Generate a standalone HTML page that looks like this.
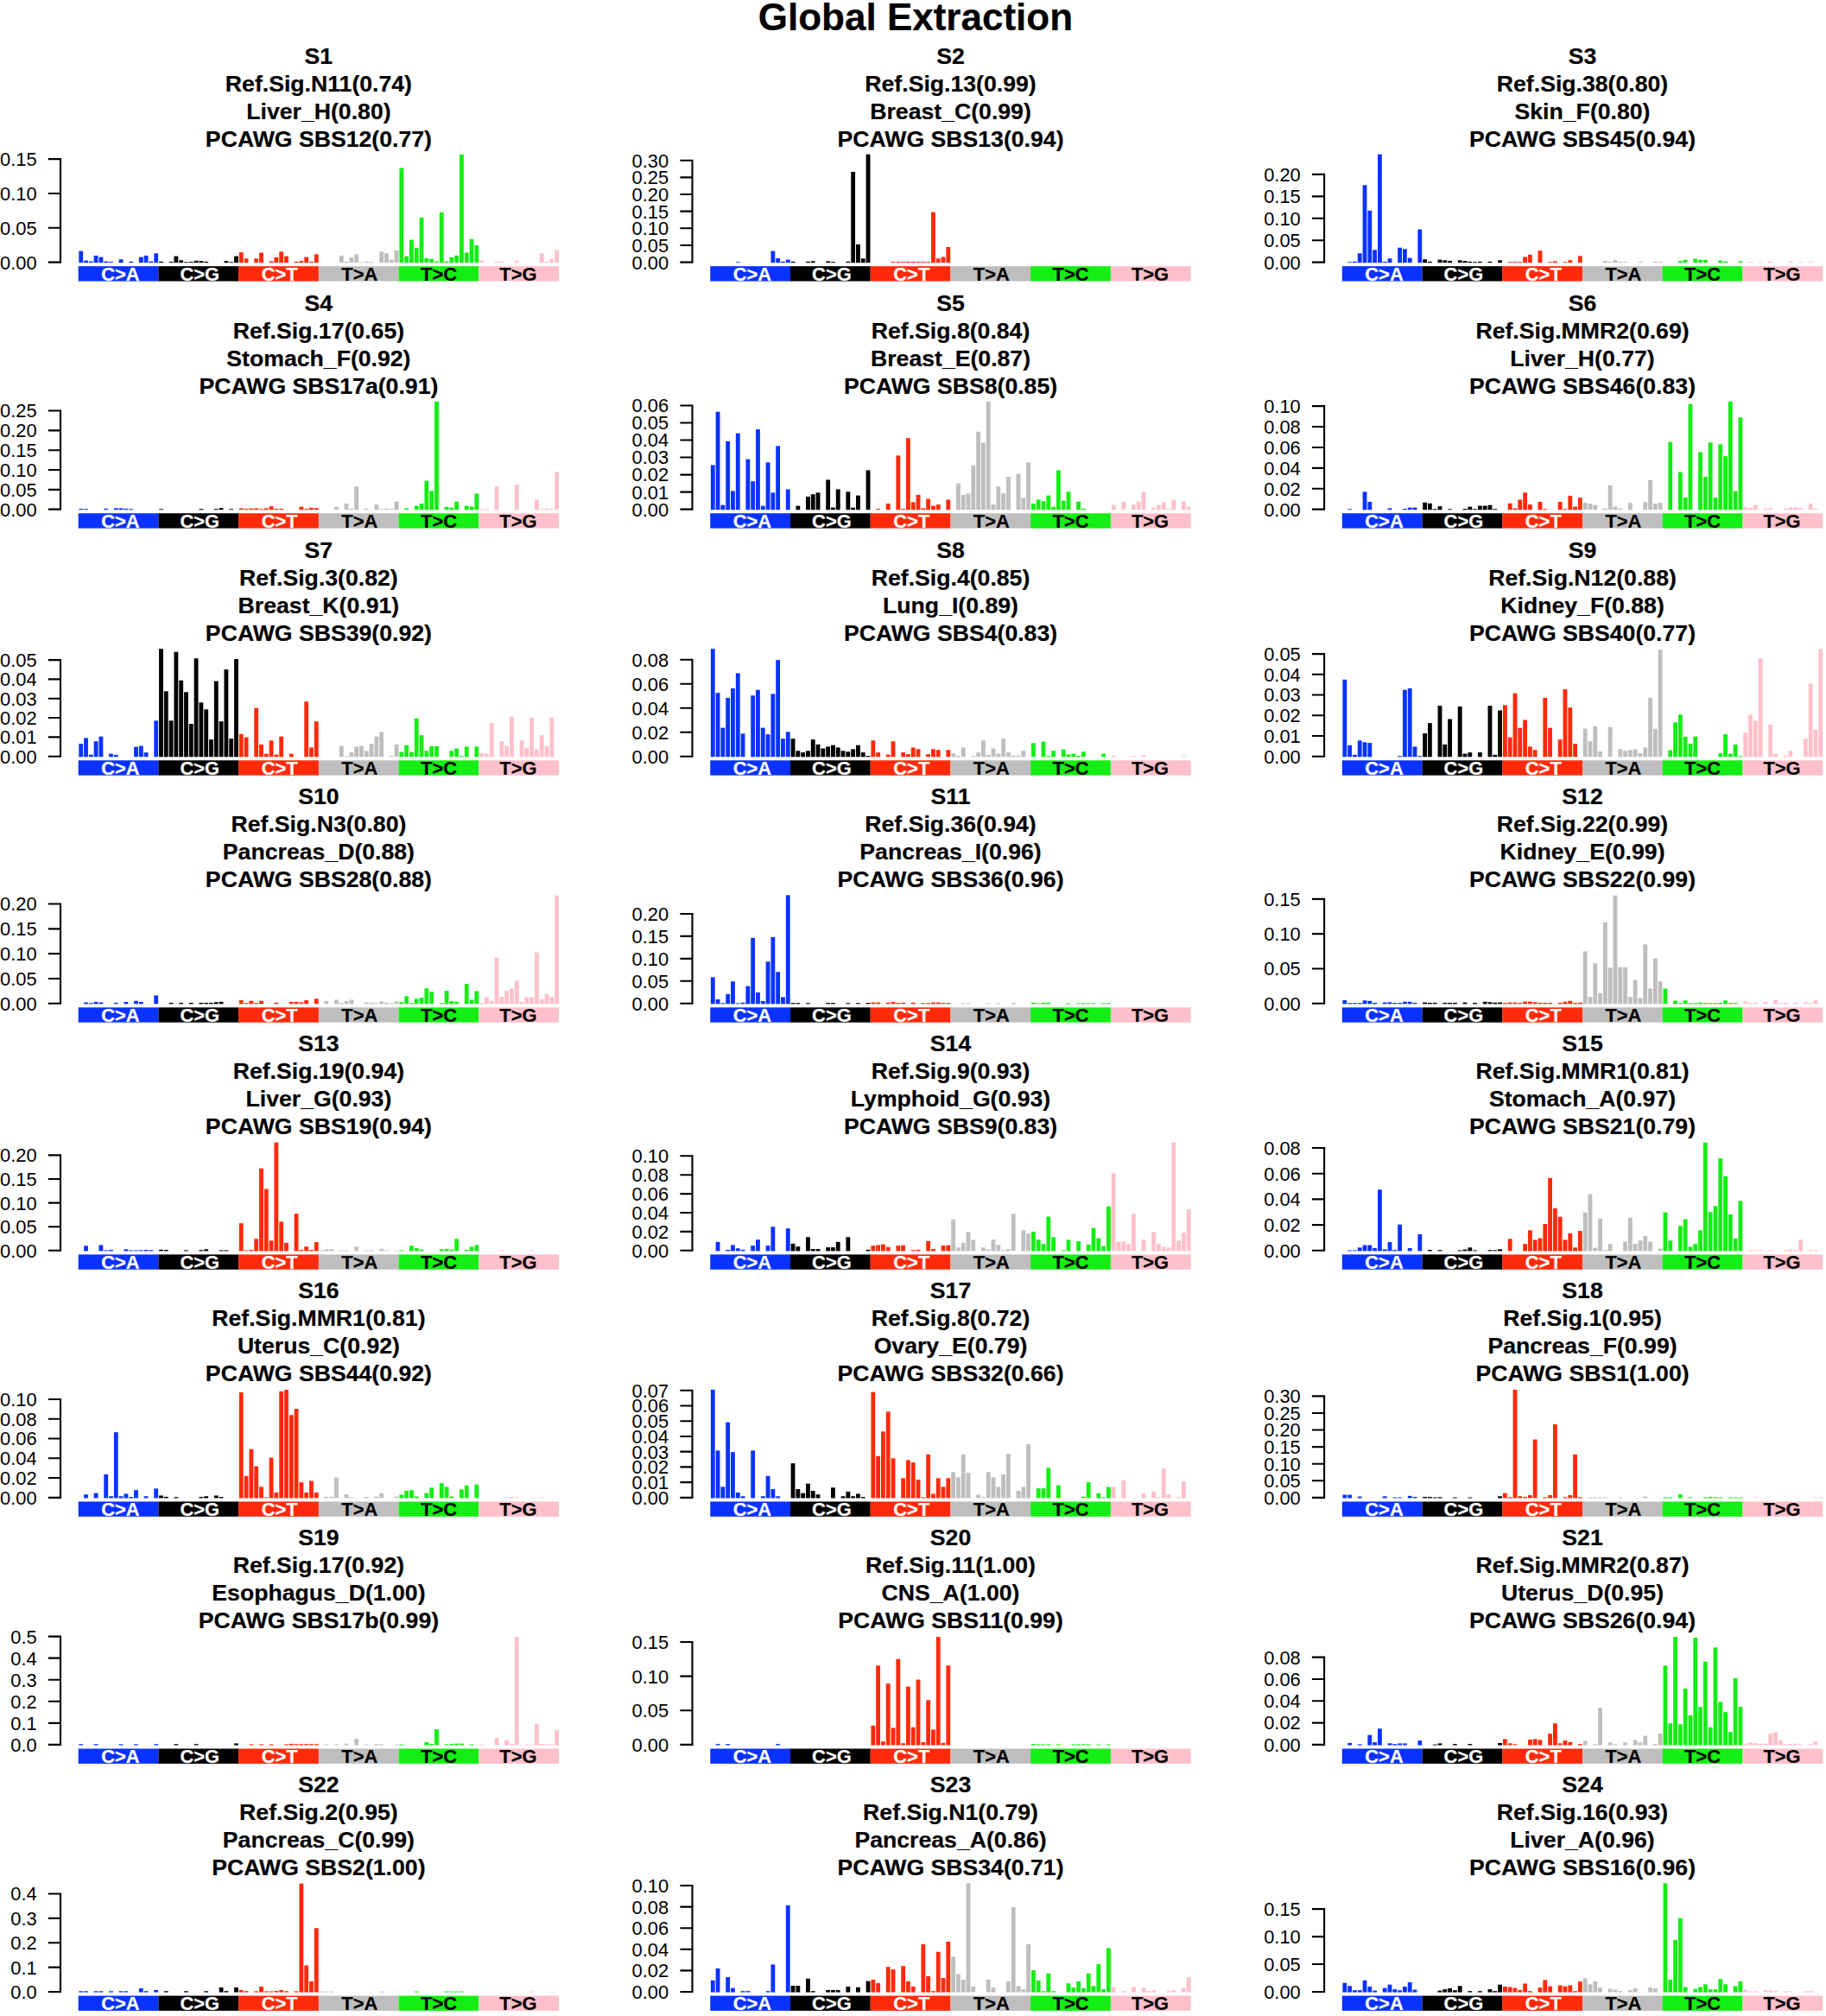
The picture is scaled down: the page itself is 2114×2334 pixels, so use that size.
<!DOCTYPE html><html><head><meta charset="utf-8"><title>Global Extraction</title><style>html,body{margin:0;padding:0;background:#fff}svg{display:block}text{font-family:"Liberation Sans",Arial,Helvetica,sans-serif}.b{font-weight:bold}</style></head><body>
<svg width="2114" height="2334" viewBox="0 0 2114 2334">
<rect width="2114" height="2334" fill="#fff"/>
<text class="b" stroke="#000" stroke-width="0.2" transform="translate(1059.9,35.4) scale(1.0,1)" font-size="44.0" text-anchor="middle" fill="#000">Global Extraction</text>
<text class="b" stroke="#000" stroke-width="0.2" transform="translate(368.9,73.6) scale(1.0,1)" font-size="26.65" text-anchor="middle" fill="#000">S1</text>
<text class="b" stroke="#000" stroke-width="0.2" transform="translate(368.9,105.6) scale(1.0,1)" font-size="26.65" text-anchor="middle" fill="#000">Ref.Sig.N11(0.74)</text>
<text class="b" stroke="#000" stroke-width="0.2" transform="translate(368.9,137.6) scale(1.0,1)" font-size="26.65" text-anchor="middle" fill="#000">Liver_H(0.80)</text>
<text class="b" stroke="#000" stroke-width="0.2" transform="translate(368.9,169.6) scale(1.0,1)" font-size="26.65" text-anchor="middle" fill="#000">PCAWG SBS12(0.77)</text>
<text transform="translate(42.7,311.5) scale(1.0,1)" font-size="21.9" text-anchor="end" fill="#000">0.00</text>
<text transform="translate(42.7,271.6) scale(1.0,1)" font-size="21.9" text-anchor="end" fill="#000">0.05</text>
<text transform="translate(42.7,231.8) scale(1.0,1)" font-size="21.9" text-anchor="end" fill="#000">0.10</text>
<text transform="translate(42.7,192.0) scale(1.0,1)" font-size="21.9" text-anchor="end" fill="#000">0.15</text>
<path d="M70.0 304.65V183.05M55.8 303.60H70.0M55.8 263.77H70.0M55.8 223.93H70.0M55.8 184.10H70.0" fill="none" stroke="#000" stroke-width="2.1"/>
<rect x="91.30" y="290.60" width="4.83" height="13.60" fill="#0A32FF"/>
<rect x="97.10" y="301.60" width="4.83" height="2.60" fill="#0A32FF"/>
<rect x="102.90" y="302.60" width="4.83" height="1.60" fill="#0A32FF"/>
<rect x="108.70" y="295.90" width="4.83" height="8.30" fill="#0A32FF"/>
<rect x="114.50" y="297.60" width="4.83" height="6.60" fill="#0A32FF"/>
<rect x="120.30" y="302.60" width="4.83" height="1.60" fill="#0A32FF"/>
<rect x="126.09" y="303.10" width="4.83" height="1.10" fill="#0A32FF"/>
<rect x="137.69" y="300.20" width="4.83" height="4.00" fill="#0A32FF"/>
<rect x="149.29" y="302.80" width="4.83" height="1.40" fill="#0A32FF"/>
<rect x="160.89" y="297.60" width="4.83" height="6.60" fill="#0A32FF"/>
<rect x="166.69" y="295.90" width="4.83" height="8.30" fill="#0A32FF"/>
<rect x="172.49" y="302.60" width="4.83" height="1.60" fill="#0A32FF"/>
<rect x="178.28" y="293.30" width="4.83" height="10.90" fill="#0A32FF"/>
<rect x="184.08" y="302.80" width="4.83" height="1.40" fill="#000000"/>
<rect x="195.68" y="303.10" width="4.83" height="1.10" fill="#000000"/>
<rect x="201.48" y="296.60" width="4.83" height="7.60" fill="#000000"/>
<rect x="207.28" y="301.30" width="4.83" height="2.90" fill="#000000"/>
<rect x="213.08" y="303.30" width="4.83" height="0.90" fill="#000000"/>
<rect x="218.88" y="303.10" width="4.83" height="1.10" fill="#000000"/>
<rect x="224.68" y="301.80" width="4.83" height="2.40" fill="#000000"/>
<rect x="230.48" y="302.10" width="4.83" height="2.10" fill="#000000"/>
<rect x="236.28" y="302.90" width="4.83" height="1.30" fill="#000000"/>
<rect x="259.47" y="302.10" width="4.83" height="2.10" fill="#000000"/>
<rect x="265.27" y="303.30" width="4.83" height="0.90" fill="#000000"/>
<rect x="271.07" y="296.60" width="4.83" height="7.60" fill="#000000"/>
<rect x="276.87" y="292.10" width="4.83" height="12.10" fill="#FF2A0A"/>
<rect x="282.67" y="299.30" width="4.83" height="4.90" fill="#FF2A0A"/>
<rect x="294.26" y="299.30" width="4.83" height="4.90" fill="#FF2A0A"/>
<rect x="300.06" y="292.60" width="4.83" height="11.60" fill="#FF2A0A"/>
<rect x="311.66" y="302.60" width="4.83" height="1.60" fill="#FF2A0A"/>
<rect x="317.46" y="297.80" width="4.83" height="6.40" fill="#FF2A0A"/>
<rect x="323.26" y="291.30" width="4.83" height="12.90" fill="#FF2A0A"/>
<rect x="329.06" y="296.60" width="4.83" height="7.60" fill="#FF2A0A"/>
<rect x="340.66" y="302.90" width="4.83" height="1.30" fill="#FF2A0A"/>
<rect x="346.46" y="302.10" width="4.83" height="2.10" fill="#FF2A0A"/>
<rect x="352.26" y="297.60" width="4.83" height="6.60" fill="#FF2A0A"/>
<rect x="358.05" y="302.90" width="4.83" height="1.30" fill="#FF2A0A"/>
<rect x="363.85" y="294.40" width="4.83" height="9.80" fill="#FF2A0A"/>
<rect x="392.85" y="295.90" width="4.83" height="8.30" fill="#BEBEBE"/>
<rect x="398.65" y="302.80" width="4.83" height="1.40" fill="#BEBEBE"/>
<rect x="404.45" y="297.80" width="4.83" height="6.40" fill="#BEBEBE"/>
<rect x="410.25" y="294.40" width="4.83" height="9.80" fill="#BEBEBE"/>
<rect x="416.04" y="303.30" width="4.83" height="0.90" fill="#BEBEBE"/>
<rect x="421.84" y="302.60" width="4.83" height="1.60" fill="#BEBEBE"/>
<rect x="427.64" y="303.20" width="4.83" height="1.00" fill="#BEBEBE"/>
<rect x="439.24" y="291.30" width="4.83" height="12.90" fill="#BEBEBE"/>
<rect x="445.04" y="293.30" width="4.83" height="10.90" fill="#BEBEBE"/>
<rect x="450.84" y="300.60" width="4.83" height="3.60" fill="#BEBEBE"/>
<rect x="456.64" y="289.80" width="4.83" height="14.40" fill="#BEBEBE"/>
<rect x="462.44" y="194.40" width="4.83" height="109.80" fill="#14EE14"/>
<rect x="468.24" y="296.60" width="4.83" height="7.60" fill="#14EE14"/>
<rect x="474.03" y="277.60" width="4.83" height="26.60" fill="#14EE14"/>
<rect x="479.83" y="287.10" width="4.83" height="17.10" fill="#14EE14"/>
<rect x="485.63" y="251.90" width="4.83" height="52.30" fill="#14EE14"/>
<rect x="491.43" y="299.00" width="4.83" height="5.20" fill="#14EE14"/>
<rect x="497.23" y="299.80" width="4.83" height="4.40" fill="#14EE14"/>
<rect x="503.03" y="302.60" width="4.83" height="1.60" fill="#14EE14"/>
<rect x="508.83" y="245.80" width="4.83" height="58.40" fill="#14EE14"/>
<rect x="514.63" y="302.60" width="4.83" height="1.60" fill="#14EE14"/>
<rect x="520.43" y="297.80" width="4.83" height="6.40" fill="#14EE14"/>
<rect x="526.23" y="295.90" width="4.83" height="8.30" fill="#14EE14"/>
<rect x="532.02" y="178.90" width="4.83" height="125.30" fill="#14EE14"/>
<rect x="537.82" y="292.40" width="4.83" height="11.80" fill="#14EE14"/>
<rect x="543.62" y="276.80" width="4.83" height="27.40" fill="#14EE14"/>
<rect x="549.42" y="284.00" width="4.83" height="20.20" fill="#14EE14"/>
<rect x="555.22" y="301.30" width="4.83" height="2.90" fill="#FFC0CB"/>
<rect x="572.62" y="302.60" width="4.83" height="1.60" fill="#FFC0CB"/>
<rect x="578.42" y="302.90" width="4.83" height="1.30" fill="#FFC0CB"/>
<rect x="595.81" y="301.80" width="4.83" height="2.40" fill="#FFC0CB"/>
<rect x="624.81" y="293.30" width="4.83" height="10.90" fill="#FFC0CB"/>
<rect x="630.61" y="302.90" width="4.83" height="1.30" fill="#FFC0CB"/>
<rect x="636.41" y="299.80" width="4.83" height="4.40" fill="#FFC0CB"/>
<rect x="642.21" y="289.80" width="4.83" height="14.40" fill="#FFC0CB"/>
<rect x="90.70" y="308.20" width="92.8" height="17.35" fill="#0A32FF"/>
<text class="b" stroke="#fff" stroke-width="0.2" transform="translate(139.4,324.8) scale(1.0,1)" font-size="21.9" text-anchor="middle" fill="#fff">C&gt;A</text>
<rect x="183.42" y="308.20" width="92.8" height="17.35" fill="#000000"/>
<text class="b" stroke="#fff" stroke-width="0.2" transform="translate(231.3,324.8) scale(1.0,1)" font-size="21.9" text-anchor="middle" fill="#fff">C&gt;G</text>
<rect x="276.14" y="308.20" width="92.8" height="17.35" fill="#FF2A0A"/>
<text class="b" stroke="#fff" stroke-width="0.2" transform="translate(323.7,324.8) scale(1.0,1)" font-size="21.9" text-anchor="middle" fill="#fff">C&gt;T</text>
<rect x="368.86" y="308.20" width="92.8" height="17.35" fill="#BEBEBE"/>
<text class="b" stroke="#000" stroke-width="0.2" transform="translate(416.3,324.8) scale(1.0,1)" font-size="21.9" text-anchor="middle" fill="#000">T&gt;A</text>
<rect x="461.58" y="308.20" width="92.8" height="17.35" fill="#14EE14"/>
<text class="b" stroke="#000" stroke-width="0.2" transform="translate(508.0,324.8) scale(1.0,1)" font-size="21.9" text-anchor="middle" fill="#000">T&gt;C</text>
<rect x="554.30" y="308.20" width="92.8" height="17.35" fill="#FFC0CB"/>
<text class="b" stroke="#000" stroke-width="0.2" transform="translate(599.9,324.8) scale(1.0,1)" font-size="21.9" text-anchor="middle" fill="#000">T&gt;G</text>
<text class="b" stroke="#000" stroke-width="0.2" transform="translate(1100.5,73.6) scale(1.0,1)" font-size="26.65" text-anchor="middle" fill="#000">S2</text>
<text class="b" stroke="#000" stroke-width="0.2" transform="translate(1100.5,105.6) scale(1.0,1)" font-size="26.65" text-anchor="middle" fill="#000">Ref.Sig.13(0.99)</text>
<text class="b" stroke="#000" stroke-width="0.2" transform="translate(1100.5,137.6) scale(1.0,1)" font-size="26.65" text-anchor="middle" fill="#000">Breast_C(0.99)</text>
<text class="b" stroke="#000" stroke-width="0.2" transform="translate(1100.5,169.6) scale(1.0,1)" font-size="26.65" text-anchor="middle" fill="#000">PCAWG SBS13(0.94)</text>
<text transform="translate(774.2,311.5) scale(1.0,1)" font-size="21.9" text-anchor="end" fill="#000">0.00</text>
<text transform="translate(774.2,291.8) scale(1.0,1)" font-size="21.9" text-anchor="end" fill="#000">0.05</text>
<text transform="translate(774.2,272.2) scale(1.0,1)" font-size="21.9" text-anchor="end" fill="#000">0.10</text>
<text transform="translate(774.2,252.5) scale(1.0,1)" font-size="21.9" text-anchor="end" fill="#000">0.15</text>
<text transform="translate(774.2,232.8) scale(1.0,1)" font-size="21.9" text-anchor="end" fill="#000">0.20</text>
<text transform="translate(774.2,213.2) scale(1.0,1)" font-size="21.9" text-anchor="end" fill="#000">0.25</text>
<text transform="translate(774.2,193.5) scale(1.0,1)" font-size="21.9" text-anchor="end" fill="#000">0.30</text>
<path d="M801.5 304.65V184.65M787.4 303.60H801.5M787.4 283.95H801.5M787.4 264.30H801.5M787.4 244.65H801.5M787.4 225.00H801.5M787.4 205.35H801.5M787.4 185.70H801.5" fill="none" stroke="#000" stroke-width="2.1"/>
<rect x="851.85" y="303.30" width="4.83" height="0.90" fill="#0A32FF"/>
<rect x="892.44" y="290.60" width="4.83" height="13.60" fill="#0A32FF"/>
<rect x="898.24" y="299.00" width="4.83" height="5.20" fill="#0A32FF"/>
<rect x="904.04" y="302.80" width="4.83" height="1.40" fill="#0A32FF"/>
<rect x="909.84" y="300.60" width="4.83" height="3.60" fill="#0A32FF"/>
<rect x="915.63" y="302.80" width="4.83" height="1.40" fill="#000000"/>
<rect x="933.03" y="302.90" width="4.83" height="1.30" fill="#000000"/>
<rect x="938.83" y="302.40" width="4.83" height="1.80" fill="#000000"/>
<rect x="956.23" y="302.40" width="4.83" height="1.80" fill="#000000"/>
<rect x="962.03" y="303.20" width="4.83" height="1.00" fill="#000000"/>
<rect x="979.42" y="302.80" width="4.83" height="1.40" fill="#000000"/>
<rect x="985.22" y="199.00" width="4.83" height="105.20" fill="#000000"/>
<rect x="991.02" y="282.90" width="4.83" height="21.30" fill="#000000"/>
<rect x="996.82" y="299.30" width="4.83" height="4.90" fill="#000000"/>
<rect x="1002.62" y="178.60" width="4.83" height="125.60" fill="#000000"/>
<rect x="1031.61" y="303.10" width="4.83" height="1.10" fill="#FF2A0A"/>
<rect x="1037.41" y="303.20" width="4.83" height="1.00" fill="#FF2A0A"/>
<rect x="1043.21" y="303.10" width="4.83" height="1.10" fill="#FF2A0A"/>
<rect x="1049.01" y="303.00" width="4.83" height="1.20" fill="#FF2A0A"/>
<rect x="1054.81" y="303.00" width="4.83" height="1.20" fill="#FF2A0A"/>
<rect x="1060.61" y="303.20" width="4.83" height="1.00" fill="#FF2A0A"/>
<rect x="1066.41" y="303.20" width="4.83" height="1.00" fill="#FF2A0A"/>
<rect x="1072.21" y="303.20" width="4.83" height="1.00" fill="#FF2A0A"/>
<rect x="1078.01" y="245.60" width="4.83" height="58.60" fill="#FF2A0A"/>
<rect x="1083.81" y="299.30" width="4.83" height="4.90" fill="#FF2A0A"/>
<rect x="1089.60" y="297.50" width="4.83" height="6.70" fill="#FF2A0A"/>
<rect x="1095.40" y="286.00" width="4.83" height="18.20" fill="#FF2A0A"/>
<rect x="822.25" y="308.20" width="92.8" height="17.35" fill="#0A32FF"/>
<text class="b" stroke="#fff" stroke-width="0.2" transform="translate(870.9,324.8) scale(1.0,1)" font-size="21.9" text-anchor="middle" fill="#fff">C&gt;A</text>
<rect x="914.97" y="308.20" width="92.8" height="17.35" fill="#000000"/>
<text class="b" stroke="#fff" stroke-width="0.2" transform="translate(962.9,324.8) scale(1.0,1)" font-size="21.9" text-anchor="middle" fill="#fff">C&gt;G</text>
<rect x="1007.69" y="308.20" width="92.8" height="17.35" fill="#FF2A0A"/>
<text class="b" stroke="#fff" stroke-width="0.2" transform="translate(1055.3,324.8) scale(1.0,1)" font-size="21.9" text-anchor="middle" fill="#fff">C&gt;T</text>
<rect x="1100.41" y="308.20" width="92.8" height="17.35" fill="#BEBEBE"/>
<text class="b" stroke="#000" stroke-width="0.2" transform="translate(1147.8,324.8) scale(1.0,1)" font-size="21.9" text-anchor="middle" fill="#000">T&gt;A</text>
<rect x="1193.13" y="308.20" width="92.8" height="17.35" fill="#14EE14"/>
<text class="b" stroke="#000" stroke-width="0.2" transform="translate(1239.5,324.8) scale(1.0,1)" font-size="21.9" text-anchor="middle" fill="#000">T&gt;C</text>
<rect x="1285.85" y="308.20" width="92.8" height="17.35" fill="#FFC0CB"/>
<text class="b" stroke="#000" stroke-width="0.2" transform="translate(1331.5,324.8) scale(1.0,1)" font-size="21.9" text-anchor="middle" fill="#000">T&gt;G</text>
<text class="b" stroke="#000" stroke-width="0.2" transform="translate(1832.0,73.6) scale(1.0,1)" font-size="26.65" text-anchor="middle" fill="#000">S3</text>
<text class="b" stroke="#000" stroke-width="0.2" transform="translate(1832.0,105.6) scale(1.0,1)" font-size="26.65" text-anchor="middle" fill="#000">Ref.Sig.38(0.80)</text>
<text class="b" stroke="#000" stroke-width="0.2" transform="translate(1832.0,137.6) scale(1.0,1)" font-size="26.65" text-anchor="middle" fill="#000">Skin_F(0.80)</text>
<text class="b" stroke="#000" stroke-width="0.2" transform="translate(1832.0,169.6) scale(1.0,1)" font-size="26.65" text-anchor="middle" fill="#000">PCAWG SBS45(0.94)</text>
<text transform="translate(1505.8,311.5) scale(1.0,1)" font-size="21.9" text-anchor="end" fill="#000">0.00</text>
<text transform="translate(1505.8,286.0) scale(1.0,1)" font-size="21.9" text-anchor="end" fill="#000">0.05</text>
<text transform="translate(1505.8,260.6) scale(1.0,1)" font-size="21.9" text-anchor="end" fill="#000">0.10</text>
<text transform="translate(1505.8,235.2) scale(1.0,1)" font-size="21.9" text-anchor="end" fill="#000">0.15</text>
<text transform="translate(1505.8,209.8) scale(1.0,1)" font-size="21.9" text-anchor="end" fill="#000">0.20</text>
<path d="M1533.1 304.65V200.85M1518.9 303.60H1533.1M1518.9 278.18H1533.1M1518.9 252.75H1533.1M1518.9 227.33H1533.1M1518.9 201.90H1533.1" fill="none" stroke="#000" stroke-width="2.1"/>
<rect x="1560.20" y="303.30" width="4.83" height="0.90" fill="#0A32FF"/>
<rect x="1566.00" y="302.80" width="4.83" height="1.40" fill="#0A32FF"/>
<rect x="1571.80" y="293.20" width="4.83" height="11.00" fill="#0A32FF"/>
<rect x="1577.60" y="214.30" width="4.83" height="89.90" fill="#0A32FF"/>
<rect x="1583.39" y="243.80" width="4.83" height="60.40" fill="#0A32FF"/>
<rect x="1589.19" y="289.30" width="4.83" height="14.90" fill="#0A32FF"/>
<rect x="1594.99" y="178.60" width="4.83" height="125.60" fill="#0A32FF"/>
<rect x="1600.79" y="302.90" width="4.83" height="1.30" fill="#0A32FF"/>
<rect x="1606.59" y="299.30" width="4.83" height="4.90" fill="#0A32FF"/>
<rect x="1618.19" y="286.70" width="4.83" height="17.50" fill="#0A32FF"/>
<rect x="1623.99" y="288.30" width="4.83" height="15.90" fill="#0A32FF"/>
<rect x="1629.79" y="298.60" width="4.83" height="5.60" fill="#0A32FF"/>
<rect x="1641.38" y="265.60" width="4.83" height="38.60" fill="#0A32FF"/>
<rect x="1647.18" y="300.20" width="4.83" height="4.00" fill="#000000"/>
<rect x="1652.98" y="302.90" width="4.83" height="1.30" fill="#000000"/>
<rect x="1664.58" y="300.60" width="4.83" height="3.60" fill="#000000"/>
<rect x="1670.38" y="301.30" width="4.83" height="2.90" fill="#000000"/>
<rect x="1676.18" y="302.10" width="4.83" height="2.10" fill="#000000"/>
<rect x="1687.78" y="301.30" width="4.83" height="2.90" fill="#000000"/>
<rect x="1693.58" y="302.10" width="4.83" height="2.10" fill="#000000"/>
<rect x="1699.38" y="302.90" width="4.83" height="1.30" fill="#000000"/>
<rect x="1705.17" y="303.30" width="4.83" height="0.90" fill="#000000"/>
<rect x="1710.97" y="302.90" width="4.83" height="1.30" fill="#000000"/>
<rect x="1722.57" y="302.90" width="4.83" height="1.30" fill="#000000"/>
<rect x="1734.17" y="301.30" width="4.83" height="2.90" fill="#000000"/>
<rect x="1745.77" y="303.20" width="4.83" height="1.00" fill="#FF2A0A"/>
<rect x="1751.57" y="303.20" width="4.83" height="1.00" fill="#FF2A0A"/>
<rect x="1757.36" y="303.20" width="4.83" height="1.00" fill="#FF2A0A"/>
<rect x="1763.16" y="297.50" width="4.83" height="6.70" fill="#FF2A0A"/>
<rect x="1768.96" y="294.90" width="4.83" height="9.30" fill="#FF2A0A"/>
<rect x="1780.56" y="290.10" width="4.83" height="14.10" fill="#FF2A0A"/>
<rect x="1792.16" y="303.30" width="4.83" height="0.90" fill="#FF2A0A"/>
<rect x="1797.96" y="302.40" width="4.83" height="1.80" fill="#FF2A0A"/>
<rect x="1809.56" y="303.30" width="4.83" height="0.90" fill="#FF2A0A"/>
<rect x="1815.36" y="301.30" width="4.83" height="2.90" fill="#FF2A0A"/>
<rect x="1826.95" y="296.40" width="4.83" height="7.80" fill="#FF2A0A"/>
<rect x="1855.95" y="302.10" width="4.83" height="2.10" fill="#BEBEBE"/>
<rect x="1861.75" y="303.10" width="4.83" height="1.10" fill="#BEBEBE"/>
<rect x="1867.55" y="301.10" width="4.83" height="3.10" fill="#BEBEBE"/>
<rect x="1873.34" y="303.10" width="4.83" height="1.10" fill="#BEBEBE"/>
<rect x="1879.14" y="303.20" width="4.83" height="1.00" fill="#BEBEBE"/>
<rect x="1896.54" y="303.20" width="4.83" height="1.00" fill="#BEBEBE"/>
<rect x="1913.94" y="303.10" width="4.83" height="1.10" fill="#BEBEBE"/>
<rect x="1919.74" y="303.10" width="4.83" height="1.10" fill="#BEBEBE"/>
<rect x="1942.93" y="302.10" width="4.83" height="2.10" fill="#14EE14"/>
<rect x="1948.73" y="300.80" width="4.83" height="3.40" fill="#14EE14"/>
<rect x="1960.33" y="299.60" width="4.83" height="4.60" fill="#14EE14"/>
<rect x="1966.13" y="300.90" width="4.83" height="3.30" fill="#14EE14"/>
<rect x="1971.93" y="300.80" width="4.83" height="3.40" fill="#14EE14"/>
<rect x="1989.32" y="301.60" width="4.83" height="2.60" fill="#14EE14"/>
<rect x="1995.12" y="302.60" width="4.83" height="1.60" fill="#14EE14"/>
<rect x="2012.52" y="302.60" width="4.83" height="1.60" fill="#14EE14"/>
<rect x="2024.12" y="303.20" width="4.83" height="1.00" fill="#FFC0CB"/>
<rect x="2035.72" y="303.20" width="4.83" height="1.00" fill="#FFC0CB"/>
<rect x="2047.31" y="302.80" width="4.83" height="1.40" fill="#FFC0CB"/>
<rect x="2070.51" y="302.60" width="4.83" height="1.60" fill="#FFC0CB"/>
<rect x="2082.11" y="303.20" width="4.83" height="1.00" fill="#FFC0CB"/>
<rect x="2093.71" y="303.20" width="4.83" height="1.00" fill="#FFC0CB"/>
<rect x="1553.80" y="308.20" width="92.8" height="17.35" fill="#0A32FF"/>
<text class="b" stroke="#fff" stroke-width="0.2" transform="translate(1602.5,324.8) scale(1.0,1)" font-size="21.9" text-anchor="middle" fill="#fff">C&gt;A</text>
<rect x="1646.52" y="308.20" width="92.8" height="17.35" fill="#000000"/>
<text class="b" stroke="#fff" stroke-width="0.2" transform="translate(1694.4,324.8) scale(1.0,1)" font-size="21.9" text-anchor="middle" fill="#fff">C&gt;G</text>
<rect x="1739.24" y="308.20" width="92.8" height="17.35" fill="#FF2A0A"/>
<text class="b" stroke="#fff" stroke-width="0.2" transform="translate(1786.8,324.8) scale(1.0,1)" font-size="21.9" text-anchor="middle" fill="#fff">C&gt;T</text>
<rect x="1831.96" y="308.20" width="92.8" height="17.35" fill="#BEBEBE"/>
<text class="b" stroke="#000" stroke-width="0.2" transform="translate(1879.4,324.8) scale(1.0,1)" font-size="21.9" text-anchor="middle" fill="#000">T&gt;A</text>
<rect x="1924.68" y="308.20" width="92.8" height="17.35" fill="#14EE14"/>
<text class="b" stroke="#000" stroke-width="0.2" transform="translate(1971.1,324.8) scale(1.0,1)" font-size="21.9" text-anchor="middle" fill="#000">T&gt;C</text>
<rect x="2017.40" y="308.20" width="92.8" height="17.35" fill="#FFC0CB"/>
<text class="b" stroke="#000" stroke-width="0.2" transform="translate(2063.0,324.8) scale(1.0,1)" font-size="21.9" text-anchor="middle" fill="#000">T&gt;G</text>
<text class="b" stroke="#000" stroke-width="0.2" transform="translate(368.9,359.5) scale(1.0,1)" font-size="26.65" text-anchor="middle" fill="#000">S4</text>
<text class="b" stroke="#000" stroke-width="0.2" transform="translate(368.9,391.5) scale(1.0,1)" font-size="26.65" text-anchor="middle" fill="#000">Ref.Sig.17(0.65)</text>
<text class="b" stroke="#000" stroke-width="0.2" transform="translate(368.9,423.5) scale(1.0,1)" font-size="26.65" text-anchor="middle" fill="#000">Stomach_F(0.92)</text>
<text class="b" stroke="#000" stroke-width="0.2" transform="translate(368.9,455.5) scale(1.0,1)" font-size="26.65" text-anchor="middle" fill="#000">PCAWG SBS17a(0.91)</text>
<text transform="translate(42.7,597.5) scale(1.0,1)" font-size="21.9" text-anchor="end" fill="#000">0.00</text>
<text transform="translate(42.7,574.7) scale(1.0,1)" font-size="21.9" text-anchor="end" fill="#000">0.05</text>
<text transform="translate(42.7,551.9) scale(1.0,1)" font-size="21.9" text-anchor="end" fill="#000">0.10</text>
<text transform="translate(42.7,529.0) scale(1.0,1)" font-size="21.9" text-anchor="end" fill="#000">0.15</text>
<text transform="translate(42.7,506.2) scale(1.0,1)" font-size="21.9" text-anchor="end" fill="#000">0.20</text>
<text transform="translate(42.7,483.4) scale(1.0,1)" font-size="21.9" text-anchor="end" fill="#000">0.25</text>
<path d="M70.0 590.70V474.50M55.8 589.65H70.0M55.8 566.83H70.0M55.8 544.01H70.0M55.8 521.19H70.0M55.8 498.37H70.0M55.8 475.55H70.0" fill="none" stroke="#000" stroke-width="2.1"/>
<rect x="91.30" y="589.05" width="4.83" height="1.20" fill="#0A32FF"/>
<rect x="97.10" y="589.25" width="4.83" height="1.00" fill="#0A32FF"/>
<rect x="120.30" y="588.85" width="4.83" height="1.40" fill="#0A32FF"/>
<rect x="131.89" y="588.35" width="4.83" height="1.90" fill="#0A32FF"/>
<rect x="137.69" y="588.35" width="4.83" height="1.90" fill="#0A32FF"/>
<rect x="143.49" y="588.85" width="4.83" height="1.40" fill="#0A32FF"/>
<rect x="149.29" y="589.25" width="4.83" height="1.00" fill="#0A32FF"/>
<rect x="184.08" y="589.35" width="4.83" height="0.90" fill="#000000"/>
<rect x="230.48" y="589.15" width="4.83" height="1.10" fill="#000000"/>
<rect x="247.87" y="589.25" width="4.83" height="1.00" fill="#000000"/>
<rect x="253.67" y="588.15" width="4.83" height="2.10" fill="#000000"/>
<rect x="265.27" y="589.35" width="4.83" height="0.90" fill="#000000"/>
<rect x="276.87" y="588.45" width="4.83" height="1.80" fill="#FF2A0A"/>
<rect x="282.67" y="589.05" width="4.83" height="1.20" fill="#FF2A0A"/>
<rect x="288.47" y="588.65" width="4.83" height="1.60" fill="#FF2A0A"/>
<rect x="294.26" y="588.45" width="4.83" height="1.80" fill="#FF2A0A"/>
<rect x="300.06" y="589.25" width="4.83" height="1.00" fill="#FF2A0A"/>
<rect x="305.86" y="588.35" width="4.83" height="1.90" fill="#FF2A0A"/>
<rect x="311.66" y="586.15" width="4.83" height="4.10" fill="#FF2A0A"/>
<rect x="317.46" y="588.95" width="4.83" height="1.30" fill="#FF2A0A"/>
<rect x="323.26" y="589.05" width="4.83" height="1.20" fill="#FF2A0A"/>
<rect x="346.46" y="586.65" width="4.83" height="3.60" fill="#FF2A0A"/>
<rect x="352.26" y="589.15" width="4.83" height="1.10" fill="#FF2A0A"/>
<rect x="358.05" y="587.85" width="4.83" height="2.40" fill="#FF2A0A"/>
<rect x="363.85" y="588.15" width="4.83" height="2.10" fill="#FF2A0A"/>
<rect x="387.05" y="586.75" width="4.83" height="3.50" fill="#BEBEBE"/>
<rect x="398.65" y="583.05" width="4.83" height="7.20" fill="#BEBEBE"/>
<rect x="404.45" y="588.75" width="4.83" height="1.50" fill="#BEBEBE"/>
<rect x="410.25" y="563.15" width="4.83" height="27.10" fill="#BEBEBE"/>
<rect x="421.84" y="588.85" width="4.83" height="1.40" fill="#BEBEBE"/>
<rect x="433.44" y="584.15" width="4.83" height="6.10" fill="#BEBEBE"/>
<rect x="439.24" y="589.25" width="4.83" height="1.00" fill="#BEBEBE"/>
<rect x="445.04" y="588.85" width="4.83" height="1.40" fill="#BEBEBE"/>
<rect x="450.84" y="589.25" width="4.83" height="1.00" fill="#BEBEBE"/>
<rect x="456.64" y="580.65" width="4.83" height="9.60" fill="#BEBEBE"/>
<rect x="468.24" y="588.45" width="4.83" height="1.80" fill="#14EE14"/>
<rect x="479.83" y="585.65" width="4.83" height="4.60" fill="#14EE14"/>
<rect x="485.63" y="583.05" width="4.83" height="7.20" fill="#14EE14"/>
<rect x="491.43" y="556.55" width="4.83" height="33.70" fill="#14EE14"/>
<rect x="497.23" y="568.35" width="4.83" height="21.90" fill="#14EE14"/>
<rect x="503.03" y="464.85" width="4.83" height="125.40" fill="#14EE14"/>
<rect x="514.63" y="586.75" width="4.83" height="3.50" fill="#14EE14"/>
<rect x="520.43" y="587.65" width="4.83" height="2.60" fill="#14EE14"/>
<rect x="526.23" y="580.65" width="4.83" height="9.60" fill="#14EE14"/>
<rect x="537.82" y="585.65" width="4.83" height="4.60" fill="#14EE14"/>
<rect x="543.62" y="586.45" width="4.83" height="3.80" fill="#14EE14"/>
<rect x="549.42" y="571.45" width="4.83" height="18.80" fill="#14EE14"/>
<rect x="555.22" y="589.25" width="4.83" height="1.00" fill="#FFC0CB"/>
<rect x="561.02" y="589.25" width="4.83" height="1.00" fill="#FFC0CB"/>
<rect x="572.62" y="563.15" width="4.83" height="27.10" fill="#FFC0CB"/>
<rect x="595.81" y="561.15" width="4.83" height="29.10" fill="#FFC0CB"/>
<rect x="619.01" y="578.45" width="4.83" height="11.80" fill="#FFC0CB"/>
<rect x="624.81" y="589.15" width="4.83" height="1.10" fill="#FFC0CB"/>
<rect x="630.61" y="588.85" width="4.83" height="1.40" fill="#FFC0CB"/>
<rect x="636.41" y="589.05" width="4.83" height="1.20" fill="#FFC0CB"/>
<rect x="642.21" y="546.25" width="4.83" height="44.00" fill="#FFC0CB"/>
<rect x="90.70" y="594.25" width="92.8" height="17.35" fill="#0A32FF"/>
<text class="b" stroke="#fff" stroke-width="0.2" transform="translate(139.4,610.9) scale(1.0,1)" font-size="21.9" text-anchor="middle" fill="#fff">C&gt;A</text>
<rect x="183.42" y="594.25" width="92.8" height="17.35" fill="#000000"/>
<text class="b" stroke="#fff" stroke-width="0.2" transform="translate(231.3,610.9) scale(1.0,1)" font-size="21.9" text-anchor="middle" fill="#fff">C&gt;G</text>
<rect x="276.14" y="594.25" width="92.8" height="17.35" fill="#FF2A0A"/>
<text class="b" stroke="#fff" stroke-width="0.2" transform="translate(323.7,610.9) scale(1.0,1)" font-size="21.9" text-anchor="middle" fill="#fff">C&gt;T</text>
<rect x="368.86" y="594.25" width="92.8" height="17.35" fill="#BEBEBE"/>
<text class="b" stroke="#000" stroke-width="0.2" transform="translate(416.3,610.9) scale(1.0,1)" font-size="21.9" text-anchor="middle" fill="#000">T&gt;A</text>
<rect x="461.58" y="594.25" width="92.8" height="17.35" fill="#14EE14"/>
<text class="b" stroke="#000" stroke-width="0.2" transform="translate(508.0,610.9) scale(1.0,1)" font-size="21.9" text-anchor="middle" fill="#000">T&gt;C</text>
<rect x="554.30" y="594.25" width="92.8" height="17.35" fill="#FFC0CB"/>
<text class="b" stroke="#000" stroke-width="0.2" transform="translate(599.9,610.9) scale(1.0,1)" font-size="21.9" text-anchor="middle" fill="#000">T&gt;G</text>
<text class="b" stroke="#000" stroke-width="0.2" transform="translate(1100.5,359.5) scale(1.0,1)" font-size="26.65" text-anchor="middle" fill="#000">S5</text>
<text class="b" stroke="#000" stroke-width="0.2" transform="translate(1100.5,391.5) scale(1.0,1)" font-size="26.65" text-anchor="middle" fill="#000">Ref.Sig.8(0.84)</text>
<text class="b" stroke="#000" stroke-width="0.2" transform="translate(1100.5,423.5) scale(1.0,1)" font-size="26.65" text-anchor="middle" fill="#000">Breast_E(0.87)</text>
<text class="b" stroke="#000" stroke-width="0.2" transform="translate(1100.5,455.5) scale(1.0,1)" font-size="26.65" text-anchor="middle" fill="#000">PCAWG SBS8(0.85)</text>
<text transform="translate(774.2,597.5) scale(1.0,1)" font-size="21.9" text-anchor="end" fill="#000">0.00</text>
<text transform="translate(774.2,577.5) scale(1.0,1)" font-size="21.9" text-anchor="end" fill="#000">0.01</text>
<text transform="translate(774.2,557.4) scale(1.0,1)" font-size="21.9" text-anchor="end" fill="#000">0.02</text>
<text transform="translate(774.2,537.4) scale(1.0,1)" font-size="21.9" text-anchor="end" fill="#000">0.03</text>
<text transform="translate(774.2,517.4) scale(1.0,1)" font-size="21.9" text-anchor="end" fill="#000">0.04</text>
<text transform="translate(774.2,497.3) scale(1.0,1)" font-size="21.9" text-anchor="end" fill="#000">0.05</text>
<text transform="translate(774.2,477.3) scale(1.0,1)" font-size="21.9" text-anchor="end" fill="#000">0.06</text>
<path d="M801.5 590.70V468.40M787.4 589.65H801.5M787.4 569.62H801.5M787.4 549.58H801.5M787.4 529.55H801.5M787.4 509.52H801.5M787.4 489.48H801.5M787.4 469.45H801.5" fill="none" stroke="#000" stroke-width="2.1"/>
<rect x="822.85" y="538.45" width="4.83" height="51.80" fill="#0A32FF"/>
<rect x="828.65" y="476.75" width="4.83" height="113.50" fill="#0A32FF"/>
<rect x="834.45" y="584.65" width="4.83" height="5.60" fill="#0A32FF"/>
<rect x="840.25" y="510.85" width="4.83" height="79.40" fill="#0A32FF"/>
<rect x="846.05" y="568.35" width="4.83" height="21.90" fill="#0A32FF"/>
<rect x="851.85" y="501.65" width="4.83" height="88.60" fill="#0A32FF"/>
<rect x="863.44" y="531.65" width="4.83" height="58.60" fill="#0A32FF"/>
<rect x="869.24" y="557.25" width="4.83" height="33.00" fill="#0A32FF"/>
<rect x="875.04" y="497.05" width="4.83" height="93.20" fill="#0A32FF"/>
<rect x="880.84" y="585.65" width="4.83" height="4.60" fill="#0A32FF"/>
<rect x="886.64" y="535.35" width="4.83" height="54.90" fill="#0A32FF"/>
<rect x="892.44" y="570.35" width="4.83" height="19.90" fill="#0A32FF"/>
<rect x="898.24" y="516.35" width="4.83" height="73.90" fill="#0A32FF"/>
<rect x="909.84" y="566.45" width="4.83" height="23.80" fill="#0A32FF"/>
<rect x="921.43" y="585.65" width="4.83" height="4.60" fill="#000000"/>
<rect x="933.03" y="574.95" width="4.83" height="15.30" fill="#000000"/>
<rect x="938.83" y="572.15" width="4.83" height="18.10" fill="#000000"/>
<rect x="944.63" y="570.35" width="4.83" height="19.90" fill="#000000"/>
<rect x="956.23" y="555.45" width="4.83" height="34.80" fill="#000000"/>
<rect x="962.03" y="587.55" width="4.83" height="2.70" fill="#000000"/>
<rect x="967.83" y="566.45" width="4.83" height="23.80" fill="#000000"/>
<rect x="979.42" y="569.25" width="4.83" height="21.00" fill="#000000"/>
<rect x="985.22" y="587.65" width="4.83" height="2.60" fill="#000000"/>
<rect x="991.02" y="573.65" width="4.83" height="16.60" fill="#000000"/>
<rect x="1002.62" y="544.45" width="4.83" height="45.80" fill="#000000"/>
<rect x="1014.22" y="589.15" width="4.83" height="1.10" fill="#FF2A0A"/>
<rect x="1025.82" y="583.05" width="4.83" height="7.20" fill="#FF2A0A"/>
<rect x="1037.41" y="527.35" width="4.83" height="62.90" fill="#FF2A0A"/>
<rect x="1043.21" y="589.15" width="4.83" height="1.10" fill="#FF2A0A"/>
<rect x="1049.01" y="507.15" width="4.83" height="83.10" fill="#FF2A0A"/>
<rect x="1054.81" y="581.35" width="4.83" height="8.90" fill="#FF2A0A"/>
<rect x="1060.61" y="572.95" width="4.83" height="17.30" fill="#FF2A0A"/>
<rect x="1066.41" y="588.45" width="4.83" height="1.80" fill="#FF2A0A"/>
<rect x="1072.21" y="577.55" width="4.83" height="12.70" fill="#FF2A0A"/>
<rect x="1078.01" y="585.65" width="4.83" height="4.60" fill="#FF2A0A"/>
<rect x="1083.81" y="584.15" width="4.83" height="6.10" fill="#FF2A0A"/>
<rect x="1095.40" y="578.45" width="4.83" height="11.80" fill="#FF2A0A"/>
<rect x="1107.00" y="559.65" width="4.83" height="30.60" fill="#BEBEBE"/>
<rect x="1112.80" y="572.95" width="4.83" height="17.30" fill="#BEBEBE"/>
<rect x="1118.60" y="571.45" width="4.83" height="18.80" fill="#BEBEBE"/>
<rect x="1124.40" y="539.15" width="4.83" height="51.10" fill="#BEBEBE"/>
<rect x="1130.20" y="499.75" width="4.83" height="90.50" fill="#BEBEBE"/>
<rect x="1136.00" y="512.55" width="4.83" height="77.70" fill="#BEBEBE"/>
<rect x="1141.80" y="464.95" width="4.83" height="125.30" fill="#BEBEBE"/>
<rect x="1147.59" y="584.15" width="4.83" height="6.10" fill="#BEBEBE"/>
<rect x="1153.39" y="563.15" width="4.83" height="27.10" fill="#BEBEBE"/>
<rect x="1159.19" y="571.05" width="4.83" height="19.20" fill="#BEBEBE"/>
<rect x="1164.99" y="552.05" width="4.83" height="38.20" fill="#BEBEBE"/>
<rect x="1176.59" y="548.55" width="4.83" height="41.70" fill="#BEBEBE"/>
<rect x="1182.39" y="576.45" width="4.83" height="13.80" fill="#BEBEBE"/>
<rect x="1188.19" y="535.35" width="4.83" height="54.90" fill="#BEBEBE"/>
<rect x="1193.99" y="583.05" width="4.83" height="7.20" fill="#14EE14"/>
<rect x="1199.79" y="578.45" width="4.83" height="11.80" fill="#14EE14"/>
<rect x="1205.58" y="580.25" width="4.83" height="10.00" fill="#14EE14"/>
<rect x="1211.38" y="573.65" width="4.83" height="16.60" fill="#14EE14"/>
<rect x="1217.18" y="586.75" width="4.83" height="3.50" fill="#14EE14"/>
<rect x="1222.98" y="544.45" width="4.83" height="45.80" fill="#14EE14"/>
<rect x="1228.78" y="579.55" width="4.83" height="10.70" fill="#14EE14"/>
<rect x="1234.58" y="569.25" width="4.83" height="21.00" fill="#14EE14"/>
<rect x="1246.18" y="580.65" width="4.83" height="9.60" fill="#14EE14"/>
<rect x="1251.98" y="588.75" width="4.83" height="1.50" fill="#14EE14"/>
<rect x="1286.77" y="584.65" width="4.83" height="5.60" fill="#FFC0CB"/>
<rect x="1298.37" y="581.05" width="4.83" height="9.20" fill="#FFC0CB"/>
<rect x="1309.97" y="584.15" width="4.83" height="6.10" fill="#FFC0CB"/>
<rect x="1315.77" y="580.65" width="4.83" height="9.60" fill="#FFC0CB"/>
<rect x="1321.56" y="569.65" width="4.83" height="20.60" fill="#FFC0CB"/>
<rect x="1333.16" y="587.95" width="4.83" height="2.30" fill="#FFC0CB"/>
<rect x="1338.96" y="584.85" width="4.83" height="5.40" fill="#FFC0CB"/>
<rect x="1344.76" y="581.35" width="4.83" height="8.90" fill="#FFC0CB"/>
<rect x="1350.56" y="589.25" width="4.83" height="1.00" fill="#FFC0CB"/>
<rect x="1356.36" y="578.75" width="4.83" height="11.50" fill="#FFC0CB"/>
<rect x="1367.96" y="580.65" width="4.83" height="9.60" fill="#FFC0CB"/>
<rect x="1373.76" y="586.75" width="4.83" height="3.50" fill="#FFC0CB"/>
<rect x="822.25" y="594.25" width="92.8" height="17.35" fill="#0A32FF"/>
<text class="b" stroke="#fff" stroke-width="0.2" transform="translate(870.9,610.9) scale(1.0,1)" font-size="21.9" text-anchor="middle" fill="#fff">C&gt;A</text>
<rect x="914.97" y="594.25" width="92.8" height="17.35" fill="#000000"/>
<text class="b" stroke="#fff" stroke-width="0.2" transform="translate(962.9,610.9) scale(1.0,1)" font-size="21.9" text-anchor="middle" fill="#fff">C&gt;G</text>
<rect x="1007.69" y="594.25" width="92.8" height="17.35" fill="#FF2A0A"/>
<text class="b" stroke="#fff" stroke-width="0.2" transform="translate(1055.3,610.9) scale(1.0,1)" font-size="21.9" text-anchor="middle" fill="#fff">C&gt;T</text>
<rect x="1100.41" y="594.25" width="92.8" height="17.35" fill="#BEBEBE"/>
<text class="b" stroke="#000" stroke-width="0.2" transform="translate(1147.8,610.9) scale(1.0,1)" font-size="21.9" text-anchor="middle" fill="#000">T&gt;A</text>
<rect x="1193.13" y="594.25" width="92.8" height="17.35" fill="#14EE14"/>
<text class="b" stroke="#000" stroke-width="0.2" transform="translate(1239.5,610.9) scale(1.0,1)" font-size="21.9" text-anchor="middle" fill="#000">T&gt;C</text>
<rect x="1285.85" y="594.25" width="92.8" height="17.35" fill="#FFC0CB"/>
<text class="b" stroke="#000" stroke-width="0.2" transform="translate(1331.5,610.9) scale(1.0,1)" font-size="21.9" text-anchor="middle" fill="#000">T&gt;G</text>
<text class="b" stroke="#000" stroke-width="0.2" transform="translate(1832.0,359.5) scale(1.0,1)" font-size="26.65" text-anchor="middle" fill="#000">S6</text>
<text class="b" stroke="#000" stroke-width="0.2" transform="translate(1832.0,391.5) scale(1.0,1)" font-size="26.65" text-anchor="middle" fill="#000">Ref.Sig.MMR2(0.69)</text>
<text class="b" stroke="#000" stroke-width="0.2" transform="translate(1832.0,423.5) scale(1.0,1)" font-size="26.65" text-anchor="middle" fill="#000">Liver_H(0.77)</text>
<text class="b" stroke="#000" stroke-width="0.2" transform="translate(1832.0,455.5) scale(1.0,1)" font-size="26.65" text-anchor="middle" fill="#000">PCAWG SBS46(0.83)</text>
<text transform="translate(1505.8,597.5) scale(1.0,1)" font-size="21.9" text-anchor="end" fill="#000">0.00</text>
<text transform="translate(1505.8,573.6) scale(1.0,1)" font-size="21.9" text-anchor="end" fill="#000">0.02</text>
<text transform="translate(1505.8,549.7) scale(1.0,1)" font-size="21.9" text-anchor="end" fill="#000">0.04</text>
<text transform="translate(1505.8,525.8) scale(1.0,1)" font-size="21.9" text-anchor="end" fill="#000">0.06</text>
<text transform="translate(1505.8,501.9) scale(1.0,1)" font-size="21.9" text-anchor="end" fill="#000">0.08</text>
<text transform="translate(1505.8,478.0) scale(1.0,1)" font-size="21.9" text-anchor="end" fill="#000">0.10</text>
<path d="M1533.1 590.70V469.10M1518.9 589.65H1533.1M1518.9 565.75H1533.1M1518.9 541.85H1533.1M1518.9 517.95H1533.1M1518.9 494.05H1533.1M1518.9 470.15H1533.1" fill="none" stroke="#000" stroke-width="2.1"/>
<rect x="1560.20" y="589.35" width="4.83" height="0.90" fill="#0A32FF"/>
<rect x="1577.60" y="569.35" width="4.83" height="20.90" fill="#0A32FF"/>
<rect x="1583.39" y="580.95" width="4.83" height="9.30" fill="#0A32FF"/>
<rect x="1606.59" y="588.45" width="4.83" height="1.80" fill="#0A32FF"/>
<rect x="1623.99" y="589.05" width="4.83" height="1.20" fill="#0A32FF"/>
<rect x="1629.79" y="587.65" width="4.83" height="2.60" fill="#0A32FF"/>
<rect x="1635.59" y="587.65" width="4.83" height="2.60" fill="#0A32FF"/>
<rect x="1647.18" y="581.75" width="4.83" height="8.50" fill="#000000"/>
<rect x="1652.98" y="582.75" width="4.83" height="7.50" fill="#000000"/>
<rect x="1658.78" y="589.25" width="4.83" height="1.00" fill="#000000"/>
<rect x="1664.58" y="586.15" width="4.83" height="4.10" fill="#000000"/>
<rect x="1676.18" y="589.35" width="4.83" height="0.90" fill="#000000"/>
<rect x="1693.58" y="589.05" width="4.83" height="1.20" fill="#000000"/>
<rect x="1699.38" y="586.65" width="4.83" height="3.60" fill="#000000"/>
<rect x="1705.17" y="589.35" width="4.83" height="0.90" fill="#000000"/>
<rect x="1710.97" y="585.55" width="4.83" height="4.70" fill="#000000"/>
<rect x="1716.77" y="585.55" width="4.83" height="4.70" fill="#000000"/>
<rect x="1722.57" y="584.75" width="4.83" height="5.50" fill="#000000"/>
<rect x="1728.37" y="589.25" width="4.83" height="1.00" fill="#000000"/>
<rect x="1745.77" y="582.75" width="4.83" height="7.50" fill="#FF2A0A"/>
<rect x="1751.57" y="588.45" width="4.83" height="1.80" fill="#FF2A0A"/>
<rect x="1757.36" y="578.55" width="4.83" height="11.70" fill="#FF2A0A"/>
<rect x="1763.16" y="570.25" width="4.83" height="20.00" fill="#FF2A0A"/>
<rect x="1768.96" y="584.05" width="4.83" height="6.20" fill="#FF2A0A"/>
<rect x="1780.56" y="580.95" width="4.83" height="9.30" fill="#FF2A0A"/>
<rect x="1786.36" y="589.25" width="4.83" height="1.00" fill="#FF2A0A"/>
<rect x="1803.76" y="580.95" width="4.83" height="9.30" fill="#FF2A0A"/>
<rect x="1809.56" y="589.25" width="4.83" height="1.00" fill="#FF2A0A"/>
<rect x="1815.36" y="573.95" width="4.83" height="16.30" fill="#FF2A0A"/>
<rect x="1821.15" y="586.65" width="4.83" height="3.60" fill="#FF2A0A"/>
<rect x="1826.95" y="576.25" width="4.83" height="14.00" fill="#FF2A0A"/>
<rect x="1832.75" y="582.15" width="4.83" height="8.10" fill="#BEBEBE"/>
<rect x="1838.55" y="583.05" width="4.83" height="7.20" fill="#BEBEBE"/>
<rect x="1844.35" y="584.65" width="4.83" height="5.60" fill="#BEBEBE"/>
<rect x="1855.95" y="588.75" width="4.83" height="1.50" fill="#BEBEBE"/>
<rect x="1861.75" y="561.85" width="4.83" height="28.40" fill="#BEBEBE"/>
<rect x="1867.55" y="586.45" width="4.83" height="3.80" fill="#BEBEBE"/>
<rect x="1873.34" y="588.75" width="4.83" height="1.50" fill="#BEBEBE"/>
<rect x="1884.94" y="582.15" width="4.83" height="8.10" fill="#BEBEBE"/>
<rect x="1902.34" y="581.35" width="4.83" height="8.90" fill="#BEBEBE"/>
<rect x="1908.14" y="555.75" width="4.83" height="34.50" fill="#BEBEBE"/>
<rect x="1913.94" y="583.05" width="4.83" height="7.20" fill="#BEBEBE"/>
<rect x="1919.74" y="582.15" width="4.83" height="8.10" fill="#BEBEBE"/>
<rect x="1931.33" y="511.65" width="4.83" height="78.60" fill="#14EE14"/>
<rect x="1942.93" y="546.55" width="4.83" height="43.70" fill="#14EE14"/>
<rect x="1948.73" y="576.05" width="4.83" height="14.20" fill="#14EE14"/>
<rect x="1954.53" y="467.85" width="4.83" height="122.40" fill="#14EE14"/>
<rect x="1966.13" y="523.55" width="4.83" height="66.70" fill="#14EE14"/>
<rect x="1971.93" y="552.05" width="4.83" height="38.20" fill="#14EE14"/>
<rect x="1977.73" y="512.35" width="4.83" height="77.90" fill="#14EE14"/>
<rect x="1983.53" y="576.05" width="4.83" height="14.20" fill="#14EE14"/>
<rect x="1989.32" y="514.35" width="4.83" height="75.90" fill="#14EE14"/>
<rect x="1995.12" y="528.15" width="4.83" height="62.10" fill="#14EE14"/>
<rect x="2000.92" y="464.95" width="4.83" height="125.30" fill="#14EE14"/>
<rect x="2006.72" y="568.45" width="4.83" height="21.80" fill="#14EE14"/>
<rect x="2012.52" y="483.25" width="4.83" height="107.00" fill="#14EE14"/>
<rect x="2018.32" y="587.15" width="4.83" height="3.10" fill="#FFC0CB"/>
<rect x="2024.12" y="587.95" width="4.83" height="2.30" fill="#FFC0CB"/>
<rect x="2029.92" y="584.85" width="4.83" height="5.40" fill="#FFC0CB"/>
<rect x="2041.52" y="588.75" width="4.83" height="1.50" fill="#FFC0CB"/>
<rect x="2047.31" y="588.25" width="4.83" height="2.00" fill="#FFC0CB"/>
<rect x="2064.71" y="588.75" width="4.83" height="1.50" fill="#FFC0CB"/>
<rect x="2070.51" y="587.65" width="4.83" height="2.60" fill="#FFC0CB"/>
<rect x="2076.31" y="587.15" width="4.83" height="3.10" fill="#FFC0CB"/>
<rect x="2082.11" y="588.25" width="4.83" height="2.00" fill="#FFC0CB"/>
<rect x="2093.71" y="583.05" width="4.83" height="7.20" fill="#FFC0CB"/>
<rect x="2099.51" y="589.05" width="4.83" height="1.20" fill="#FFC0CB"/>
<rect x="1553.80" y="594.25" width="92.8" height="17.35" fill="#0A32FF"/>
<text class="b" stroke="#fff" stroke-width="0.2" transform="translate(1602.5,610.9) scale(1.0,1)" font-size="21.9" text-anchor="middle" fill="#fff">C&gt;A</text>
<rect x="1646.52" y="594.25" width="92.8" height="17.35" fill="#000000"/>
<text class="b" stroke="#fff" stroke-width="0.2" transform="translate(1694.4,610.9) scale(1.0,1)" font-size="21.9" text-anchor="middle" fill="#fff">C&gt;G</text>
<rect x="1739.24" y="594.25" width="92.8" height="17.35" fill="#FF2A0A"/>
<text class="b" stroke="#fff" stroke-width="0.2" transform="translate(1786.8,610.9) scale(1.0,1)" font-size="21.9" text-anchor="middle" fill="#fff">C&gt;T</text>
<rect x="1831.96" y="594.25" width="92.8" height="17.35" fill="#BEBEBE"/>
<text class="b" stroke="#000" stroke-width="0.2" transform="translate(1879.4,610.9) scale(1.0,1)" font-size="21.9" text-anchor="middle" fill="#000">T&gt;A</text>
<rect x="1924.68" y="594.25" width="92.8" height="17.35" fill="#14EE14"/>
<text class="b" stroke="#000" stroke-width="0.2" transform="translate(1971.1,610.9) scale(1.0,1)" font-size="21.9" text-anchor="middle" fill="#000">T&gt;C</text>
<rect x="2017.40" y="594.25" width="92.8" height="17.35" fill="#FFC0CB"/>
<text class="b" stroke="#000" stroke-width="0.2" transform="translate(2063.0,610.9) scale(1.0,1)" font-size="21.9" text-anchor="middle" fill="#000">T&gt;G</text>
<text class="b" stroke="#000" stroke-width="0.2" transform="translate(368.9,645.5) scale(1.0,1)" font-size="26.65" text-anchor="middle" fill="#000">S7</text>
<text class="b" stroke="#000" stroke-width="0.2" transform="translate(368.9,677.5) scale(1.0,1)" font-size="26.65" text-anchor="middle" fill="#000">Ref.Sig.3(0.82)</text>
<text class="b" stroke="#000" stroke-width="0.2" transform="translate(368.9,709.5) scale(1.0,1)" font-size="26.65" text-anchor="middle" fill="#000">Breast_K(0.91)</text>
<text class="b" stroke="#000" stroke-width="0.2" transform="translate(368.9,741.5) scale(1.0,1)" font-size="26.65" text-anchor="middle" fill="#000">PCAWG SBS39(0.92)</text>
<text transform="translate(42.7,883.6) scale(1.0,1)" font-size="21.9" text-anchor="end" fill="#000">0.00</text>
<text transform="translate(42.7,861.2) scale(1.0,1)" font-size="21.9" text-anchor="end" fill="#000">0.01</text>
<text transform="translate(42.7,838.9) scale(1.0,1)" font-size="21.9" text-anchor="end" fill="#000">0.02</text>
<text transform="translate(42.7,816.6) scale(1.0,1)" font-size="21.9" text-anchor="end" fill="#000">0.03</text>
<text transform="translate(42.7,794.3) scale(1.0,1)" font-size="21.9" text-anchor="end" fill="#000">0.04</text>
<text transform="translate(42.7,772.0) scale(1.0,1)" font-size="21.9" text-anchor="end" fill="#000">0.05</text>
<path d="M70.0 876.75V763.05M55.8 875.70H70.0M55.8 853.38H70.0M55.8 831.06H70.0M55.8 808.74H70.0M55.8 786.42H70.0M55.8 764.10H70.0" fill="none" stroke="#000" stroke-width="2.1"/>
<rect x="91.30" y="861.10" width="4.83" height="15.20" fill="#0A32FF"/>
<rect x="97.10" y="854.40" width="4.83" height="21.90" fill="#0A32FF"/>
<rect x="102.90" y="873.60" width="4.83" height="2.70" fill="#0A32FF"/>
<rect x="108.70" y="858.20" width="4.83" height="18.10" fill="#0A32FF"/>
<rect x="114.50" y="852.70" width="4.83" height="23.60" fill="#0A32FF"/>
<rect x="126.09" y="872.70" width="4.83" height="3.60" fill="#0A32FF"/>
<rect x="131.89" y="873.90" width="4.83" height="2.40" fill="#0A32FF"/>
<rect x="155.09" y="864.70" width="4.83" height="11.60" fill="#0A32FF"/>
<rect x="160.89" y="863.60" width="4.83" height="12.70" fill="#0A32FF"/>
<rect x="166.69" y="871.10" width="4.83" height="5.20" fill="#0A32FF"/>
<rect x="178.28" y="834.30" width="4.83" height="42.00" fill="#0A32FF"/>
<rect x="184.08" y="751.20" width="4.83" height="125.10" fill="#000000"/>
<rect x="189.88" y="800.30" width="4.83" height="76.00" fill="#000000"/>
<rect x="195.68" y="834.30" width="4.83" height="42.00" fill="#000000"/>
<rect x="201.48" y="754.70" width="4.83" height="121.60" fill="#000000"/>
<rect x="207.28" y="787.70" width="4.83" height="88.60" fill="#000000"/>
<rect x="213.08" y="801.30" width="4.83" height="75.00" fill="#000000"/>
<rect x="218.88" y="838.00" width="4.83" height="38.30" fill="#000000"/>
<rect x="224.68" y="762.20" width="4.83" height="114.10" fill="#000000"/>
<rect x="230.48" y="813.30" width="4.83" height="63.00" fill="#000000"/>
<rect x="236.28" y="821.30" width="4.83" height="55.00" fill="#000000"/>
<rect x="242.07" y="856.20" width="4.83" height="20.10" fill="#000000"/>
<rect x="247.87" y="788.60" width="4.83" height="87.70" fill="#000000"/>
<rect x="253.67" y="835.20" width="4.83" height="41.10" fill="#000000"/>
<rect x="259.47" y="775.10" width="4.83" height="101.20" fill="#000000"/>
<rect x="265.27" y="855.20" width="4.83" height="21.10" fill="#000000"/>
<rect x="271.07" y="763.00" width="4.83" height="113.30" fill="#000000"/>
<rect x="276.87" y="849.80" width="4.83" height="26.50" fill="#FF2A0A"/>
<rect x="282.67" y="853.60" width="4.83" height="22.70" fill="#FF2A0A"/>
<rect x="294.26" y="819.70" width="4.83" height="56.60" fill="#FF2A0A"/>
<rect x="300.06" y="861.90" width="4.83" height="14.40" fill="#FF2A0A"/>
<rect x="305.86" y="872.70" width="4.83" height="3.60" fill="#FF2A0A"/>
<rect x="311.66" y="857.30" width="4.83" height="19.00" fill="#FF2A0A"/>
<rect x="317.46" y="873.60" width="4.83" height="2.70" fill="#FF2A0A"/>
<rect x="323.26" y="852.70" width="4.83" height="23.60" fill="#FF2A0A"/>
<rect x="334.86" y="872.70" width="4.83" height="3.60" fill="#FF2A0A"/>
<rect x="352.26" y="812.20" width="4.83" height="64.10" fill="#FF2A0A"/>
<rect x="358.05" y="865.40" width="4.83" height="10.90" fill="#FF2A0A"/>
<rect x="363.85" y="835.20" width="4.83" height="41.10" fill="#FF2A0A"/>
<rect x="392.85" y="863.60" width="4.83" height="12.70" fill="#BEBEBE"/>
<rect x="398.65" y="875.40" width="4.83" height="0.90" fill="#BEBEBE"/>
<rect x="404.45" y="871.10" width="4.83" height="5.20" fill="#BEBEBE"/>
<rect x="410.25" y="864.40" width="4.83" height="11.90" fill="#BEBEBE"/>
<rect x="416.04" y="863.60" width="4.83" height="12.70" fill="#BEBEBE"/>
<rect x="421.84" y="869.30" width="4.83" height="7.00" fill="#BEBEBE"/>
<rect x="427.64" y="861.10" width="4.83" height="15.20" fill="#BEBEBE"/>
<rect x="433.44" y="852.70" width="4.83" height="23.60" fill="#BEBEBE"/>
<rect x="439.24" y="847.30" width="4.83" height="29.00" fill="#BEBEBE"/>
<rect x="450.84" y="875.30" width="4.83" height="1.00" fill="#BEBEBE"/>
<rect x="456.64" y="861.90" width="4.83" height="14.40" fill="#BEBEBE"/>
<rect x="462.44" y="870.50" width="4.83" height="5.80" fill="#14EE14"/>
<rect x="468.24" y="862.80" width="4.83" height="13.50" fill="#14EE14"/>
<rect x="474.03" y="870.50" width="4.83" height="5.80" fill="#14EE14"/>
<rect x="479.83" y="831.80" width="4.83" height="44.50" fill="#14EE14"/>
<rect x="485.63" y="851.20" width="4.83" height="25.10" fill="#14EE14"/>
<rect x="491.43" y="869.30" width="4.83" height="7.00" fill="#14EE14"/>
<rect x="497.23" y="863.90" width="4.83" height="12.40" fill="#14EE14"/>
<rect x="503.03" y="863.90" width="4.83" height="12.40" fill="#14EE14"/>
<rect x="520.43" y="869.30" width="4.83" height="7.00" fill="#14EE14"/>
<rect x="526.23" y="866.50" width="4.83" height="9.80" fill="#14EE14"/>
<rect x="532.02" y="875.30" width="4.83" height="1.00" fill="#14EE14"/>
<rect x="537.82" y="864.40" width="4.83" height="11.90" fill="#14EE14"/>
<rect x="549.42" y="864.40" width="4.83" height="11.90" fill="#14EE14"/>
<rect x="555.22" y="872.00" width="4.83" height="4.30" fill="#FFC0CB"/>
<rect x="561.02" y="872.70" width="4.83" height="3.60" fill="#FFC0CB"/>
<rect x="566.82" y="837.10" width="4.83" height="39.20" fill="#FFC0CB"/>
<rect x="578.42" y="858.10" width="4.83" height="18.20" fill="#FFC0CB"/>
<rect x="584.22" y="863.60" width="4.83" height="12.70" fill="#FFC0CB"/>
<rect x="590.01" y="829.80" width="4.83" height="46.50" fill="#FFC0CB"/>
<rect x="601.61" y="857.30" width="4.83" height="19.00" fill="#FFC0CB"/>
<rect x="607.41" y="865.70" width="4.83" height="10.60" fill="#FFC0CB"/>
<rect x="613.21" y="830.90" width="4.83" height="45.40" fill="#FFC0CB"/>
<rect x="619.01" y="867.40" width="4.83" height="8.90" fill="#FFC0CB"/>
<rect x="624.81" y="851.20" width="4.83" height="25.10" fill="#FFC0CB"/>
<rect x="630.61" y="863.90" width="4.83" height="12.40" fill="#FFC0CB"/>
<rect x="636.41" y="830.90" width="4.83" height="45.40" fill="#FFC0CB"/>
<rect x="90.70" y="880.30" width="92.8" height="17.35" fill="#0A32FF"/>
<text class="b" stroke="#fff" stroke-width="0.2" transform="translate(139.4,896.9) scale(1.0,1)" font-size="21.9" text-anchor="middle" fill="#fff">C&gt;A</text>
<rect x="183.42" y="880.30" width="92.8" height="17.35" fill="#000000"/>
<text class="b" stroke="#fff" stroke-width="0.2" transform="translate(231.3,896.9) scale(1.0,1)" font-size="21.9" text-anchor="middle" fill="#fff">C&gt;G</text>
<rect x="276.14" y="880.30" width="92.8" height="17.35" fill="#FF2A0A"/>
<text class="b" stroke="#fff" stroke-width="0.2" transform="translate(323.7,896.9) scale(1.0,1)" font-size="21.9" text-anchor="middle" fill="#fff">C&gt;T</text>
<rect x="368.86" y="880.30" width="92.8" height="17.35" fill="#BEBEBE"/>
<text class="b" stroke="#000" stroke-width="0.2" transform="translate(416.3,896.9) scale(1.0,1)" font-size="21.9" text-anchor="middle" fill="#000">T&gt;A</text>
<rect x="461.58" y="880.30" width="92.8" height="17.35" fill="#14EE14"/>
<text class="b" stroke="#000" stroke-width="0.2" transform="translate(508.0,896.9) scale(1.0,1)" font-size="21.9" text-anchor="middle" fill="#000">T&gt;C</text>
<rect x="554.30" y="880.30" width="92.8" height="17.35" fill="#FFC0CB"/>
<text class="b" stroke="#000" stroke-width="0.2" transform="translate(599.9,896.9) scale(1.0,1)" font-size="21.9" text-anchor="middle" fill="#000">T&gt;G</text>
<text class="b" stroke="#000" stroke-width="0.2" transform="translate(1100.5,645.5) scale(1.0,1)" font-size="26.65" text-anchor="middle" fill="#000">S8</text>
<text class="b" stroke="#000" stroke-width="0.2" transform="translate(1100.5,677.5) scale(1.0,1)" font-size="26.65" text-anchor="middle" fill="#000">Ref.Sig.4(0.85)</text>
<text class="b" stroke="#000" stroke-width="0.2" transform="translate(1100.5,709.5) scale(1.0,1)" font-size="26.65" text-anchor="middle" fill="#000">Lung_I(0.89)</text>
<text class="b" stroke="#000" stroke-width="0.2" transform="translate(1100.5,741.5) scale(1.0,1)" font-size="26.65" text-anchor="middle" fill="#000">PCAWG SBS4(0.83)</text>
<text transform="translate(774.2,883.6) scale(1.0,1)" font-size="21.9" text-anchor="end" fill="#000">0.00</text>
<text transform="translate(774.2,855.6) scale(1.0,1)" font-size="21.9" text-anchor="end" fill="#000">0.02</text>
<text transform="translate(774.2,827.6) scale(1.0,1)" font-size="21.9" text-anchor="end" fill="#000">0.04</text>
<text transform="translate(774.2,799.6) scale(1.0,1)" font-size="21.9" text-anchor="end" fill="#000">0.06</text>
<text transform="translate(774.2,771.6) scale(1.0,1)" font-size="21.9" text-anchor="end" fill="#000">0.08</text>
<path d="M801.5 876.75V762.65M787.4 875.70H801.5M787.4 847.70H801.5M787.4 819.70H801.5M787.4 791.70H801.5M787.4 763.70H801.5" fill="none" stroke="#000" stroke-width="2.1"/>
<rect x="822.85" y="751.20" width="4.83" height="125.10" fill="#0A32FF"/>
<rect x="828.65" y="802.20" width="4.83" height="74.10" fill="#0A32FF"/>
<rect x="834.45" y="842.60" width="4.83" height="33.70" fill="#0A32FF"/>
<rect x="840.25" y="807.90" width="4.83" height="68.40" fill="#0A32FF"/>
<rect x="846.05" y="796.90" width="4.83" height="79.40" fill="#0A32FF"/>
<rect x="851.85" y="779.40" width="4.83" height="96.90" fill="#0A32FF"/>
<rect x="857.64" y="849.30" width="4.83" height="27.00" fill="#0A32FF"/>
<rect x="869.24" y="805.20" width="4.83" height="71.10" fill="#0A32FF"/>
<rect x="875.04" y="798.70" width="4.83" height="77.60" fill="#0A32FF"/>
<rect x="880.84" y="842.60" width="4.83" height="33.70" fill="#0A32FF"/>
<rect x="886.64" y="850.10" width="4.83" height="26.20" fill="#0A32FF"/>
<rect x="892.44" y="803.30" width="4.83" height="73.00" fill="#0A32FF"/>
<rect x="898.24" y="764.10" width="4.83" height="112.20" fill="#0A32FF"/>
<rect x="904.04" y="855.20" width="4.83" height="21.10" fill="#0A32FF"/>
<rect x="909.84" y="847.30" width="4.83" height="29.00" fill="#0A32FF"/>
<rect x="915.63" y="855.20" width="4.83" height="21.10" fill="#000000"/>
<rect x="921.43" y="869.30" width="4.83" height="7.00" fill="#000000"/>
<rect x="927.23" y="871.10" width="4.83" height="5.20" fill="#000000"/>
<rect x="933.03" y="869.30" width="4.83" height="7.00" fill="#000000"/>
<rect x="938.83" y="856.20" width="4.83" height="20.10" fill="#000000"/>
<rect x="944.63" y="861.90" width="4.83" height="14.40" fill="#000000"/>
<rect x="950.43" y="866.50" width="4.83" height="9.80" fill="#000000"/>
<rect x="956.23" y="864.40" width="4.83" height="11.90" fill="#000000"/>
<rect x="962.03" y="862.70" width="4.83" height="13.60" fill="#000000"/>
<rect x="967.83" y="865.40" width="4.83" height="10.90" fill="#000000"/>
<rect x="973.62" y="869.30" width="4.83" height="7.00" fill="#000000"/>
<rect x="979.42" y="870.30" width="4.83" height="6.00" fill="#000000"/>
<rect x="985.22" y="867.30" width="4.83" height="9.00" fill="#000000"/>
<rect x="991.02" y="862.70" width="4.83" height="13.60" fill="#000000"/>
<rect x="996.82" y="871.10" width="4.83" height="5.20" fill="#000000"/>
<rect x="1002.62" y="875.10" width="4.83" height="1.20" fill="#000000"/>
<rect x="1008.42" y="857.30" width="4.83" height="19.00" fill="#FF2A0A"/>
<rect x="1014.22" y="871.10" width="4.83" height="5.20" fill="#FF2A0A"/>
<rect x="1025.82" y="873.60" width="4.83" height="2.70" fill="#FF2A0A"/>
<rect x="1031.61" y="858.20" width="4.83" height="18.10" fill="#FF2A0A"/>
<rect x="1043.21" y="871.10" width="4.83" height="5.20" fill="#FF2A0A"/>
<rect x="1049.01" y="873.10" width="4.83" height="3.20" fill="#FF2A0A"/>
<rect x="1054.81" y="865.40" width="4.83" height="10.90" fill="#FF2A0A"/>
<rect x="1060.61" y="867.30" width="4.83" height="9.00" fill="#FF2A0A"/>
<rect x="1072.21" y="873.10" width="4.83" height="3.20" fill="#FF2A0A"/>
<rect x="1078.01" y="867.30" width="4.83" height="9.00" fill="#FF2A0A"/>
<rect x="1083.81" y="868.20" width="4.83" height="8.10" fill="#FF2A0A"/>
<rect x="1095.40" y="868.20" width="4.83" height="8.10" fill="#FF2A0A"/>
<rect x="1101.20" y="872.30" width="4.83" height="4.00" fill="#BEBEBE"/>
<rect x="1107.00" y="874.90" width="4.83" height="1.40" fill="#BEBEBE"/>
<rect x="1112.80" y="865.40" width="4.83" height="10.90" fill="#BEBEBE"/>
<rect x="1124.40" y="875.20" width="4.83" height="1.10" fill="#BEBEBE"/>
<rect x="1130.20" y="871.10" width="4.83" height="5.20" fill="#BEBEBE"/>
<rect x="1136.00" y="857.30" width="4.83" height="19.00" fill="#BEBEBE"/>
<rect x="1141.80" y="873.80" width="4.83" height="2.50" fill="#BEBEBE"/>
<rect x="1147.59" y="866.50" width="4.83" height="9.80" fill="#BEBEBE"/>
<rect x="1153.39" y="872.60" width="4.83" height="3.70" fill="#BEBEBE"/>
<rect x="1159.19" y="855.40" width="4.83" height="20.90" fill="#BEBEBE"/>
<rect x="1164.99" y="871.10" width="4.83" height="5.20" fill="#BEBEBE"/>
<rect x="1170.79" y="874.90" width="4.83" height="1.40" fill="#BEBEBE"/>
<rect x="1176.59" y="874.90" width="4.83" height="1.40" fill="#BEBEBE"/>
<rect x="1182.39" y="869.20" width="4.83" height="7.10" fill="#BEBEBE"/>
<rect x="1193.99" y="860.30" width="4.83" height="16.00" fill="#14EE14"/>
<rect x="1205.58" y="858.50" width="4.83" height="17.80" fill="#14EE14"/>
<rect x="1211.38" y="875.20" width="4.83" height="1.10" fill="#14EE14"/>
<rect x="1217.18" y="869.20" width="4.83" height="7.10" fill="#14EE14"/>
<rect x="1228.78" y="867.70" width="4.83" height="8.60" fill="#14EE14"/>
<rect x="1234.58" y="873.40" width="4.83" height="2.90" fill="#14EE14"/>
<rect x="1240.38" y="872.60" width="4.83" height="3.70" fill="#14EE14"/>
<rect x="1246.18" y="874.90" width="4.83" height="1.40" fill="#14EE14"/>
<rect x="1251.98" y="870.30" width="4.83" height="6.00" fill="#14EE14"/>
<rect x="1275.17" y="872.60" width="4.83" height="3.70" fill="#14EE14"/>
<rect x="1286.77" y="874.90" width="4.83" height="1.40" fill="#FFC0CB"/>
<rect x="1309.97" y="875.20" width="4.83" height="1.10" fill="#FFC0CB"/>
<rect x="1321.56" y="874.20" width="4.83" height="2.10" fill="#FFC0CB"/>
<rect x="1367.96" y="875.30" width="4.83" height="1.00" fill="#FFC0CB"/>
<rect x="822.25" y="880.30" width="92.8" height="17.35" fill="#0A32FF"/>
<text class="b" stroke="#fff" stroke-width="0.2" transform="translate(870.9,896.9) scale(1.0,1)" font-size="21.9" text-anchor="middle" fill="#fff">C&gt;A</text>
<rect x="914.97" y="880.30" width="92.8" height="17.35" fill="#000000"/>
<text class="b" stroke="#fff" stroke-width="0.2" transform="translate(962.9,896.9) scale(1.0,1)" font-size="21.9" text-anchor="middle" fill="#fff">C&gt;G</text>
<rect x="1007.69" y="880.30" width="92.8" height="17.35" fill="#FF2A0A"/>
<text class="b" stroke="#fff" stroke-width="0.2" transform="translate(1055.3,896.9) scale(1.0,1)" font-size="21.9" text-anchor="middle" fill="#fff">C&gt;T</text>
<rect x="1100.41" y="880.30" width="92.8" height="17.35" fill="#BEBEBE"/>
<text class="b" stroke="#000" stroke-width="0.2" transform="translate(1147.8,896.9) scale(1.0,1)" font-size="21.9" text-anchor="middle" fill="#000">T&gt;A</text>
<rect x="1193.13" y="880.30" width="92.8" height="17.35" fill="#14EE14"/>
<text class="b" stroke="#000" stroke-width="0.2" transform="translate(1239.5,896.9) scale(1.0,1)" font-size="21.9" text-anchor="middle" fill="#000">T&gt;C</text>
<rect x="1285.85" y="880.30" width="92.8" height="17.35" fill="#FFC0CB"/>
<text class="b" stroke="#000" stroke-width="0.2" transform="translate(1331.5,896.9) scale(1.0,1)" font-size="21.9" text-anchor="middle" fill="#000">T&gt;G</text>
<text class="b" stroke="#000" stroke-width="0.2" transform="translate(1832.0,645.5) scale(1.0,1)" font-size="26.65" text-anchor="middle" fill="#000">S9</text>
<text class="b" stroke="#000" stroke-width="0.2" transform="translate(1832.0,677.5) scale(1.0,1)" font-size="26.65" text-anchor="middle" fill="#000">Ref.Sig.N12(0.88)</text>
<text class="b" stroke="#000" stroke-width="0.2" transform="translate(1832.0,709.5) scale(1.0,1)" font-size="26.65" text-anchor="middle" fill="#000">Kidney_F(0.88)</text>
<text class="b" stroke="#000" stroke-width="0.2" transform="translate(1832.0,741.5) scale(1.0,1)" font-size="26.65" text-anchor="middle" fill="#000">PCAWG SBS40(0.77)</text>
<text transform="translate(1505.8,883.6) scale(1.0,1)" font-size="21.9" text-anchor="end" fill="#000">0.00</text>
<text transform="translate(1505.8,859.8) scale(1.0,1)" font-size="21.9" text-anchor="end" fill="#000">0.01</text>
<text transform="translate(1505.8,836.1) scale(1.0,1)" font-size="21.9" text-anchor="end" fill="#000">0.02</text>
<text transform="translate(1505.8,812.4) scale(1.0,1)" font-size="21.9" text-anchor="end" fill="#000">0.03</text>
<text transform="translate(1505.8,788.7) scale(1.0,1)" font-size="21.9" text-anchor="end" fill="#000">0.04</text>
<text transform="translate(1505.8,765.0) scale(1.0,1)" font-size="21.9" text-anchor="end" fill="#000">0.05</text>
<path d="M1533.1 876.75V756.05M1518.9 875.70H1533.1M1518.9 851.98H1533.1M1518.9 828.26H1533.1M1518.9 804.54H1533.1M1518.9 780.82H1533.1M1518.9 757.10H1533.1" fill="none" stroke="#000" stroke-width="2.1"/>
<rect x="1554.40" y="786.80" width="4.83" height="89.50" fill="#0A32FF"/>
<rect x="1560.20" y="862.80" width="4.83" height="13.50" fill="#0A32FF"/>
<rect x="1566.00" y="873.90" width="4.83" height="2.40" fill="#0A32FF"/>
<rect x="1571.80" y="857.30" width="4.83" height="19.00" fill="#0A32FF"/>
<rect x="1577.60" y="859.30" width="4.83" height="17.00" fill="#0A32FF"/>
<rect x="1583.39" y="860.10" width="4.83" height="16.20" fill="#0A32FF"/>
<rect x="1618.19" y="875.20" width="4.83" height="1.10" fill="#0A32FF"/>
<rect x="1623.99" y="798.70" width="4.83" height="77.60" fill="#0A32FF"/>
<rect x="1629.79" y="796.90" width="4.83" height="79.40" fill="#0A32FF"/>
<rect x="1635.59" y="864.40" width="4.83" height="11.90" fill="#0A32FF"/>
<rect x="1641.38" y="875.20" width="4.83" height="1.10" fill="#0A32FF"/>
<rect x="1647.18" y="849.00" width="4.83" height="27.30" fill="#000000"/>
<rect x="1652.98" y="837.10" width="4.83" height="39.20" fill="#000000"/>
<rect x="1664.58" y="817.10" width="4.83" height="59.20" fill="#000000"/>
<rect x="1670.38" y="861.90" width="4.83" height="14.40" fill="#000000"/>
<rect x="1676.18" y="832.50" width="4.83" height="43.80" fill="#000000"/>
<rect x="1687.78" y="817.90" width="4.83" height="58.40" fill="#000000"/>
<rect x="1693.58" y="872.60" width="4.83" height="3.70" fill="#000000"/>
<rect x="1699.38" y="871.10" width="4.83" height="5.20" fill="#000000"/>
<rect x="1710.97" y="871.10" width="4.83" height="5.20" fill="#000000"/>
<rect x="1722.57" y="817.10" width="4.83" height="59.20" fill="#000000"/>
<rect x="1728.37" y="873.90" width="4.83" height="2.40" fill="#000000"/>
<rect x="1734.17" y="822.50" width="4.83" height="53.80" fill="#000000"/>
<rect x="1739.97" y="816.40" width="4.83" height="59.90" fill="#FF2A0A"/>
<rect x="1745.77" y="853.60" width="4.83" height="22.70" fill="#FF2A0A"/>
<rect x="1751.57" y="802.60" width="4.83" height="73.70" fill="#FF2A0A"/>
<rect x="1757.36" y="842.70" width="4.83" height="33.60" fill="#FF2A0A"/>
<rect x="1763.16" y="833.50" width="4.83" height="42.80" fill="#FF2A0A"/>
<rect x="1768.96" y="864.40" width="4.83" height="11.90" fill="#FF2A0A"/>
<rect x="1774.76" y="868.20" width="4.83" height="8.10" fill="#FF2A0A"/>
<rect x="1786.36" y="807.90" width="4.83" height="68.40" fill="#FF2A0A"/>
<rect x="1792.16" y="842.70" width="4.83" height="33.60" fill="#FF2A0A"/>
<rect x="1803.76" y="856.20" width="4.83" height="20.10" fill="#FF2A0A"/>
<rect x="1809.56" y="798.00" width="4.83" height="78.30" fill="#FF2A0A"/>
<rect x="1815.36" y="819.10" width="4.83" height="57.20" fill="#FF2A0A"/>
<rect x="1821.15" y="861.10" width="4.83" height="15.20" fill="#FF2A0A"/>
<rect x="1832.75" y="843.60" width="4.83" height="32.70" fill="#BEBEBE"/>
<rect x="1838.55" y="858.20" width="4.83" height="18.10" fill="#BEBEBE"/>
<rect x="1844.35" y="840.60" width="4.83" height="35.70" fill="#BEBEBE"/>
<rect x="1850.15" y="870.00" width="4.83" height="6.30" fill="#BEBEBE"/>
<rect x="1861.75" y="841.70" width="4.83" height="34.60" fill="#BEBEBE"/>
<rect x="1873.34" y="867.30" width="4.83" height="9.00" fill="#BEBEBE"/>
<rect x="1879.14" y="869.30" width="4.83" height="7.00" fill="#BEBEBE"/>
<rect x="1884.94" y="868.50" width="4.83" height="7.80" fill="#BEBEBE"/>
<rect x="1890.74" y="867.40" width="4.83" height="8.90" fill="#BEBEBE"/>
<rect x="1896.54" y="872.00" width="4.83" height="4.30" fill="#BEBEBE"/>
<rect x="1902.34" y="865.40" width="4.83" height="10.90" fill="#BEBEBE"/>
<rect x="1908.14" y="807.90" width="4.83" height="68.40" fill="#BEBEBE"/>
<rect x="1913.94" y="843.60" width="4.83" height="32.70" fill="#BEBEBE"/>
<rect x="1919.74" y="752.30" width="4.83" height="124.00" fill="#BEBEBE"/>
<rect x="1931.33" y="868.50" width="4.83" height="7.80" fill="#14EE14"/>
<rect x="1937.13" y="836.30" width="4.83" height="40.00" fill="#14EE14"/>
<rect x="1942.93" y="827.40" width="4.83" height="48.90" fill="#14EE14"/>
<rect x="1948.73" y="852.90" width="4.83" height="23.40" fill="#14EE14"/>
<rect x="1954.53" y="861.10" width="4.83" height="15.20" fill="#14EE14"/>
<rect x="1960.33" y="852.70" width="4.83" height="23.60" fill="#14EE14"/>
<rect x="1989.32" y="872.00" width="4.83" height="4.30" fill="#14EE14"/>
<rect x="1995.12" y="850.10" width="4.83" height="26.20" fill="#14EE14"/>
<rect x="2000.92" y="872.60" width="4.83" height="3.70" fill="#14EE14"/>
<rect x="2006.72" y="861.90" width="4.83" height="14.40" fill="#14EE14"/>
<rect x="2012.52" y="875.30" width="4.83" height="1.00" fill="#14EE14"/>
<rect x="2018.32" y="848.30" width="4.83" height="28.00" fill="#FFC0CB"/>
<rect x="2024.12" y="827.40" width="4.83" height="48.90" fill="#FFC0CB"/>
<rect x="2029.92" y="834.40" width="4.83" height="41.90" fill="#FFC0CB"/>
<rect x="2035.72" y="762.20" width="4.83" height="114.10" fill="#FFC0CB"/>
<rect x="2047.31" y="838.90" width="4.83" height="37.40" fill="#FFC0CB"/>
<rect x="2053.11" y="872.60" width="4.83" height="3.70" fill="#FFC0CB"/>
<rect x="2064.71" y="874.90" width="4.83" height="1.40" fill="#FFC0CB"/>
<rect x="2070.51" y="869.30" width="4.83" height="7.00" fill="#FFC0CB"/>
<rect x="2087.91" y="855.20" width="4.83" height="21.10" fill="#FFC0CB"/>
<rect x="2093.71" y="791.40" width="4.83" height="84.90" fill="#FFC0CB"/>
<rect x="2099.51" y="844.70" width="4.83" height="31.60" fill="#FFC0CB"/>
<rect x="2105.30" y="751.20" width="4.83" height="125.10" fill="#FFC0CB"/>
<rect x="1553.80" y="880.30" width="92.8" height="17.35" fill="#0A32FF"/>
<text class="b" stroke="#fff" stroke-width="0.2" transform="translate(1602.5,896.9) scale(1.0,1)" font-size="21.9" text-anchor="middle" fill="#fff">C&gt;A</text>
<rect x="1646.52" y="880.30" width="92.8" height="17.35" fill="#000000"/>
<text class="b" stroke="#fff" stroke-width="0.2" transform="translate(1694.4,896.9) scale(1.0,1)" font-size="21.9" text-anchor="middle" fill="#fff">C&gt;G</text>
<rect x="1739.24" y="880.30" width="92.8" height="17.35" fill="#FF2A0A"/>
<text class="b" stroke="#fff" stroke-width="0.2" transform="translate(1786.8,896.9) scale(1.0,1)" font-size="21.9" text-anchor="middle" fill="#fff">C&gt;T</text>
<rect x="1831.96" y="880.30" width="92.8" height="17.35" fill="#BEBEBE"/>
<text class="b" stroke="#000" stroke-width="0.2" transform="translate(1879.4,896.9) scale(1.0,1)" font-size="21.9" text-anchor="middle" fill="#000">T&gt;A</text>
<rect x="1924.68" y="880.30" width="92.8" height="17.35" fill="#14EE14"/>
<text class="b" stroke="#000" stroke-width="0.2" transform="translate(1971.1,896.9) scale(1.0,1)" font-size="21.9" text-anchor="middle" fill="#000">T&gt;C</text>
<rect x="2017.40" y="880.30" width="92.8" height="17.35" fill="#FFC0CB"/>
<text class="b" stroke="#000" stroke-width="0.2" transform="translate(2063.0,896.9) scale(1.0,1)" font-size="21.9" text-anchor="middle" fill="#000">T&gt;G</text>
<text class="b" stroke="#000" stroke-width="0.2" transform="translate(368.9,931.4) scale(1.0,1)" font-size="26.65" text-anchor="middle" fill="#000">S10</text>
<text class="b" stroke="#000" stroke-width="0.2" transform="translate(368.9,963.4) scale(1.0,1)" font-size="26.65" text-anchor="middle" fill="#000">Ref.Sig.N3(0.80)</text>
<text class="b" stroke="#000" stroke-width="0.2" transform="translate(368.9,995.4) scale(1.0,1)" font-size="26.65" text-anchor="middle" fill="#000">Pancreas_D(0.88)</text>
<text class="b" stroke="#000" stroke-width="0.2" transform="translate(368.9,1027.4) scale(1.0,1)" font-size="26.65" text-anchor="middle" fill="#000">PCAWG SBS28(0.88)</text>
<text transform="translate(42.7,1169.6) scale(1.0,1)" font-size="21.9" text-anchor="end" fill="#000">0.00</text>
<text transform="translate(42.7,1140.8) scale(1.0,1)" font-size="21.9" text-anchor="end" fill="#000">0.05</text>
<text transform="translate(42.7,1112.0) scale(1.0,1)" font-size="21.9" text-anchor="end" fill="#000">0.10</text>
<text transform="translate(42.7,1083.2) scale(1.0,1)" font-size="21.9" text-anchor="end" fill="#000">0.15</text>
<text transform="translate(42.7,1054.4) scale(1.0,1)" font-size="21.9" text-anchor="end" fill="#000">0.20</text>
<path d="M70.0 1162.80V1045.50M55.8 1161.75H70.0M55.8 1132.95H70.0M55.8 1104.15H70.0M55.8 1075.35H70.0M55.8 1046.55H70.0" fill="none" stroke="#000" stroke-width="2.1"/>
<rect x="97.10" y="1160.55" width="4.83" height="1.80" fill="#0A32FF"/>
<rect x="102.90" y="1161.25" width="4.83" height="1.10" fill="#0A32FF"/>
<rect x="108.70" y="1159.95" width="4.83" height="2.40" fill="#0A32FF"/>
<rect x="114.50" y="1160.55" width="4.83" height="1.80" fill="#0A32FF"/>
<rect x="131.89" y="1160.95" width="4.83" height="1.40" fill="#0A32FF"/>
<rect x="143.49" y="1159.95" width="4.83" height="2.40" fill="#0A32FF"/>
<rect x="155.09" y="1158.75" width="4.83" height="3.60" fill="#0A32FF"/>
<rect x="160.89" y="1159.95" width="4.83" height="2.40" fill="#0A32FF"/>
<rect x="178.28" y="1152.45" width="4.83" height="9.90" fill="#0A32FF"/>
<rect x="195.68" y="1160.95" width="4.83" height="1.40" fill="#000000"/>
<rect x="207.28" y="1160.95" width="4.83" height="1.40" fill="#000000"/>
<rect x="218.88" y="1160.95" width="4.83" height="1.40" fill="#000000"/>
<rect x="230.48" y="1160.95" width="4.83" height="1.40" fill="#000000"/>
<rect x="236.28" y="1160.95" width="4.83" height="1.40" fill="#000000"/>
<rect x="242.07" y="1160.95" width="4.83" height="1.40" fill="#000000"/>
<rect x="247.87" y="1160.25" width="4.83" height="2.10" fill="#000000"/>
<rect x="253.67" y="1159.75" width="4.83" height="2.60" fill="#000000"/>
<rect x="276.87" y="1157.95" width="4.83" height="4.40" fill="#FF2A0A"/>
<rect x="282.67" y="1161.15" width="4.83" height="1.20" fill="#FF2A0A"/>
<rect x="288.47" y="1158.75" width="4.83" height="3.60" fill="#FF2A0A"/>
<rect x="294.26" y="1161.15" width="4.83" height="1.20" fill="#FF2A0A"/>
<rect x="300.06" y="1158.75" width="4.83" height="3.60" fill="#FF2A0A"/>
<rect x="317.46" y="1160.75" width="4.83" height="1.60" fill="#FF2A0A"/>
<rect x="334.86" y="1159.95" width="4.83" height="2.40" fill="#FF2A0A"/>
<rect x="340.66" y="1159.95" width="4.83" height="2.40" fill="#FF2A0A"/>
<rect x="346.46" y="1160.55" width="4.83" height="1.80" fill="#FF2A0A"/>
<rect x="352.26" y="1157.95" width="4.83" height="4.40" fill="#FF2A0A"/>
<rect x="363.85" y="1156.25" width="4.83" height="6.10" fill="#FF2A0A"/>
<rect x="375.45" y="1158.95" width="4.83" height="3.40" fill="#BEBEBE"/>
<rect x="387.05" y="1157.45" width="4.83" height="4.90" fill="#BEBEBE"/>
<rect x="392.85" y="1161.25" width="4.83" height="1.10" fill="#BEBEBE"/>
<rect x="398.65" y="1158.95" width="4.83" height="3.40" fill="#BEBEBE"/>
<rect x="404.45" y="1157.45" width="4.83" height="4.90" fill="#BEBEBE"/>
<rect x="421.84" y="1160.55" width="4.83" height="1.80" fill="#BEBEBE"/>
<rect x="427.64" y="1160.85" width="4.83" height="1.50" fill="#BEBEBE"/>
<rect x="433.44" y="1161.35" width="4.83" height="1.00" fill="#BEBEBE"/>
<rect x="439.24" y="1159.45" width="4.83" height="2.90" fill="#BEBEBE"/>
<rect x="445.04" y="1160.85" width="4.83" height="1.50" fill="#BEBEBE"/>
<rect x="450.84" y="1161.35" width="4.83" height="1.00" fill="#BEBEBE"/>
<rect x="456.64" y="1159.45" width="4.83" height="2.90" fill="#BEBEBE"/>
<rect x="462.44" y="1160.25" width="4.83" height="2.10" fill="#14EE14"/>
<rect x="468.24" y="1153.35" width="4.83" height="9.00" fill="#14EE14"/>
<rect x="474.03" y="1161.25" width="4.83" height="1.10" fill="#14EE14"/>
<rect x="479.83" y="1156.35" width="4.83" height="6.00" fill="#14EE14"/>
<rect x="485.63" y="1155.15" width="4.83" height="7.20" fill="#14EE14"/>
<rect x="491.43" y="1144.15" width="4.83" height="18.20" fill="#14EE14"/>
<rect x="497.23" y="1148.25" width="4.83" height="14.10" fill="#14EE14"/>
<rect x="508.83" y="1161.25" width="4.83" height="1.10" fill="#14EE14"/>
<rect x="514.63" y="1147.05" width="4.83" height="15.30" fill="#14EE14"/>
<rect x="520.43" y="1158.95" width="4.83" height="3.40" fill="#14EE14"/>
<rect x="526.23" y="1159.75" width="4.83" height="2.60" fill="#14EE14"/>
<rect x="537.82" y="1139.05" width="4.83" height="23.30" fill="#14EE14"/>
<rect x="543.62" y="1157.45" width="4.83" height="4.90" fill="#14EE14"/>
<rect x="549.42" y="1147.45" width="4.83" height="14.90" fill="#14EE14"/>
<rect x="555.22" y="1160.95" width="4.83" height="1.40" fill="#FFC0CB"/>
<rect x="561.02" y="1154.35" width="4.83" height="8.00" fill="#FFC0CB"/>
<rect x="566.82" y="1158.55" width="4.83" height="3.80" fill="#FFC0CB"/>
<rect x="572.62" y="1108.85" width="4.83" height="53.50" fill="#FFC0CB"/>
<rect x="578.42" y="1154.05" width="4.83" height="8.30" fill="#FFC0CB"/>
<rect x="584.22" y="1147.15" width="4.83" height="15.20" fill="#FFC0CB"/>
<rect x="590.01" y="1144.45" width="4.83" height="17.90" fill="#FFC0CB"/>
<rect x="595.81" y="1135.25" width="4.83" height="27.10" fill="#FFC0CB"/>
<rect x="601.61" y="1160.05" width="4.83" height="2.30" fill="#FFC0CB"/>
<rect x="607.41" y="1154.35" width="4.83" height="8.00" fill="#FFC0CB"/>
<rect x="613.21" y="1154.35" width="4.83" height="8.00" fill="#FFC0CB"/>
<rect x="619.01" y="1102.55" width="4.83" height="59.80" fill="#FFC0CB"/>
<rect x="624.81" y="1156.95" width="4.83" height="5.40" fill="#FFC0CB"/>
<rect x="630.61" y="1150.85" width="4.83" height="11.50" fill="#FFC0CB"/>
<rect x="636.41" y="1154.35" width="4.83" height="8.00" fill="#FFC0CB"/>
<rect x="642.21" y="1036.75" width="4.83" height="125.60" fill="#FFC0CB"/>
<rect x="90.70" y="1166.35" width="92.8" height="17.35" fill="#0A32FF"/>
<text class="b" stroke="#fff" stroke-width="0.2" transform="translate(139.4,1183.0) scale(1.0,1)" font-size="21.9" text-anchor="middle" fill="#fff">C&gt;A</text>
<rect x="183.42" y="1166.35" width="92.8" height="17.35" fill="#000000"/>
<text class="b" stroke="#fff" stroke-width="0.2" transform="translate(231.3,1183.0) scale(1.0,1)" font-size="21.9" text-anchor="middle" fill="#fff">C&gt;G</text>
<rect x="276.14" y="1166.35" width="92.8" height="17.35" fill="#FF2A0A"/>
<text class="b" stroke="#fff" stroke-width="0.2" transform="translate(323.7,1183.0) scale(1.0,1)" font-size="21.9" text-anchor="middle" fill="#fff">C&gt;T</text>
<rect x="368.86" y="1166.35" width="92.8" height="17.35" fill="#BEBEBE"/>
<text class="b" stroke="#000" stroke-width="0.2" transform="translate(416.3,1183.0) scale(1.0,1)" font-size="21.9" text-anchor="middle" fill="#000">T&gt;A</text>
<rect x="461.58" y="1166.35" width="92.8" height="17.35" fill="#14EE14"/>
<text class="b" stroke="#000" stroke-width="0.2" transform="translate(508.0,1183.0) scale(1.0,1)" font-size="21.9" text-anchor="middle" fill="#000">T&gt;C</text>
<rect x="554.30" y="1166.35" width="92.8" height="17.35" fill="#FFC0CB"/>
<text class="b" stroke="#000" stroke-width="0.2" transform="translate(599.9,1183.0) scale(1.0,1)" font-size="21.9" text-anchor="middle" fill="#000">T&gt;G</text>
<text class="b" stroke="#000" stroke-width="0.2" transform="translate(1100.5,931.4) scale(1.0,1)" font-size="26.65" text-anchor="middle" fill="#000">S11</text>
<text class="b" stroke="#000" stroke-width="0.2" transform="translate(1100.5,963.4) scale(1.0,1)" font-size="26.65" text-anchor="middle" fill="#000">Ref.Sig.36(0.94)</text>
<text class="b" stroke="#000" stroke-width="0.2" transform="translate(1100.5,995.4) scale(1.0,1)" font-size="26.65" text-anchor="middle" fill="#000">Pancreas_I(0.96)</text>
<text class="b" stroke="#000" stroke-width="0.2" transform="translate(1100.5,1027.4) scale(1.0,1)" font-size="26.65" text-anchor="middle" fill="#000">PCAWG SBS36(0.96)</text>
<text transform="translate(774.2,1169.6) scale(1.0,1)" font-size="21.9" text-anchor="end" fill="#000">0.00</text>
<text transform="translate(774.2,1143.6) scale(1.0,1)" font-size="21.9" text-anchor="end" fill="#000">0.05</text>
<text transform="translate(774.2,1117.7) scale(1.0,1)" font-size="21.9" text-anchor="end" fill="#000">0.10</text>
<text transform="translate(774.2,1091.8) scale(1.0,1)" font-size="21.9" text-anchor="end" fill="#000">0.15</text>
<text transform="translate(774.2,1065.8) scale(1.0,1)" font-size="21.9" text-anchor="end" fill="#000">0.20</text>
<path d="M801.5 1162.80V1056.90M787.4 1161.75H801.5M787.4 1135.80H801.5M787.4 1109.85H801.5M787.4 1083.90H801.5M787.4 1057.95H801.5" fill="none" stroke="#000" stroke-width="2.1"/>
<rect x="822.85" y="1131.35" width="4.83" height="31.00" fill="#0A32FF"/>
<rect x="828.65" y="1156.95" width="4.83" height="5.40" fill="#0A32FF"/>
<rect x="834.45" y="1161.25" width="4.83" height="1.10" fill="#0A32FF"/>
<rect x="840.25" y="1150.85" width="4.83" height="11.50" fill="#0A32FF"/>
<rect x="846.05" y="1136.25" width="4.83" height="26.10" fill="#0A32FF"/>
<rect x="851.85" y="1161.45" width="4.83" height="0.90" fill="#0A32FF"/>
<rect x="857.64" y="1160.75" width="4.83" height="1.60" fill="#0A32FF"/>
<rect x="863.44" y="1141.65" width="4.83" height="20.70" fill="#0A32FF"/>
<rect x="869.24" y="1085.85" width="4.83" height="76.50" fill="#0A32FF"/>
<rect x="875.04" y="1149.05" width="4.83" height="13.30" fill="#0A32FF"/>
<rect x="880.84" y="1158.95" width="4.83" height="3.40" fill="#0A32FF"/>
<rect x="886.64" y="1113.25" width="4.83" height="49.10" fill="#0A32FF"/>
<rect x="892.44" y="1084.95" width="4.83" height="77.40" fill="#0A32FF"/>
<rect x="898.24" y="1125.25" width="4.83" height="37.10" fill="#0A32FF"/>
<rect x="904.04" y="1154.35" width="4.83" height="8.00" fill="#0A32FF"/>
<rect x="909.84" y="1036.35" width="4.83" height="126.00" fill="#0A32FF"/>
<rect x="915.63" y="1161.15" width="4.83" height="1.20" fill="#000000"/>
<rect x="921.43" y="1161.15" width="4.83" height="1.20" fill="#000000"/>
<rect x="933.03" y="1161.25" width="4.83" height="1.10" fill="#000000"/>
<rect x="956.23" y="1161.05" width="4.83" height="1.30" fill="#000000"/>
<rect x="962.03" y="1161.05" width="4.83" height="1.30" fill="#000000"/>
<rect x="979.42" y="1161.25" width="4.83" height="1.10" fill="#000000"/>
<rect x="991.02" y="1161.25" width="4.83" height="1.10" fill="#000000"/>
<rect x="1002.62" y="1161.05" width="4.83" height="1.30" fill="#000000"/>
<rect x="1008.42" y="1160.55" width="4.83" height="1.80" fill="#FF2A0A"/>
<rect x="1014.22" y="1160.55" width="4.83" height="1.80" fill="#FF2A0A"/>
<rect x="1025.82" y="1160.75" width="4.83" height="1.60" fill="#FF2A0A"/>
<rect x="1031.61" y="1159.95" width="4.83" height="2.40" fill="#FF2A0A"/>
<rect x="1037.41" y="1160.95" width="4.83" height="1.40" fill="#FF2A0A"/>
<rect x="1043.21" y="1160.75" width="4.83" height="1.60" fill="#FF2A0A"/>
<rect x="1054.81" y="1160.75" width="4.83" height="1.60" fill="#FF2A0A"/>
<rect x="1066.41" y="1161.25" width="4.83" height="1.10" fill="#FF2A0A"/>
<rect x="1072.21" y="1161.25" width="4.83" height="1.10" fill="#FF2A0A"/>
<rect x="1078.01" y="1160.55" width="4.83" height="1.80" fill="#FF2A0A"/>
<rect x="1083.81" y="1160.55" width="4.83" height="1.80" fill="#FF2A0A"/>
<rect x="1089.60" y="1161.15" width="4.83" height="1.20" fill="#FF2A0A"/>
<rect x="1095.40" y="1161.15" width="4.83" height="1.20" fill="#FF2A0A"/>
<rect x="1112.80" y="1161.45" width="4.83" height="0.90" fill="#BEBEBE"/>
<rect x="1118.60" y="1161.45" width="4.83" height="0.90" fill="#BEBEBE"/>
<rect x="1141.80" y="1161.45" width="4.83" height="0.90" fill="#BEBEBE"/>
<rect x="1153.39" y="1161.45" width="4.83" height="0.90" fill="#BEBEBE"/>
<rect x="1170.79" y="1160.95" width="4.83" height="1.40" fill="#BEBEBE"/>
<rect x="1193.99" y="1160.75" width="4.83" height="1.60" fill="#14EE14"/>
<rect x="1199.79" y="1161.45" width="4.83" height="0.90" fill="#14EE14"/>
<rect x="1205.58" y="1160.75" width="4.83" height="1.60" fill="#14EE14"/>
<rect x="1211.38" y="1160.75" width="4.83" height="1.60" fill="#14EE14"/>
<rect x="1234.58" y="1161.35" width="4.83" height="1.00" fill="#14EE14"/>
<rect x="1246.18" y="1161.35" width="4.83" height="1.00" fill="#14EE14"/>
<rect x="1251.98" y="1161.35" width="4.83" height="1.00" fill="#14EE14"/>
<rect x="1257.78" y="1161.35" width="4.83" height="1.00" fill="#14EE14"/>
<rect x="1263.57" y="1161.35" width="4.83" height="1.00" fill="#14EE14"/>
<rect x="1275.17" y="1161.35" width="4.83" height="1.00" fill="#14EE14"/>
<rect x="1280.97" y="1161.35" width="4.83" height="1.00" fill="#14EE14"/>
<rect x="822.25" y="1166.35" width="92.8" height="17.35" fill="#0A32FF"/>
<text class="b" stroke="#fff" stroke-width="0.2" transform="translate(870.9,1183.0) scale(1.0,1)" font-size="21.9" text-anchor="middle" fill="#fff">C&gt;A</text>
<rect x="914.97" y="1166.35" width="92.8" height="17.35" fill="#000000"/>
<text class="b" stroke="#fff" stroke-width="0.2" transform="translate(962.9,1183.0) scale(1.0,1)" font-size="21.9" text-anchor="middle" fill="#fff">C&gt;G</text>
<rect x="1007.69" y="1166.35" width="92.8" height="17.35" fill="#FF2A0A"/>
<text class="b" stroke="#fff" stroke-width="0.2" transform="translate(1055.3,1183.0) scale(1.0,1)" font-size="21.9" text-anchor="middle" fill="#fff">C&gt;T</text>
<rect x="1100.41" y="1166.35" width="92.8" height="17.35" fill="#BEBEBE"/>
<text class="b" stroke="#000" stroke-width="0.2" transform="translate(1147.8,1183.0) scale(1.0,1)" font-size="21.9" text-anchor="middle" fill="#000">T&gt;A</text>
<rect x="1193.13" y="1166.35" width="92.8" height="17.35" fill="#14EE14"/>
<text class="b" stroke="#000" stroke-width="0.2" transform="translate(1239.5,1183.0) scale(1.0,1)" font-size="21.9" text-anchor="middle" fill="#000">T&gt;C</text>
<rect x="1285.85" y="1166.35" width="92.8" height="17.35" fill="#FFC0CB"/>
<text class="b" stroke="#000" stroke-width="0.2" transform="translate(1331.5,1183.0) scale(1.0,1)" font-size="21.9" text-anchor="middle" fill="#000">T&gt;G</text>
<text class="b" stroke="#000" stroke-width="0.2" transform="translate(1832.0,931.4) scale(1.0,1)" font-size="26.65" text-anchor="middle" fill="#000">S12</text>
<text class="b" stroke="#000" stroke-width="0.2" transform="translate(1832.0,963.4) scale(1.0,1)" font-size="26.65" text-anchor="middle" fill="#000">Ref.Sig.22(0.99)</text>
<text class="b" stroke="#000" stroke-width="0.2" transform="translate(1832.0,995.4) scale(1.0,1)" font-size="26.65" text-anchor="middle" fill="#000">Kidney_E(0.99)</text>
<text class="b" stroke="#000" stroke-width="0.2" transform="translate(1832.0,1027.4) scale(1.0,1)" font-size="26.65" text-anchor="middle" fill="#000">PCAWG SBS22(0.99)</text>
<text transform="translate(1505.8,1169.6) scale(1.0,1)" font-size="21.9" text-anchor="end" fill="#000">0.00</text>
<text transform="translate(1505.8,1129.3) scale(1.0,1)" font-size="21.9" text-anchor="end" fill="#000">0.05</text>
<text transform="translate(1505.8,1089.0) scale(1.0,1)" font-size="21.9" text-anchor="end" fill="#000">0.10</text>
<text transform="translate(1505.8,1048.7) scale(1.0,1)" font-size="21.9" text-anchor="end" fill="#000">0.15</text>
<path d="M1533.1 1162.80V1039.80M1518.9 1161.75H1533.1M1518.9 1121.45H1533.1M1518.9 1081.15H1533.1M1518.9 1040.85H1533.1" fill="none" stroke="#000" stroke-width="2.1"/>
<rect x="1554.40" y="1157.95" width="4.83" height="4.40" fill="#0A32FF"/>
<rect x="1560.20" y="1161.15" width="4.83" height="1.20" fill="#0A32FF"/>
<rect x="1566.00" y="1161.15" width="4.83" height="1.20" fill="#0A32FF"/>
<rect x="1571.80" y="1161.15" width="4.83" height="1.20" fill="#0A32FF"/>
<rect x="1577.60" y="1158.25" width="4.83" height="4.10" fill="#0A32FF"/>
<rect x="1583.39" y="1158.75" width="4.83" height="3.60" fill="#0A32FF"/>
<rect x="1589.19" y="1160.95" width="4.83" height="1.40" fill="#0A32FF"/>
<rect x="1600.79" y="1160.55" width="4.83" height="1.80" fill="#0A32FF"/>
<rect x="1606.59" y="1160.25" width="4.83" height="2.10" fill="#0A32FF"/>
<rect x="1612.39" y="1161.15" width="4.83" height="1.20" fill="#0A32FF"/>
<rect x="1618.19" y="1161.15" width="4.83" height="1.20" fill="#0A32FF"/>
<rect x="1623.99" y="1159.75" width="4.83" height="2.60" fill="#0A32FF"/>
<rect x="1629.79" y="1159.75" width="4.83" height="2.60" fill="#0A32FF"/>
<rect x="1635.59" y="1160.95" width="4.83" height="1.40" fill="#0A32FF"/>
<rect x="1647.18" y="1160.55" width="4.83" height="1.80" fill="#000000"/>
<rect x="1652.98" y="1160.95" width="4.83" height="1.40" fill="#000000"/>
<rect x="1658.78" y="1160.95" width="4.83" height="1.40" fill="#000000"/>
<rect x="1670.38" y="1160.95" width="4.83" height="1.40" fill="#000000"/>
<rect x="1676.18" y="1160.95" width="4.83" height="1.40" fill="#000000"/>
<rect x="1681.98" y="1160.95" width="4.83" height="1.40" fill="#000000"/>
<rect x="1693.58" y="1160.55" width="4.83" height="1.80" fill="#000000"/>
<rect x="1705.17" y="1160.95" width="4.83" height="1.40" fill="#000000"/>
<rect x="1716.77" y="1159.75" width="4.83" height="2.60" fill="#000000"/>
<rect x="1722.57" y="1160.25" width="4.83" height="2.10" fill="#000000"/>
<rect x="1728.37" y="1160.75" width="4.83" height="1.60" fill="#000000"/>
<rect x="1734.17" y="1160.55" width="4.83" height="1.80" fill="#000000"/>
<rect x="1739.97" y="1161.15" width="4.83" height="1.20" fill="#FF2A0A"/>
<rect x="1745.77" y="1160.55" width="4.83" height="1.80" fill="#FF2A0A"/>
<rect x="1751.57" y="1160.55" width="4.83" height="1.80" fill="#FF2A0A"/>
<rect x="1757.36" y="1161.15" width="4.83" height="1.20" fill="#FF2A0A"/>
<rect x="1763.16" y="1159.55" width="4.83" height="2.80" fill="#FF2A0A"/>
<rect x="1768.96" y="1159.55" width="4.83" height="2.80" fill="#FF2A0A"/>
<rect x="1774.76" y="1160.25" width="4.83" height="2.10" fill="#FF2A0A"/>
<rect x="1780.56" y="1160.95" width="4.83" height="1.40" fill="#FF2A0A"/>
<rect x="1786.36" y="1160.95" width="4.83" height="1.40" fill="#FF2A0A"/>
<rect x="1792.16" y="1160.95" width="4.83" height="1.40" fill="#FF2A0A"/>
<rect x="1803.76" y="1160.95" width="4.83" height="1.40" fill="#FF2A0A"/>
<rect x="1809.56" y="1159.75" width="4.83" height="2.60" fill="#FF2A0A"/>
<rect x="1815.36" y="1158.75" width="4.83" height="3.60" fill="#FF2A0A"/>
<rect x="1821.15" y="1160.95" width="4.83" height="1.40" fill="#FF2A0A"/>
<rect x="1826.95" y="1160.75" width="4.83" height="1.60" fill="#FF2A0A"/>
<rect x="1832.75" y="1101.45" width="4.83" height="60.90" fill="#BEBEBE"/>
<rect x="1838.55" y="1154.35" width="4.83" height="8.00" fill="#BEBEBE"/>
<rect x="1844.35" y="1115.25" width="4.83" height="47.10" fill="#BEBEBE"/>
<rect x="1850.15" y="1149.75" width="4.83" height="12.60" fill="#BEBEBE"/>
<rect x="1855.95" y="1067.75" width="4.83" height="94.60" fill="#BEBEBE"/>
<rect x="1861.75" y="1120.35" width="4.83" height="42.00" fill="#BEBEBE"/>
<rect x="1867.55" y="1036.65" width="4.83" height="125.70" fill="#BEBEBE"/>
<rect x="1873.34" y="1119.85" width="4.83" height="42.50" fill="#BEBEBE"/>
<rect x="1879.14" y="1119.85" width="4.83" height="42.50" fill="#BEBEBE"/>
<rect x="1884.94" y="1154.35" width="4.83" height="8.00" fill="#BEBEBE"/>
<rect x="1890.74" y="1134.45" width="4.83" height="27.90" fill="#BEBEBE"/>
<rect x="1896.54" y="1155.45" width="4.83" height="6.90" fill="#BEBEBE"/>
<rect x="1902.34" y="1093.35" width="4.83" height="69.00" fill="#BEBEBE"/>
<rect x="1908.14" y="1144.45" width="4.83" height="17.90" fill="#BEBEBE"/>
<rect x="1913.94" y="1109.65" width="4.83" height="52.70" fill="#BEBEBE"/>
<rect x="1919.74" y="1136.25" width="4.83" height="26.10" fill="#BEBEBE"/>
<rect x="1925.54" y="1144.45" width="4.83" height="17.90" fill="#14EE14"/>
<rect x="1937.13" y="1158.55" width="4.83" height="3.80" fill="#14EE14"/>
<rect x="1942.93" y="1161.25" width="4.83" height="1.10" fill="#14EE14"/>
<rect x="1948.73" y="1158.25" width="4.83" height="4.10" fill="#14EE14"/>
<rect x="1954.53" y="1161.25" width="4.83" height="1.10" fill="#14EE14"/>
<rect x="1960.33" y="1161.15" width="4.83" height="1.20" fill="#14EE14"/>
<rect x="1966.13" y="1160.55" width="4.83" height="1.80" fill="#14EE14"/>
<rect x="1971.93" y="1160.95" width="4.83" height="1.40" fill="#14EE14"/>
<rect x="1977.73" y="1161.15" width="4.83" height="1.20" fill="#14EE14"/>
<rect x="1983.53" y="1161.15" width="4.83" height="1.20" fill="#14EE14"/>
<rect x="1989.32" y="1160.95" width="4.83" height="1.40" fill="#14EE14"/>
<rect x="1995.12" y="1158.25" width="4.83" height="4.10" fill="#14EE14"/>
<rect x="2000.92" y="1160.95" width="4.83" height="1.40" fill="#14EE14"/>
<rect x="2006.72" y="1161.15" width="4.83" height="1.20" fill="#14EE14"/>
<rect x="2018.32" y="1159.25" width="4.83" height="3.10" fill="#FFC0CB"/>
<rect x="2024.12" y="1161.35" width="4.83" height="1.00" fill="#FFC0CB"/>
<rect x="2029.92" y="1160.75" width="4.83" height="1.60" fill="#FFC0CB"/>
<rect x="2041.52" y="1159.95" width="4.83" height="2.40" fill="#FFC0CB"/>
<rect x="2053.11" y="1157.75" width="4.83" height="4.60" fill="#FFC0CB"/>
<rect x="2058.91" y="1161.35" width="4.83" height="1.00" fill="#FFC0CB"/>
<rect x="2064.71" y="1160.95" width="4.83" height="1.40" fill="#FFC0CB"/>
<rect x="2076.31" y="1160.95" width="4.83" height="1.40" fill="#FFC0CB"/>
<rect x="2087.91" y="1160.35" width="4.83" height="2.00" fill="#FFC0CB"/>
<rect x="2093.71" y="1161.35" width="4.83" height="1.00" fill="#FFC0CB"/>
<rect x="2099.51" y="1158.15" width="4.83" height="4.20" fill="#FFC0CB"/>
<rect x="1553.80" y="1166.35" width="92.8" height="17.35" fill="#0A32FF"/>
<text class="b" stroke="#fff" stroke-width="0.2" transform="translate(1602.5,1183.0) scale(1.0,1)" font-size="21.9" text-anchor="middle" fill="#fff">C&gt;A</text>
<rect x="1646.52" y="1166.35" width="92.8" height="17.35" fill="#000000"/>
<text class="b" stroke="#fff" stroke-width="0.2" transform="translate(1694.4,1183.0) scale(1.0,1)" font-size="21.9" text-anchor="middle" fill="#fff">C&gt;G</text>
<rect x="1739.24" y="1166.35" width="92.8" height="17.35" fill="#FF2A0A"/>
<text class="b" stroke="#fff" stroke-width="0.2" transform="translate(1786.8,1183.0) scale(1.0,1)" font-size="21.9" text-anchor="middle" fill="#fff">C&gt;T</text>
<rect x="1831.96" y="1166.35" width="92.8" height="17.35" fill="#BEBEBE"/>
<text class="b" stroke="#000" stroke-width="0.2" transform="translate(1879.4,1183.0) scale(1.0,1)" font-size="21.9" text-anchor="middle" fill="#000">T&gt;A</text>
<rect x="1924.68" y="1166.35" width="92.8" height="17.35" fill="#14EE14"/>
<text class="b" stroke="#000" stroke-width="0.2" transform="translate(1971.1,1183.0) scale(1.0,1)" font-size="21.9" text-anchor="middle" fill="#000">T&gt;C</text>
<rect x="2017.40" y="1166.35" width="92.8" height="17.35" fill="#FFC0CB"/>
<text class="b" stroke="#000" stroke-width="0.2" transform="translate(2063.0,1183.0) scale(1.0,1)" font-size="21.9" text-anchor="middle" fill="#000">T&gt;G</text>
<text class="b" stroke="#000" stroke-width="0.2" transform="translate(368.9,1217.4) scale(1.0,1)" font-size="26.65" text-anchor="middle" fill="#000">S13</text>
<text class="b" stroke="#000" stroke-width="0.2" transform="translate(368.9,1249.4) scale(1.0,1)" font-size="26.65" text-anchor="middle" fill="#000">Ref.Sig.19(0.94)</text>
<text class="b" stroke="#000" stroke-width="0.2" transform="translate(368.9,1281.4) scale(1.0,1)" font-size="26.65" text-anchor="middle" fill="#000">Liver_G(0.93)</text>
<text class="b" stroke="#000" stroke-width="0.2" transform="translate(368.9,1313.4) scale(1.0,1)" font-size="26.65" text-anchor="middle" fill="#000">PCAWG SBS19(0.94)</text>
<text transform="translate(42.7,1455.7) scale(1.0,1)" font-size="21.9" text-anchor="end" fill="#000">0.00</text>
<text transform="translate(42.7,1428.1) scale(1.0,1)" font-size="21.9" text-anchor="end" fill="#000">0.05</text>
<text transform="translate(42.7,1400.5) scale(1.0,1)" font-size="21.9" text-anchor="end" fill="#000">0.10</text>
<text transform="translate(42.7,1372.9) scale(1.0,1)" font-size="21.9" text-anchor="end" fill="#000">0.15</text>
<text transform="translate(42.7,1345.2) scale(1.0,1)" font-size="21.9" text-anchor="end" fill="#000">0.20</text>
<path d="M70.0 1448.85V1336.35M55.8 1447.80H70.0M55.8 1420.20H70.0M55.8 1392.60H70.0M55.8 1365.00H70.0M55.8 1337.40H70.0" fill="none" stroke="#000" stroke-width="2.1"/>
<rect x="97.10" y="1442.30" width="4.83" height="6.10" fill="#0A32FF"/>
<rect x="114.50" y="1441.50" width="4.83" height="6.90" fill="#0A32FF"/>
<rect x="120.30" y="1447.40" width="4.83" height="1.00" fill="#0A32FF"/>
<rect x="126.09" y="1447.00" width="4.83" height="1.40" fill="#0A32FF"/>
<rect x="143.49" y="1446.30" width="4.83" height="2.10" fill="#0A32FF"/>
<rect x="149.29" y="1447.50" width="4.83" height="0.90" fill="#0A32FF"/>
<rect x="155.09" y="1447.50" width="4.83" height="0.90" fill="#0A32FF"/>
<rect x="160.89" y="1447.30" width="4.83" height="1.10" fill="#0A32FF"/>
<rect x="166.69" y="1447.00" width="4.83" height="1.40" fill="#0A32FF"/>
<rect x="172.49" y="1447.30" width="4.83" height="1.10" fill="#0A32FF"/>
<rect x="184.08" y="1446.80" width="4.83" height="1.60" fill="#000000"/>
<rect x="189.88" y="1447.00" width="4.83" height="1.40" fill="#000000"/>
<rect x="213.08" y="1447.40" width="4.83" height="1.00" fill="#000000"/>
<rect x="230.48" y="1447.20" width="4.83" height="1.20" fill="#000000"/>
<rect x="236.28" y="1446.30" width="4.83" height="2.10" fill="#000000"/>
<rect x="253.67" y="1447.40" width="4.83" height="1.00" fill="#000000"/>
<rect x="259.47" y="1447.40" width="4.83" height="1.00" fill="#000000"/>
<rect x="276.87" y="1416.20" width="4.83" height="32.20" fill="#FF2A0A"/>
<rect x="282.67" y="1447.50" width="4.83" height="0.90" fill="#FF2A0A"/>
<rect x="288.47" y="1447.00" width="4.83" height="1.40" fill="#FF2A0A"/>
<rect x="294.26" y="1434.30" width="4.83" height="14.10" fill="#FF2A0A"/>
<rect x="300.06" y="1352.70" width="4.83" height="95.70" fill="#FF2A0A"/>
<rect x="305.86" y="1376.50" width="4.83" height="71.90" fill="#FF2A0A"/>
<rect x="311.66" y="1436.30" width="4.83" height="12.10" fill="#FF2A0A"/>
<rect x="317.46" y="1322.70" width="4.83" height="125.70" fill="#FF2A0A"/>
<rect x="323.26" y="1414.40" width="4.83" height="34.00" fill="#FF2A0A"/>
<rect x="329.06" y="1438.90" width="4.83" height="9.50" fill="#FF2A0A"/>
<rect x="340.66" y="1405.20" width="4.83" height="43.20" fill="#FF2A0A"/>
<rect x="346.46" y="1447.00" width="4.83" height="1.40" fill="#FF2A0A"/>
<rect x="352.26" y="1443.20" width="4.83" height="5.20" fill="#FF2A0A"/>
<rect x="358.05" y="1447.00" width="4.83" height="1.40" fill="#FF2A0A"/>
<rect x="363.85" y="1438.10" width="4.83" height="10.30" fill="#FF2A0A"/>
<rect x="369.65" y="1447.40" width="4.83" height="1.00" fill="#BEBEBE"/>
<rect x="375.45" y="1446.30" width="4.83" height="2.10" fill="#BEBEBE"/>
<rect x="381.25" y="1446.30" width="4.83" height="2.10" fill="#BEBEBE"/>
<rect x="392.85" y="1447.40" width="4.83" height="1.00" fill="#BEBEBE"/>
<rect x="398.65" y="1447.40" width="4.83" height="1.00" fill="#BEBEBE"/>
<rect x="410.25" y="1443.50" width="4.83" height="4.90" fill="#BEBEBE"/>
<rect x="421.84" y="1447.50" width="4.83" height="0.90" fill="#BEBEBE"/>
<rect x="427.64" y="1447.50" width="4.83" height="0.90" fill="#BEBEBE"/>
<rect x="439.24" y="1445.80" width="4.83" height="2.60" fill="#BEBEBE"/>
<rect x="445.04" y="1447.50" width="4.83" height="0.90" fill="#BEBEBE"/>
<rect x="456.64" y="1447.50" width="4.83" height="0.90" fill="#BEBEBE"/>
<rect x="462.44" y="1447.40" width="4.83" height="1.00" fill="#14EE14"/>
<rect x="474.03" y="1442.20" width="4.83" height="6.20" fill="#14EE14"/>
<rect x="479.83" y="1445.00" width="4.83" height="3.40" fill="#14EE14"/>
<rect x="485.63" y="1446.60" width="4.83" height="1.80" fill="#14EE14"/>
<rect x="508.83" y="1446.20" width="4.83" height="2.20" fill="#14EE14"/>
<rect x="514.63" y="1445.80" width="4.83" height="2.60" fill="#14EE14"/>
<rect x="520.43" y="1446.60" width="4.83" height="1.80" fill="#14EE14"/>
<rect x="526.23" y="1434.30" width="4.83" height="14.10" fill="#14EE14"/>
<rect x="537.82" y="1447.00" width="4.83" height="1.40" fill="#14EE14"/>
<rect x="543.62" y="1443.50" width="4.83" height="4.90" fill="#14EE14"/>
<rect x="549.42" y="1441.50" width="4.83" height="6.90" fill="#14EE14"/>
<rect x="578.42" y="1447.50" width="4.83" height="0.90" fill="#FFC0CB"/>
<rect x="613.21" y="1447.50" width="4.83" height="0.90" fill="#FFC0CB"/>
<rect x="90.70" y="1452.40" width="92.8" height="17.35" fill="#0A32FF"/>
<text class="b" stroke="#fff" stroke-width="0.2" transform="translate(139.4,1469.0) scale(1.0,1)" font-size="21.9" text-anchor="middle" fill="#fff">C&gt;A</text>
<rect x="183.42" y="1452.40" width="92.8" height="17.35" fill="#000000"/>
<text class="b" stroke="#fff" stroke-width="0.2" transform="translate(231.3,1469.0) scale(1.0,1)" font-size="21.9" text-anchor="middle" fill="#fff">C&gt;G</text>
<rect x="276.14" y="1452.40" width="92.8" height="17.35" fill="#FF2A0A"/>
<text class="b" stroke="#fff" stroke-width="0.2" transform="translate(323.7,1469.0) scale(1.0,1)" font-size="21.9" text-anchor="middle" fill="#fff">C&gt;T</text>
<rect x="368.86" y="1452.40" width="92.8" height="17.35" fill="#BEBEBE"/>
<text class="b" stroke="#000" stroke-width="0.2" transform="translate(416.3,1469.0) scale(1.0,1)" font-size="21.9" text-anchor="middle" fill="#000">T&gt;A</text>
<rect x="461.58" y="1452.40" width="92.8" height="17.35" fill="#14EE14"/>
<text class="b" stroke="#000" stroke-width="0.2" transform="translate(508.0,1469.0) scale(1.0,1)" font-size="21.9" text-anchor="middle" fill="#000">T&gt;C</text>
<rect x="554.30" y="1452.40" width="92.8" height="17.35" fill="#FFC0CB"/>
<text class="b" stroke="#000" stroke-width="0.2" transform="translate(599.9,1469.0) scale(1.0,1)" font-size="21.9" text-anchor="middle" fill="#000">T&gt;G</text>
<text class="b" stroke="#000" stroke-width="0.2" transform="translate(1100.5,1217.4) scale(1.0,1)" font-size="26.65" text-anchor="middle" fill="#000">S14</text>
<text class="b" stroke="#000" stroke-width="0.2" transform="translate(1100.5,1249.4) scale(1.0,1)" font-size="26.65" text-anchor="middle" fill="#000">Ref.Sig.9(0.93)</text>
<text class="b" stroke="#000" stroke-width="0.2" transform="translate(1100.5,1281.4) scale(1.0,1)" font-size="26.65" text-anchor="middle" fill="#000">Lymphoid_G(0.93)</text>
<text class="b" stroke="#000" stroke-width="0.2" transform="translate(1100.5,1313.4) scale(1.0,1)" font-size="26.65" text-anchor="middle" fill="#000">PCAWG SBS9(0.83)</text>
<text transform="translate(774.2,1455.7) scale(1.0,1)" font-size="21.9" text-anchor="end" fill="#000">0.00</text>
<text transform="translate(774.2,1433.8) scale(1.0,1)" font-size="21.9" text-anchor="end" fill="#000">0.02</text>
<text transform="translate(774.2,1411.9) scale(1.0,1)" font-size="21.9" text-anchor="end" fill="#000">0.04</text>
<text transform="translate(774.2,1390.0) scale(1.0,1)" font-size="21.9" text-anchor="end" fill="#000">0.06</text>
<text transform="translate(774.2,1368.1) scale(1.0,1)" font-size="21.9" text-anchor="end" fill="#000">0.08</text>
<text transform="translate(774.2,1346.2) scale(1.0,1)" font-size="21.9" text-anchor="end" fill="#000">0.10</text>
<path d="M801.5 1448.85V1337.25M787.4 1447.80H801.5M787.4 1425.90H801.5M787.4 1404.00H801.5M787.4 1382.10H801.5M787.4 1360.20H801.5M787.4 1338.30H801.5" fill="none" stroke="#000" stroke-width="2.1"/>
<rect x="828.65" y="1437.80" width="4.83" height="10.60" fill="#0A32FF"/>
<rect x="840.25" y="1447.00" width="4.83" height="1.40" fill="#0A32FF"/>
<rect x="846.05" y="1441.40" width="4.83" height="7.00" fill="#0A32FF"/>
<rect x="851.85" y="1445.20" width="4.83" height="3.20" fill="#0A32FF"/>
<rect x="857.64" y="1446.80" width="4.83" height="1.60" fill="#0A32FF"/>
<rect x="869.24" y="1442.10" width="4.83" height="6.30" fill="#0A32FF"/>
<rect x="875.04" y="1435.20" width="4.83" height="13.20" fill="#0A32FF"/>
<rect x="886.64" y="1442.10" width="4.83" height="6.30" fill="#0A32FF"/>
<rect x="892.44" y="1420.20" width="4.83" height="28.20" fill="#0A32FF"/>
<rect x="909.84" y="1422.20" width="4.83" height="26.20" fill="#0A32FF"/>
<rect x="915.63" y="1439.80" width="4.83" height="8.60" fill="#000000"/>
<rect x="921.43" y="1443.20" width="4.83" height="5.20" fill="#000000"/>
<rect x="933.03" y="1432.20" width="4.83" height="16.20" fill="#000000"/>
<rect x="938.83" y="1446.00" width="4.83" height="2.40" fill="#000000"/>
<rect x="944.63" y="1446.00" width="4.83" height="2.40" fill="#000000"/>
<rect x="956.23" y="1444.10" width="4.83" height="4.30" fill="#000000"/>
<rect x="962.03" y="1444.10" width="4.83" height="4.30" fill="#000000"/>
<rect x="967.83" y="1437.80" width="4.83" height="10.60" fill="#000000"/>
<rect x="979.42" y="1432.20" width="4.83" height="16.20" fill="#000000"/>
<rect x="1002.62" y="1446.80" width="4.83" height="1.60" fill="#000000"/>
<rect x="1008.42" y="1442.10" width="4.83" height="6.30" fill="#FF2A0A"/>
<rect x="1014.22" y="1441.40" width="4.83" height="7.00" fill="#FF2A0A"/>
<rect x="1020.02" y="1440.60" width="4.83" height="7.80" fill="#FF2A0A"/>
<rect x="1025.82" y="1443.70" width="4.83" height="4.70" fill="#FF2A0A"/>
<rect x="1037.41" y="1442.10" width="4.83" height="6.30" fill="#FF2A0A"/>
<rect x="1043.21" y="1441.70" width="4.83" height="6.70" fill="#FF2A0A"/>
<rect x="1054.81" y="1447.20" width="4.83" height="1.20" fill="#FF2A0A"/>
<rect x="1060.61" y="1446.80" width="4.83" height="1.60" fill="#FF2A0A"/>
<rect x="1072.21" y="1436.80" width="4.83" height="11.60" fill="#FF2A0A"/>
<rect x="1078.01" y="1446.00" width="4.83" height="2.40" fill="#FF2A0A"/>
<rect x="1089.60" y="1442.10" width="4.83" height="6.30" fill="#FF2A0A"/>
<rect x="1095.40" y="1441.70" width="4.83" height="6.70" fill="#FF2A0A"/>
<rect x="1101.20" y="1411.80" width="4.83" height="36.60" fill="#BEBEBE"/>
<rect x="1107.00" y="1444.30" width="4.83" height="4.10" fill="#BEBEBE"/>
<rect x="1112.80" y="1438.90" width="4.83" height="9.50" fill="#BEBEBE"/>
<rect x="1118.60" y="1426.20" width="4.83" height="22.20" fill="#BEBEBE"/>
<rect x="1124.40" y="1435.40" width="4.83" height="13.00" fill="#BEBEBE"/>
<rect x="1136.00" y="1444.30" width="4.83" height="4.10" fill="#BEBEBE"/>
<rect x="1141.80" y="1446.60" width="4.83" height="1.80" fill="#BEBEBE"/>
<rect x="1147.59" y="1435.10" width="4.83" height="13.30" fill="#BEBEBE"/>
<rect x="1153.39" y="1441.50" width="4.83" height="6.90" fill="#BEBEBE"/>
<rect x="1159.19" y="1447.40" width="4.83" height="1.00" fill="#BEBEBE"/>
<rect x="1164.99" y="1446.10" width="4.83" height="2.30" fill="#BEBEBE"/>
<rect x="1170.79" y="1405.20" width="4.83" height="43.20" fill="#BEBEBE"/>
<rect x="1182.39" y="1424.30" width="4.83" height="24.10" fill="#BEBEBE"/>
<rect x="1188.19" y="1428.20" width="4.83" height="20.20" fill="#BEBEBE"/>
<rect x="1193.99" y="1425.90" width="4.83" height="22.50" fill="#14EE14"/>
<rect x="1199.79" y="1435.10" width="4.83" height="13.30" fill="#14EE14"/>
<rect x="1205.58" y="1440.10" width="4.83" height="8.30" fill="#14EE14"/>
<rect x="1211.38" y="1408.50" width="4.83" height="39.90" fill="#14EE14"/>
<rect x="1217.18" y="1432.30" width="4.83" height="16.10" fill="#14EE14"/>
<rect x="1228.78" y="1447.40" width="4.83" height="1.00" fill="#14EE14"/>
<rect x="1234.58" y="1435.40" width="4.83" height="13.00" fill="#14EE14"/>
<rect x="1246.18" y="1437.10" width="4.83" height="11.30" fill="#14EE14"/>
<rect x="1257.78" y="1440.90" width="4.83" height="7.50" fill="#14EE14"/>
<rect x="1263.57" y="1421.60" width="4.83" height="26.80" fill="#14EE14"/>
<rect x="1269.37" y="1433.50" width="4.83" height="14.90" fill="#14EE14"/>
<rect x="1275.17" y="1442.70" width="4.83" height="5.70" fill="#14EE14"/>
<rect x="1280.97" y="1396.70" width="4.83" height="51.70" fill="#14EE14"/>
<rect x="1286.77" y="1358.40" width="4.83" height="90.00" fill="#FFC0CB"/>
<rect x="1292.57" y="1437.40" width="4.83" height="11.00" fill="#FFC0CB"/>
<rect x="1298.37" y="1437.40" width="4.83" height="11.00" fill="#FFC0CB"/>
<rect x="1304.17" y="1440.40" width="4.83" height="8.00" fill="#FFC0CB"/>
<rect x="1309.97" y="1405.20" width="4.83" height="43.20" fill="#FFC0CB"/>
<rect x="1321.56" y="1435.10" width="4.83" height="13.30" fill="#FFC0CB"/>
<rect x="1333.16" y="1426.20" width="4.83" height="22.20" fill="#FFC0CB"/>
<rect x="1338.96" y="1440.10" width="4.83" height="8.30" fill="#FFC0CB"/>
<rect x="1344.76" y="1443.50" width="4.83" height="4.90" fill="#FFC0CB"/>
<rect x="1350.56" y="1444.30" width="4.83" height="4.10" fill="#FFC0CB"/>
<rect x="1356.36" y="1322.80" width="4.83" height="125.60" fill="#FFC0CB"/>
<rect x="1362.16" y="1436.30" width="4.83" height="12.10" fill="#FFC0CB"/>
<rect x="1367.96" y="1427.10" width="4.83" height="21.30" fill="#FFC0CB"/>
<rect x="1373.76" y="1399.80" width="4.83" height="48.60" fill="#FFC0CB"/>
<rect x="822.25" y="1452.40" width="92.8" height="17.35" fill="#0A32FF"/>
<text class="b" stroke="#fff" stroke-width="0.2" transform="translate(870.9,1469.0) scale(1.0,1)" font-size="21.9" text-anchor="middle" fill="#fff">C&gt;A</text>
<rect x="914.97" y="1452.40" width="92.8" height="17.35" fill="#000000"/>
<text class="b" stroke="#fff" stroke-width="0.2" transform="translate(962.9,1469.0) scale(1.0,1)" font-size="21.9" text-anchor="middle" fill="#fff">C&gt;G</text>
<rect x="1007.69" y="1452.40" width="92.8" height="17.35" fill="#FF2A0A"/>
<text class="b" stroke="#fff" stroke-width="0.2" transform="translate(1055.3,1469.0) scale(1.0,1)" font-size="21.9" text-anchor="middle" fill="#fff">C&gt;T</text>
<rect x="1100.41" y="1452.40" width="92.8" height="17.35" fill="#BEBEBE"/>
<text class="b" stroke="#000" stroke-width="0.2" transform="translate(1147.8,1469.0) scale(1.0,1)" font-size="21.9" text-anchor="middle" fill="#000">T&gt;A</text>
<rect x="1193.13" y="1452.40" width="92.8" height="17.35" fill="#14EE14"/>
<text class="b" stroke="#000" stroke-width="0.2" transform="translate(1239.5,1469.0) scale(1.0,1)" font-size="21.9" text-anchor="middle" fill="#000">T&gt;C</text>
<rect x="1285.85" y="1452.40" width="92.8" height="17.35" fill="#FFC0CB"/>
<text class="b" stroke="#000" stroke-width="0.2" transform="translate(1331.5,1469.0) scale(1.0,1)" font-size="21.9" text-anchor="middle" fill="#000">T&gt;G</text>
<text class="b" stroke="#000" stroke-width="0.2" transform="translate(1832.0,1217.4) scale(1.0,1)" font-size="26.65" text-anchor="middle" fill="#000">S15</text>
<text class="b" stroke="#000" stroke-width="0.2" transform="translate(1832.0,1249.4) scale(1.0,1)" font-size="26.65" text-anchor="middle" fill="#000">Ref.Sig.MMR1(0.81)</text>
<text class="b" stroke="#000" stroke-width="0.2" transform="translate(1832.0,1281.4) scale(1.0,1)" font-size="26.65" text-anchor="middle" fill="#000">Stomach_A(0.97)</text>
<text class="b" stroke="#000" stroke-width="0.2" transform="translate(1832.0,1313.4) scale(1.0,1)" font-size="26.65" text-anchor="middle" fill="#000">PCAWG SBS21(0.79)</text>
<text transform="translate(1505.8,1455.7) scale(1.0,1)" font-size="21.9" text-anchor="end" fill="#000">0.00</text>
<text transform="translate(1505.8,1426.0) scale(1.0,1)" font-size="21.9" text-anchor="end" fill="#000">0.02</text>
<text transform="translate(1505.8,1396.2) scale(1.0,1)" font-size="21.9" text-anchor="end" fill="#000">0.04</text>
<text transform="translate(1505.8,1366.6) scale(1.0,1)" font-size="21.9" text-anchor="end" fill="#000">0.06</text>
<text transform="translate(1505.8,1336.9) scale(1.0,1)" font-size="21.9" text-anchor="end" fill="#000">0.08</text>
<path d="M1533.1 1448.85V1327.95M1518.9 1447.80H1533.1M1518.9 1418.10H1533.1M1518.9 1388.40H1533.1M1518.9 1358.70H1533.1M1518.9 1329.00H1533.1" fill="none" stroke="#000" stroke-width="2.1"/>
<rect x="1560.20" y="1447.50" width="4.83" height="0.90" fill="#0A32FF"/>
<rect x="1566.00" y="1447.50" width="4.83" height="0.90" fill="#0A32FF"/>
<rect x="1571.80" y="1444.30" width="4.83" height="4.10" fill="#0A32FF"/>
<rect x="1577.60" y="1441.50" width="4.83" height="6.90" fill="#0A32FF"/>
<rect x="1583.39" y="1441.50" width="4.83" height="6.90" fill="#0A32FF"/>
<rect x="1589.19" y="1445.00" width="4.83" height="3.40" fill="#0A32FF"/>
<rect x="1594.99" y="1377.30" width="4.83" height="71.10" fill="#0A32FF"/>
<rect x="1600.79" y="1446.30" width="4.83" height="2.10" fill="#0A32FF"/>
<rect x="1606.59" y="1438.10" width="4.83" height="10.30" fill="#0A32FF"/>
<rect x="1612.39" y="1447.00" width="4.83" height="1.40" fill="#0A32FF"/>
<rect x="1618.19" y="1417.70" width="4.83" height="30.70" fill="#0A32FF"/>
<rect x="1629.79" y="1445.00" width="4.83" height="3.40" fill="#0A32FF"/>
<rect x="1641.38" y="1428.90" width="4.83" height="19.50" fill="#0A32FF"/>
<rect x="1652.98" y="1447.00" width="4.83" height="1.40" fill="#000000"/>
<rect x="1664.58" y="1447.20" width="4.83" height="1.20" fill="#000000"/>
<rect x="1687.78" y="1447.40" width="4.83" height="1.00" fill="#000000"/>
<rect x="1693.58" y="1446.60" width="4.83" height="1.80" fill="#000000"/>
<rect x="1699.38" y="1444.30" width="4.83" height="4.10" fill="#000000"/>
<rect x="1705.17" y="1447.50" width="4.83" height="0.90" fill="#000000"/>
<rect x="1722.57" y="1447.20" width="4.83" height="1.20" fill="#000000"/>
<rect x="1728.37" y="1447.30" width="4.83" height="1.10" fill="#000000"/>
<rect x="1734.17" y="1446.30" width="4.83" height="2.10" fill="#000000"/>
<rect x="1745.77" y="1434.30" width="4.83" height="14.10" fill="#FF2A0A"/>
<rect x="1763.16" y="1440.10" width="4.83" height="8.30" fill="#FF2A0A"/>
<rect x="1768.96" y="1424.30" width="4.83" height="24.10" fill="#FF2A0A"/>
<rect x="1774.76" y="1435.40" width="4.83" height="13.00" fill="#FF2A0A"/>
<rect x="1780.56" y="1433.50" width="4.83" height="14.90" fill="#FF2A0A"/>
<rect x="1786.36" y="1417.00" width="4.83" height="31.40" fill="#FF2A0A"/>
<rect x="1792.16" y="1363.80" width="4.83" height="84.60" fill="#FF2A0A"/>
<rect x="1797.96" y="1399.00" width="4.83" height="49.40" fill="#FF2A0A"/>
<rect x="1803.76" y="1408.70" width="4.83" height="39.70" fill="#FF2A0A"/>
<rect x="1809.56" y="1435.40" width="4.83" height="13.00" fill="#FF2A0A"/>
<rect x="1815.36" y="1427.90" width="4.83" height="20.50" fill="#FF2A0A"/>
<rect x="1821.15" y="1444.30" width="4.83" height="4.10" fill="#FF2A0A"/>
<rect x="1826.95" y="1425.10" width="4.83" height="23.30" fill="#FF2A0A"/>
<rect x="1832.75" y="1403.60" width="4.83" height="44.80" fill="#BEBEBE"/>
<rect x="1838.55" y="1382.50" width="4.83" height="65.90" fill="#BEBEBE"/>
<rect x="1844.35" y="1444.60" width="4.83" height="3.80" fill="#BEBEBE"/>
<rect x="1850.15" y="1410.80" width="4.83" height="37.60" fill="#BEBEBE"/>
<rect x="1855.95" y="1447.40" width="4.83" height="1.00" fill="#BEBEBE"/>
<rect x="1861.75" y="1440.10" width="4.83" height="8.30" fill="#BEBEBE"/>
<rect x="1879.14" y="1437.40" width="4.83" height="11.00" fill="#BEBEBE"/>
<rect x="1884.94" y="1409.80" width="4.83" height="38.60" fill="#BEBEBE"/>
<rect x="1890.74" y="1440.10" width="4.83" height="8.30" fill="#BEBEBE"/>
<rect x="1896.54" y="1436.30" width="4.83" height="12.10" fill="#BEBEBE"/>
<rect x="1902.34" y="1430.80" width="4.83" height="17.60" fill="#BEBEBE"/>
<rect x="1908.14" y="1437.40" width="4.83" height="11.00" fill="#BEBEBE"/>
<rect x="1919.74" y="1445.50" width="4.83" height="2.90" fill="#BEBEBE"/>
<rect x="1925.54" y="1403.60" width="4.83" height="44.80" fill="#14EE14"/>
<rect x="1931.33" y="1436.30" width="4.83" height="12.10" fill="#14EE14"/>
<rect x="1942.93" y="1419.30" width="4.83" height="29.10" fill="#14EE14"/>
<rect x="1948.73" y="1411.60" width="4.83" height="36.80" fill="#14EE14"/>
<rect x="1954.53" y="1443.50" width="4.83" height="4.90" fill="#14EE14"/>
<rect x="1960.33" y="1440.10" width="4.83" height="8.30" fill="#14EE14"/>
<rect x="1966.13" y="1424.30" width="4.83" height="24.10" fill="#14EE14"/>
<rect x="1971.93" y="1322.80" width="4.83" height="125.60" fill="#14EE14"/>
<rect x="1977.73" y="1403.30" width="4.83" height="45.10" fill="#14EE14"/>
<rect x="1983.53" y="1396.30" width="4.83" height="52.10" fill="#14EE14"/>
<rect x="1989.32" y="1341.10" width="4.83" height="107.30" fill="#14EE14"/>
<rect x="1995.12" y="1361.90" width="4.83" height="86.50" fill="#14EE14"/>
<rect x="2000.92" y="1405.90" width="4.83" height="42.50" fill="#14EE14"/>
<rect x="2006.72" y="1433.80" width="4.83" height="14.60" fill="#14EE14"/>
<rect x="2012.52" y="1390.30" width="4.83" height="58.10" fill="#14EE14"/>
<rect x="2024.12" y="1447.30" width="4.83" height="1.10" fill="#FFC0CB"/>
<rect x="2029.92" y="1447.50" width="4.83" height="0.90" fill="#FFC0CB"/>
<rect x="2035.72" y="1447.40" width="4.83" height="1.00" fill="#FFC0CB"/>
<rect x="2047.31" y="1447.40" width="4.83" height="1.00" fill="#FFC0CB"/>
<rect x="2064.71" y="1447.00" width="4.83" height="1.40" fill="#FFC0CB"/>
<rect x="2070.51" y="1446.30" width="4.83" height="2.10" fill="#FFC0CB"/>
<rect x="2076.31" y="1447.00" width="4.83" height="1.40" fill="#FFC0CB"/>
<rect x="2082.11" y="1435.10" width="4.83" height="13.30" fill="#FFC0CB"/>
<rect x="2093.71" y="1447.00" width="4.83" height="1.40" fill="#FFC0CB"/>
<rect x="2099.51" y="1447.20" width="4.83" height="1.20" fill="#FFC0CB"/>
<rect x="1553.80" y="1452.40" width="92.8" height="17.35" fill="#0A32FF"/>
<text class="b" stroke="#fff" stroke-width="0.2" transform="translate(1602.5,1469.0) scale(1.0,1)" font-size="21.9" text-anchor="middle" fill="#fff">C&gt;A</text>
<rect x="1646.52" y="1452.40" width="92.8" height="17.35" fill="#000000"/>
<text class="b" stroke="#fff" stroke-width="0.2" transform="translate(1694.4,1469.0) scale(1.0,1)" font-size="21.9" text-anchor="middle" fill="#fff">C&gt;G</text>
<rect x="1739.24" y="1452.40" width="92.8" height="17.35" fill="#FF2A0A"/>
<text class="b" stroke="#fff" stroke-width="0.2" transform="translate(1786.8,1469.0) scale(1.0,1)" font-size="21.9" text-anchor="middle" fill="#fff">C&gt;T</text>
<rect x="1831.96" y="1452.40" width="92.8" height="17.35" fill="#BEBEBE"/>
<text class="b" stroke="#000" stroke-width="0.2" transform="translate(1879.4,1469.0) scale(1.0,1)" font-size="21.9" text-anchor="middle" fill="#000">T&gt;A</text>
<rect x="1924.68" y="1452.40" width="92.8" height="17.35" fill="#14EE14"/>
<text class="b" stroke="#000" stroke-width="0.2" transform="translate(1971.1,1469.0) scale(1.0,1)" font-size="21.9" text-anchor="middle" fill="#000">T&gt;C</text>
<rect x="2017.40" y="1452.40" width="92.8" height="17.35" fill="#FFC0CB"/>
<text class="b" stroke="#000" stroke-width="0.2" transform="translate(2063.0,1469.0) scale(1.0,1)" font-size="21.9" text-anchor="middle" fill="#000">T&gt;G</text>
<text class="b" stroke="#000" stroke-width="0.2" transform="translate(368.9,1503.3) scale(1.0,1)" font-size="26.65" text-anchor="middle" fill="#000">S16</text>
<text class="b" stroke="#000" stroke-width="0.2" transform="translate(368.9,1535.3) scale(1.0,1)" font-size="26.65" text-anchor="middle" fill="#000">Ref.Sig.MMR1(0.81)</text>
<text class="b" stroke="#000" stroke-width="0.2" transform="translate(368.9,1567.3) scale(1.0,1)" font-size="26.65" text-anchor="middle" fill="#000">Uterus_C(0.92)</text>
<text class="b" stroke="#000" stroke-width="0.2" transform="translate(368.9,1599.3) scale(1.0,1)" font-size="26.65" text-anchor="middle" fill="#000">PCAWG SBS44(0.92)</text>
<text transform="translate(42.7,1741.7) scale(1.0,1)" font-size="21.9" text-anchor="end" fill="#000">0.00</text>
<text transform="translate(42.7,1718.9) scale(1.0,1)" font-size="21.9" text-anchor="end" fill="#000">0.02</text>
<text transform="translate(42.7,1696.1) scale(1.0,1)" font-size="21.9" text-anchor="end" fill="#000">0.04</text>
<text transform="translate(42.7,1673.4) scale(1.0,1)" font-size="21.9" text-anchor="end" fill="#000">0.06</text>
<text transform="translate(42.7,1650.6) scale(1.0,1)" font-size="21.9" text-anchor="end" fill="#000">0.08</text>
<text transform="translate(42.7,1627.8) scale(1.0,1)" font-size="21.9" text-anchor="end" fill="#000">0.10</text>
<path d="M70.0 1734.90V1618.90M55.8 1733.85H70.0M55.8 1711.07H70.0M55.8 1688.29H70.0M55.8 1665.51H70.0M55.8 1642.73H70.0M55.8 1619.95H70.0" fill="none" stroke="#000" stroke-width="2.1"/>
<rect x="97.10" y="1730.25" width="4.83" height="4.20" fill="#0A32FF"/>
<rect x="108.70" y="1728.65" width="4.83" height="5.80" fill="#0A32FF"/>
<rect x="120.30" y="1706.95" width="4.83" height="27.50" fill="#0A32FF"/>
<rect x="126.09" y="1732.25" width="4.83" height="2.20" fill="#0A32FF"/>
<rect x="131.89" y="1658.15" width="4.83" height="76.30" fill="#0A32FF"/>
<rect x="137.69" y="1732.25" width="4.83" height="2.20" fill="#0A32FF"/>
<rect x="143.49" y="1729.45" width="4.83" height="5.00" fill="#0A32FF"/>
<rect x="149.29" y="1733.05" width="4.83" height="1.40" fill="#0A32FF"/>
<rect x="155.09" y="1725.15" width="4.83" height="9.30" fill="#0A32FF"/>
<rect x="166.69" y="1732.25" width="4.83" height="2.20" fill="#0A32FF"/>
<rect x="178.28" y="1723.35" width="4.83" height="11.10" fill="#0A32FF"/>
<rect x="184.08" y="1731.45" width="4.83" height="3.00" fill="#000000"/>
<rect x="189.88" y="1732.85" width="4.83" height="1.60" fill="#000000"/>
<rect x="201.48" y="1733.25" width="4.83" height="1.20" fill="#000000"/>
<rect x="230.48" y="1733.05" width="4.83" height="1.40" fill="#000000"/>
<rect x="236.28" y="1732.25" width="4.83" height="2.20" fill="#000000"/>
<rect x="247.87" y="1731.45" width="4.83" height="3.00" fill="#000000"/>
<rect x="253.67" y="1733.05" width="4.83" height="1.40" fill="#000000"/>
<rect x="276.87" y="1611.85" width="4.83" height="122.60" fill="#FF2A0A"/>
<rect x="282.67" y="1708.75" width="4.83" height="25.70" fill="#FF2A0A"/>
<rect x="288.47" y="1677.65" width="4.83" height="56.80" fill="#FF2A0A"/>
<rect x="294.26" y="1697.55" width="4.83" height="36.90" fill="#FF2A0A"/>
<rect x="300.06" y="1721.35" width="4.83" height="13.10" fill="#FF2A0A"/>
<rect x="305.86" y="1733.55" width="4.83" height="0.90" fill="#FF2A0A"/>
<rect x="311.66" y="1687.65" width="4.83" height="46.80" fill="#FF2A0A"/>
<rect x="317.46" y="1727.95" width="4.83" height="6.50" fill="#FF2A0A"/>
<rect x="323.26" y="1610.85" width="4.83" height="123.60" fill="#FF2A0A"/>
<rect x="329.06" y="1609.05" width="4.83" height="125.40" fill="#FF2A0A"/>
<rect x="334.86" y="1638.25" width="4.83" height="96.20" fill="#FF2A0A"/>
<rect x="340.66" y="1631.05" width="4.83" height="103.40" fill="#FF2A0A"/>
<rect x="346.46" y="1716.15" width="4.83" height="18.30" fill="#FF2A0A"/>
<rect x="352.26" y="1727.95" width="4.83" height="6.50" fill="#FF2A0A"/>
<rect x="358.05" y="1714.45" width="4.83" height="20.00" fill="#FF2A0A"/>
<rect x="363.85" y="1727.95" width="4.83" height="6.50" fill="#FF2A0A"/>
<rect x="375.45" y="1732.85" width="4.83" height="1.60" fill="#BEBEBE"/>
<rect x="381.25" y="1732.85" width="4.83" height="1.60" fill="#BEBEBE"/>
<rect x="387.05" y="1710.55" width="4.83" height="23.90" fill="#BEBEBE"/>
<rect x="398.65" y="1730.05" width="4.83" height="4.40" fill="#BEBEBE"/>
<rect x="404.45" y="1733.55" width="4.83" height="0.90" fill="#BEBEBE"/>
<rect x="421.84" y="1733.05" width="4.83" height="1.40" fill="#BEBEBE"/>
<rect x="433.44" y="1732.65" width="4.83" height="1.80" fill="#BEBEBE"/>
<rect x="439.24" y="1728.65" width="4.83" height="5.80" fill="#BEBEBE"/>
<rect x="456.64" y="1732.65" width="4.83" height="1.80" fill="#BEBEBE"/>
<rect x="462.44" y="1730.45" width="4.83" height="4.00" fill="#14EE14"/>
<rect x="468.24" y="1725.85" width="4.83" height="8.60" fill="#14EE14"/>
<rect x="474.03" y="1725.15" width="4.83" height="9.30" fill="#14EE14"/>
<rect x="479.83" y="1732.45" width="4.83" height="2.00" fill="#14EE14"/>
<rect x="491.43" y="1728.65" width="4.83" height="5.80" fill="#14EE14"/>
<rect x="497.23" y="1722.35" width="4.83" height="12.10" fill="#14EE14"/>
<rect x="508.83" y="1717.15" width="4.83" height="17.30" fill="#14EE14"/>
<rect x="514.63" y="1721.45" width="4.83" height="13.00" fill="#14EE14"/>
<rect x="520.43" y="1732.45" width="4.83" height="2.00" fill="#14EE14"/>
<rect x="532.02" y="1724.35" width="4.83" height="10.10" fill="#14EE14"/>
<rect x="537.82" y="1719.75" width="4.83" height="14.70" fill="#14EE14"/>
<rect x="549.42" y="1718.65" width="4.83" height="15.80" fill="#14EE14"/>
<rect x="584.22" y="1733.45" width="4.83" height="1.00" fill="#FFC0CB"/>
<rect x="590.01" y="1733.05" width="4.83" height="1.40" fill="#FFC0CB"/>
<rect x="595.81" y="1733.45" width="4.83" height="1.00" fill="#FFC0CB"/>
<rect x="624.81" y="1733.55" width="4.83" height="0.90" fill="#FFC0CB"/>
<rect x="90.70" y="1738.45" width="92.8" height="17.35" fill="#0A32FF"/>
<text class="b" stroke="#fff" stroke-width="0.2" transform="translate(139.4,1755.0) scale(1.0,1)" font-size="21.9" text-anchor="middle" fill="#fff">C&gt;A</text>
<rect x="183.42" y="1738.45" width="92.8" height="17.35" fill="#000000"/>
<text class="b" stroke="#fff" stroke-width="0.2" transform="translate(231.3,1755.0) scale(1.0,1)" font-size="21.9" text-anchor="middle" fill="#fff">C&gt;G</text>
<rect x="276.14" y="1738.45" width="92.8" height="17.35" fill="#FF2A0A"/>
<text class="b" stroke="#fff" stroke-width="0.2" transform="translate(323.7,1755.0) scale(1.0,1)" font-size="21.9" text-anchor="middle" fill="#fff">C&gt;T</text>
<rect x="368.86" y="1738.45" width="92.8" height="17.35" fill="#BEBEBE"/>
<text class="b" stroke="#000" stroke-width="0.2" transform="translate(416.3,1755.0) scale(1.0,1)" font-size="21.9" text-anchor="middle" fill="#000">T&gt;A</text>
<rect x="461.58" y="1738.45" width="92.8" height="17.35" fill="#14EE14"/>
<text class="b" stroke="#000" stroke-width="0.2" transform="translate(508.0,1755.0) scale(1.0,1)" font-size="21.9" text-anchor="middle" fill="#000">T&gt;C</text>
<rect x="554.30" y="1738.45" width="92.8" height="17.35" fill="#FFC0CB"/>
<text class="b" stroke="#000" stroke-width="0.2" transform="translate(599.9,1755.0) scale(1.0,1)" font-size="21.9" text-anchor="middle" fill="#000">T&gt;G</text>
<text class="b" stroke="#000" stroke-width="0.2" transform="translate(1100.5,1503.3) scale(1.0,1)" font-size="26.65" text-anchor="middle" fill="#000">S17</text>
<text class="b" stroke="#000" stroke-width="0.2" transform="translate(1100.5,1535.3) scale(1.0,1)" font-size="26.65" text-anchor="middle" fill="#000">Ref.Sig.8(0.72)</text>
<text class="b" stroke="#000" stroke-width="0.2" transform="translate(1100.5,1567.3) scale(1.0,1)" font-size="26.65" text-anchor="middle" fill="#000">Ovary_E(0.79)</text>
<text class="b" stroke="#000" stroke-width="0.2" transform="translate(1100.5,1599.3) scale(1.0,1)" font-size="26.65" text-anchor="middle" fill="#000">PCAWG SBS32(0.66)</text>
<text transform="translate(774.2,1741.7) scale(1.0,1)" font-size="21.9" text-anchor="end" fill="#000">0.00</text>
<text transform="translate(774.2,1724.0) scale(1.0,1)" font-size="21.9" text-anchor="end" fill="#000">0.01</text>
<text transform="translate(774.2,1706.2) scale(1.0,1)" font-size="21.9" text-anchor="end" fill="#000">0.02</text>
<text transform="translate(774.2,1688.5) scale(1.0,1)" font-size="21.9" text-anchor="end" fill="#000">0.03</text>
<text transform="translate(774.2,1670.8) scale(1.0,1)" font-size="21.9" text-anchor="end" fill="#000">0.04</text>
<text transform="translate(774.2,1653.1) scale(1.0,1)" font-size="21.9" text-anchor="end" fill="#000">0.05</text>
<text transform="translate(774.2,1635.3) scale(1.0,1)" font-size="21.9" text-anchor="end" fill="#000">0.06</text>
<text transform="translate(774.2,1617.6) scale(1.0,1)" font-size="21.9" text-anchor="end" fill="#000">0.07</text>
<path d="M801.5 1734.90V1608.70M787.4 1733.85H801.5M787.4 1716.12H801.5M787.4 1698.39H801.5M787.4 1680.66H801.5M787.4 1662.94H801.5M787.4 1645.21H801.5M787.4 1627.48H801.5M787.4 1609.75H801.5" fill="none" stroke="#000" stroke-width="2.1"/>
<rect x="822.85" y="1608.85" width="4.83" height="125.60" fill="#0A32FF"/>
<rect x="828.65" y="1679.35" width="4.83" height="55.10" fill="#0A32FF"/>
<rect x="834.45" y="1721.35" width="4.83" height="13.10" fill="#0A32FF"/>
<rect x="840.25" y="1646.65" width="4.83" height="87.80" fill="#0A32FF"/>
<rect x="846.05" y="1681.15" width="4.83" height="53.30" fill="#0A32FF"/>
<rect x="851.85" y="1727.95" width="4.83" height="6.50" fill="#0A32FF"/>
<rect x="857.64" y="1732.25" width="4.83" height="2.20" fill="#0A32FF"/>
<rect x="869.24" y="1679.35" width="4.83" height="55.10" fill="#0A32FF"/>
<rect x="880.84" y="1732.25" width="4.83" height="2.20" fill="#0A32FF"/>
<rect x="886.64" y="1708.75" width="4.83" height="25.70" fill="#0A32FF"/>
<rect x="892.44" y="1724.05" width="4.83" height="10.40" fill="#0A32FF"/>
<rect x="898.24" y="1732.25" width="4.83" height="2.20" fill="#0A32FF"/>
<rect x="915.63" y="1694.15" width="4.83" height="40.30" fill="#000000"/>
<rect x="921.43" y="1724.05" width="4.83" height="10.40" fill="#000000"/>
<rect x="927.23" y="1728.65" width="4.83" height="5.80" fill="#000000"/>
<rect x="933.03" y="1717.65" width="4.83" height="16.80" fill="#000000"/>
<rect x="938.83" y="1726.05" width="4.83" height="8.40" fill="#000000"/>
<rect x="944.63" y="1730.25" width="4.83" height="4.20" fill="#000000"/>
<rect x="962.03" y="1722.25" width="4.83" height="12.20" fill="#000000"/>
<rect x="973.62" y="1732.25" width="4.83" height="2.20" fill="#000000"/>
<rect x="979.42" y="1726.85" width="4.83" height="7.60" fill="#000000"/>
<rect x="985.22" y="1732.25" width="4.83" height="2.20" fill="#000000"/>
<rect x="991.02" y="1729.45" width="4.83" height="5.00" fill="#000000"/>
<rect x="996.82" y="1733.05" width="4.83" height="1.40" fill="#000000"/>
<rect x="1008.42" y="1611.65" width="4.83" height="122.80" fill="#FF2A0A"/>
<rect x="1014.22" y="1685.75" width="4.83" height="48.70" fill="#FF2A0A"/>
<rect x="1020.02" y="1657.35" width="4.83" height="77.10" fill="#FF2A0A"/>
<rect x="1025.82" y="1634.35" width="4.83" height="100.10" fill="#FF2A0A"/>
<rect x="1031.61" y="1688.35" width="4.83" height="46.10" fill="#FF2A0A"/>
<rect x="1043.21" y="1711.35" width="4.83" height="23.10" fill="#FF2A0A"/>
<rect x="1049.01" y="1690.35" width="4.83" height="44.10" fill="#FF2A0A"/>
<rect x="1054.81" y="1693.15" width="4.83" height="41.30" fill="#FF2A0A"/>
<rect x="1060.61" y="1713.05" width="4.83" height="21.40" fill="#FF2A0A"/>
<rect x="1066.41" y="1733.35" width="4.83" height="1.10" fill="#FF2A0A"/>
<rect x="1072.21" y="1683.95" width="4.83" height="50.50" fill="#FF2A0A"/>
<rect x="1078.01" y="1729.45" width="4.83" height="5.00" fill="#FF2A0A"/>
<rect x="1083.81" y="1711.35" width="4.83" height="23.10" fill="#FF2A0A"/>
<rect x="1089.60" y="1721.35" width="4.83" height="13.10" fill="#FF2A0A"/>
<rect x="1095.40" y="1711.35" width="4.83" height="23.10" fill="#FF2A0A"/>
<rect x="1101.20" y="1704.25" width="4.83" height="30.20" fill="#BEBEBE"/>
<rect x="1107.00" y="1710.45" width="4.83" height="24.00" fill="#BEBEBE"/>
<rect x="1112.80" y="1684.05" width="4.83" height="50.40" fill="#BEBEBE"/>
<rect x="1118.60" y="1705.05" width="4.83" height="29.40" fill="#BEBEBE"/>
<rect x="1130.20" y="1730.65" width="4.83" height="3.80" fill="#BEBEBE"/>
<rect x="1136.00" y="1733.45" width="4.83" height="1.00" fill="#BEBEBE"/>
<rect x="1141.80" y="1704.25" width="4.83" height="30.20" fill="#BEBEBE"/>
<rect x="1147.59" y="1710.45" width="4.83" height="24.00" fill="#BEBEBE"/>
<rect x="1153.39" y="1721.45" width="4.83" height="13.00" fill="#BEBEBE"/>
<rect x="1159.19" y="1707.05" width="4.83" height="27.40" fill="#BEBEBE"/>
<rect x="1164.99" y="1683.25" width="4.83" height="51.20" fill="#BEBEBE"/>
<rect x="1176.59" y="1726.05" width="4.83" height="8.40" fill="#BEBEBE"/>
<rect x="1182.39" y="1721.45" width="4.83" height="13.00" fill="#BEBEBE"/>
<rect x="1188.19" y="1672.05" width="4.83" height="62.40" fill="#BEBEBE"/>
<rect x="1199.79" y="1723.15" width="4.83" height="11.30" fill="#14EE14"/>
<rect x="1205.58" y="1723.15" width="4.83" height="11.30" fill="#14EE14"/>
<rect x="1211.38" y="1699.35" width="4.83" height="35.10" fill="#14EE14"/>
<rect x="1222.98" y="1719.65" width="4.83" height="14.80" fill="#14EE14"/>
<rect x="1251.98" y="1732.65" width="4.83" height="1.80" fill="#14EE14"/>
<rect x="1257.78" y="1716.05" width="4.83" height="18.40" fill="#14EE14"/>
<rect x="1269.37" y="1728.85" width="4.83" height="5.60" fill="#14EE14"/>
<rect x="1275.17" y="1733.45" width="4.83" height="1.00" fill="#14EE14"/>
<rect x="1280.97" y="1721.45" width="4.83" height="13.00" fill="#14EE14"/>
<rect x="1286.77" y="1721.45" width="4.83" height="13.00" fill="#FFC0CB"/>
<rect x="1298.37" y="1713.85" width="4.83" height="20.60" fill="#FFC0CB"/>
<rect x="1321.56" y="1728.85" width="4.83" height="5.60" fill="#FFC0CB"/>
<rect x="1333.16" y="1726.95" width="4.83" height="7.50" fill="#FFC0CB"/>
<rect x="1338.96" y="1733.45" width="4.83" height="1.00" fill="#FFC0CB"/>
<rect x="1344.76" y="1700.15" width="4.83" height="34.30" fill="#FFC0CB"/>
<rect x="1350.56" y="1730.35" width="4.83" height="4.10" fill="#FFC0CB"/>
<rect x="1362.16" y="1733.15" width="4.83" height="1.30" fill="#FFC0CB"/>
<rect x="1367.96" y="1715.05" width="4.83" height="19.40" fill="#FFC0CB"/>
<rect x="822.25" y="1738.45" width="92.8" height="17.35" fill="#0A32FF"/>
<text class="b" stroke="#fff" stroke-width="0.2" transform="translate(870.9,1755.0) scale(1.0,1)" font-size="21.9" text-anchor="middle" fill="#fff">C&gt;A</text>
<rect x="914.97" y="1738.45" width="92.8" height="17.35" fill="#000000"/>
<text class="b" stroke="#fff" stroke-width="0.2" transform="translate(962.9,1755.0) scale(1.0,1)" font-size="21.9" text-anchor="middle" fill="#fff">C&gt;G</text>
<rect x="1007.69" y="1738.45" width="92.8" height="17.35" fill="#FF2A0A"/>
<text class="b" stroke="#fff" stroke-width="0.2" transform="translate(1055.3,1755.0) scale(1.0,1)" font-size="21.9" text-anchor="middle" fill="#fff">C&gt;T</text>
<rect x="1100.41" y="1738.45" width="92.8" height="17.35" fill="#BEBEBE"/>
<text class="b" stroke="#000" stroke-width="0.2" transform="translate(1147.8,1755.0) scale(1.0,1)" font-size="21.9" text-anchor="middle" fill="#000">T&gt;A</text>
<rect x="1193.13" y="1738.45" width="92.8" height="17.35" fill="#14EE14"/>
<text class="b" stroke="#000" stroke-width="0.2" transform="translate(1239.5,1755.0) scale(1.0,1)" font-size="21.9" text-anchor="middle" fill="#000">T&gt;C</text>
<rect x="1285.85" y="1738.45" width="92.8" height="17.35" fill="#FFC0CB"/>
<text class="b" stroke="#000" stroke-width="0.2" transform="translate(1331.5,1755.0) scale(1.0,1)" font-size="21.9" text-anchor="middle" fill="#000">T&gt;G</text>
<text class="b" stroke="#000" stroke-width="0.2" transform="translate(1832.0,1503.3) scale(1.0,1)" font-size="26.65" text-anchor="middle" fill="#000">S18</text>
<text class="b" stroke="#000" stroke-width="0.2" transform="translate(1832.0,1535.3) scale(1.0,1)" font-size="26.65" text-anchor="middle" fill="#000">Ref.Sig.1(0.95)</text>
<text class="b" stroke="#000" stroke-width="0.2" transform="translate(1832.0,1567.3) scale(1.0,1)" font-size="26.65" text-anchor="middle" fill="#000">Pancreas_F(0.99)</text>
<text class="b" stroke="#000" stroke-width="0.2" transform="translate(1832.0,1599.3) scale(1.0,1)" font-size="26.65" text-anchor="middle" fill="#000">PCAWG SBS1(1.00)</text>
<text transform="translate(1505.8,1741.7) scale(1.0,1)" font-size="21.9" text-anchor="end" fill="#000">0.00</text>
<text transform="translate(1505.8,1722.1) scale(1.0,1)" font-size="21.9" text-anchor="end" fill="#000">0.05</text>
<text transform="translate(1505.8,1702.5) scale(1.0,1)" font-size="21.9" text-anchor="end" fill="#000">0.10</text>
<text transform="translate(1505.8,1682.9) scale(1.0,1)" font-size="21.9" text-anchor="end" fill="#000">0.15</text>
<text transform="translate(1505.8,1663.4) scale(1.0,1)" font-size="21.9" text-anchor="end" fill="#000">0.20</text>
<text transform="translate(1505.8,1643.8) scale(1.0,1)" font-size="21.9" text-anchor="end" fill="#000">0.25</text>
<text transform="translate(1505.8,1624.2) scale(1.0,1)" font-size="21.9" text-anchor="end" fill="#000">0.30</text>
<path d="M1533.1 1734.90V1615.30M1518.9 1733.85H1533.1M1518.9 1714.27H1533.1M1518.9 1694.68H1533.1M1518.9 1675.10H1533.1M1518.9 1655.52H1533.1M1518.9 1635.93H1533.1M1518.9 1616.35H1533.1" fill="none" stroke="#000" stroke-width="2.1"/>
<rect x="1554.40" y="1730.55" width="4.83" height="3.90" fill="#0A32FF"/>
<rect x="1560.20" y="1730.55" width="4.83" height="3.90" fill="#0A32FF"/>
<rect x="1571.80" y="1732.55" width="4.83" height="1.90" fill="#0A32FF"/>
<rect x="1600.79" y="1732.35" width="4.83" height="2.10" fill="#0A32FF"/>
<rect x="1612.39" y="1733.55" width="4.83" height="0.90" fill="#0A32FF"/>
<rect x="1618.19" y="1733.55" width="4.83" height="0.90" fill="#0A32FF"/>
<rect x="1629.79" y="1731.85" width="4.83" height="2.60" fill="#0A32FF"/>
<rect x="1635.59" y="1733.05" width="4.83" height="1.40" fill="#0A32FF"/>
<rect x="1647.18" y="1733.05" width="4.83" height="1.40" fill="#000000"/>
<rect x="1652.98" y="1733.05" width="4.83" height="1.40" fill="#000000"/>
<rect x="1658.78" y="1733.55" width="4.83" height="0.90" fill="#000000"/>
<rect x="1664.58" y="1733.25" width="4.83" height="1.20" fill="#000000"/>
<rect x="1681.98" y="1733.55" width="4.83" height="0.90" fill="#000000"/>
<rect x="1699.38" y="1733.55" width="4.83" height="0.90" fill="#000000"/>
<rect x="1734.17" y="1732.25" width="4.83" height="2.20" fill="#000000"/>
<rect x="1739.97" y="1728.65" width="4.83" height="5.80" fill="#FF2A0A"/>
<rect x="1745.77" y="1733.25" width="4.83" height="1.20" fill="#FF2A0A"/>
<rect x="1751.57" y="1608.85" width="4.83" height="125.60" fill="#FF2A0A"/>
<rect x="1757.36" y="1732.25" width="4.83" height="2.20" fill="#FF2A0A"/>
<rect x="1763.16" y="1733.05" width="4.83" height="1.40" fill="#FF2A0A"/>
<rect x="1768.96" y="1730.95" width="4.83" height="3.50" fill="#FF2A0A"/>
<rect x="1774.76" y="1666.55" width="4.83" height="67.90" fill="#FF2A0A"/>
<rect x="1786.36" y="1733.35" width="4.83" height="1.10" fill="#FF2A0A"/>
<rect x="1792.16" y="1730.95" width="4.83" height="3.50" fill="#FF2A0A"/>
<rect x="1797.96" y="1648.95" width="4.83" height="85.50" fill="#FF2A0A"/>
<rect x="1809.56" y="1733.25" width="4.83" height="1.20" fill="#FF2A0A"/>
<rect x="1815.36" y="1730.95" width="4.83" height="3.50" fill="#FF2A0A"/>
<rect x="1821.15" y="1683.95" width="4.83" height="50.50" fill="#FF2A0A"/>
<rect x="1826.95" y="1733.25" width="4.83" height="1.20" fill="#FF2A0A"/>
<rect x="1838.55" y="1733.45" width="4.83" height="1.00" fill="#BEBEBE"/>
<rect x="1844.35" y="1733.45" width="4.83" height="1.00" fill="#BEBEBE"/>
<rect x="1850.15" y="1733.55" width="4.83" height="0.90" fill="#BEBEBE"/>
<rect x="1855.95" y="1733.55" width="4.83" height="0.90" fill="#BEBEBE"/>
<rect x="1873.34" y="1733.55" width="4.83" height="0.90" fill="#BEBEBE"/>
<rect x="1902.34" y="1732.65" width="4.83" height="1.80" fill="#BEBEBE"/>
<rect x="1925.54" y="1733.45" width="4.83" height="1.00" fill="#14EE14"/>
<rect x="1931.33" y="1733.45" width="4.83" height="1.00" fill="#14EE14"/>
<rect x="1942.93" y="1729.85" width="4.83" height="4.60" fill="#14EE14"/>
<rect x="1954.53" y="1733.45" width="4.83" height="1.00" fill="#14EE14"/>
<rect x="1971.93" y="1733.35" width="4.83" height="1.10" fill="#14EE14"/>
<rect x="1977.73" y="1732.85" width="4.83" height="1.60" fill="#14EE14"/>
<rect x="1983.53" y="1733.25" width="4.83" height="1.20" fill="#14EE14"/>
<rect x="1989.32" y="1733.45" width="4.83" height="1.00" fill="#14EE14"/>
<rect x="2000.92" y="1733.45" width="4.83" height="1.00" fill="#14EE14"/>
<rect x="2006.72" y="1733.45" width="4.83" height="1.00" fill="#14EE14"/>
<rect x="2012.52" y="1733.55" width="4.83" height="0.90" fill="#14EE14"/>
<rect x="2029.92" y="1733.65" width="4.83" height="0.80" fill="#FFC0CB"/>
<rect x="2099.51" y="1733.55" width="4.83" height="0.90" fill="#FFC0CB"/>
<rect x="2105.30" y="1733.55" width="4.83" height="0.90" fill="#FFC0CB"/>
<rect x="1553.80" y="1738.45" width="92.8" height="17.35" fill="#0A32FF"/>
<text class="b" stroke="#fff" stroke-width="0.2" transform="translate(1602.5,1755.0) scale(1.0,1)" font-size="21.9" text-anchor="middle" fill="#fff">C&gt;A</text>
<rect x="1646.52" y="1738.45" width="92.8" height="17.35" fill="#000000"/>
<text class="b" stroke="#fff" stroke-width="0.2" transform="translate(1694.4,1755.0) scale(1.0,1)" font-size="21.9" text-anchor="middle" fill="#fff">C&gt;G</text>
<rect x="1739.24" y="1738.45" width="92.8" height="17.35" fill="#FF2A0A"/>
<text class="b" stroke="#fff" stroke-width="0.2" transform="translate(1786.8,1755.0) scale(1.0,1)" font-size="21.9" text-anchor="middle" fill="#fff">C&gt;T</text>
<rect x="1831.96" y="1738.45" width="92.8" height="17.35" fill="#BEBEBE"/>
<text class="b" stroke="#000" stroke-width="0.2" transform="translate(1879.4,1755.0) scale(1.0,1)" font-size="21.9" text-anchor="middle" fill="#000">T&gt;A</text>
<rect x="1924.68" y="1738.45" width="92.8" height="17.35" fill="#14EE14"/>
<text class="b" stroke="#000" stroke-width="0.2" transform="translate(1971.1,1755.0) scale(1.0,1)" font-size="21.9" text-anchor="middle" fill="#000">T&gt;C</text>
<rect x="2017.40" y="1738.45" width="92.8" height="17.35" fill="#FFC0CB"/>
<text class="b" stroke="#000" stroke-width="0.2" transform="translate(2063.0,1755.0) scale(1.0,1)" font-size="21.9" text-anchor="middle" fill="#000">T&gt;G</text>
<text class="b" stroke="#000" stroke-width="0.2" transform="translate(368.9,1789.2) scale(1.0,1)" font-size="26.65" text-anchor="middle" fill="#000">S19</text>
<text class="b" stroke="#000" stroke-width="0.2" transform="translate(368.9,1821.2) scale(1.0,1)" font-size="26.65" text-anchor="middle" fill="#000">Ref.Sig.17(0.92)</text>
<text class="b" stroke="#000" stroke-width="0.2" transform="translate(368.9,1853.2) scale(1.0,1)" font-size="26.65" text-anchor="middle" fill="#000">Esophagus_D(1.00)</text>
<text class="b" stroke="#000" stroke-width="0.2" transform="translate(368.9,1885.2) scale(1.0,1)" font-size="26.65" text-anchor="middle" fill="#000">PCAWG SBS17b(0.99)</text>
<text transform="translate(42.7,2027.8) scale(1.0,1)" font-size="21.9" text-anchor="end" fill="#000">0.0</text>
<text transform="translate(42.7,2002.7) scale(1.0,1)" font-size="21.9" text-anchor="end" fill="#000">0.1</text>
<text transform="translate(42.7,1977.6) scale(1.0,1)" font-size="21.9" text-anchor="end" fill="#000">0.2</text>
<text transform="translate(42.7,1952.6) scale(1.0,1)" font-size="21.9" text-anchor="end" fill="#000">0.3</text>
<text transform="translate(42.7,1927.5) scale(1.0,1)" font-size="21.9" text-anchor="end" fill="#000">0.4</text>
<text transform="translate(42.7,1902.5) scale(1.0,1)" font-size="21.9" text-anchor="end" fill="#000">0.5</text>
<path d="M70.0 2020.95V1893.55M55.8 2019.90H70.0M55.8 1994.84H70.0M55.8 1969.78H70.0M55.8 1944.72H70.0M55.8 1919.66H70.0M55.8 1894.60H70.0" fill="none" stroke="#000" stroke-width="2.1"/>
<rect x="91.30" y="2019.20" width="4.83" height="1.30" fill="#0A32FF"/>
<rect x="108.70" y="2019.20" width="4.83" height="1.30" fill="#0A32FF"/>
<rect x="137.69" y="2019.30" width="4.83" height="1.20" fill="#0A32FF"/>
<rect x="155.09" y="2019.30" width="4.83" height="1.20" fill="#0A32FF"/>
<rect x="178.28" y="2019.20" width="4.83" height="1.30" fill="#0A32FF"/>
<rect x="201.48" y="2019.20" width="4.83" height="1.30" fill="#000000"/>
<rect x="224.68" y="2019.20" width="4.83" height="1.30" fill="#000000"/>
<rect x="271.07" y="2018.40" width="4.83" height="2.10" fill="#000000"/>
<rect x="288.47" y="2019.40" width="4.83" height="1.10" fill="#FF2A0A"/>
<rect x="300.06" y="2019.40" width="4.83" height="1.10" fill="#FF2A0A"/>
<rect x="311.66" y="2019.40" width="4.83" height="1.10" fill="#FF2A0A"/>
<rect x="329.06" y="2019.40" width="4.83" height="1.10" fill="#FF2A0A"/>
<rect x="334.86" y="2018.90" width="4.83" height="1.60" fill="#FF2A0A"/>
<rect x="340.66" y="2019.20" width="4.83" height="1.30" fill="#FF2A0A"/>
<rect x="346.46" y="2019.20" width="4.83" height="1.30" fill="#FF2A0A"/>
<rect x="352.26" y="2019.20" width="4.83" height="1.30" fill="#FF2A0A"/>
<rect x="358.05" y="2019.20" width="4.83" height="1.30" fill="#FF2A0A"/>
<rect x="363.85" y="2019.20" width="4.83" height="1.30" fill="#FF2A0A"/>
<rect x="375.45" y="2019.50" width="4.83" height="1.00" fill="#BEBEBE"/>
<rect x="387.05" y="2019.50" width="4.83" height="1.00" fill="#BEBEBE"/>
<rect x="398.65" y="2018.70" width="4.83" height="1.80" fill="#BEBEBE"/>
<rect x="410.25" y="2013.20" width="4.83" height="7.30" fill="#BEBEBE"/>
<rect x="421.84" y="2019.50" width="4.83" height="1.00" fill="#BEBEBE"/>
<rect x="433.44" y="2019.10" width="4.83" height="1.40" fill="#BEBEBE"/>
<rect x="439.24" y="2019.40" width="4.83" height="1.10" fill="#BEBEBE"/>
<rect x="456.64" y="2019.50" width="4.83" height="1.00" fill="#BEBEBE"/>
<rect x="462.44" y="2019.50" width="4.83" height="1.00" fill="#14EE14"/>
<rect x="491.43" y="2017.00" width="4.83" height="3.50" fill="#14EE14"/>
<rect x="497.23" y="2018.90" width="4.83" height="1.60" fill="#14EE14"/>
<rect x="503.03" y="2002.10" width="4.83" height="18.40" fill="#14EE14"/>
<rect x="514.63" y="2019.40" width="4.83" height="1.10" fill="#14EE14"/>
<rect x="520.43" y="2019.10" width="4.83" height="1.40" fill="#14EE14"/>
<rect x="526.23" y="2018.60" width="4.83" height="1.90" fill="#14EE14"/>
<rect x="532.02" y="2018.60" width="4.83" height="1.90" fill="#14EE14"/>
<rect x="543.62" y="2019.40" width="4.83" height="1.10" fill="#14EE14"/>
<rect x="555.22" y="2019.60" width="4.83" height="0.90" fill="#FFC0CB"/>
<rect x="572.62" y="2012.10" width="4.83" height="8.40" fill="#FFC0CB"/>
<rect x="584.22" y="2014.40" width="4.83" height="6.10" fill="#FFC0CB"/>
<rect x="590.01" y="2018.90" width="4.83" height="1.60" fill="#FFC0CB"/>
<rect x="595.81" y="1895.10" width="4.83" height="125.40" fill="#FFC0CB"/>
<rect x="607.41" y="2019.50" width="4.83" height="1.00" fill="#FFC0CB"/>
<rect x="613.21" y="2019.50" width="4.83" height="1.00" fill="#FFC0CB"/>
<rect x="619.01" y="1995.80" width="4.83" height="24.70" fill="#FFC0CB"/>
<rect x="624.81" y="2018.90" width="4.83" height="1.60" fill="#FFC0CB"/>
<rect x="630.61" y="2019.30" width="4.83" height="1.20" fill="#FFC0CB"/>
<rect x="636.41" y="2019.50" width="4.83" height="1.00" fill="#FFC0CB"/>
<rect x="642.21" y="2003.20" width="4.83" height="17.30" fill="#FFC0CB"/>
<rect x="90.70" y="2024.50" width="92.8" height="17.35" fill="#0A32FF"/>
<text class="b" stroke="#fff" stroke-width="0.2" transform="translate(139.4,2041.1) scale(1.0,1)" font-size="21.9" text-anchor="middle" fill="#fff">C&gt;A</text>
<rect x="183.42" y="2024.50" width="92.8" height="17.35" fill="#000000"/>
<text class="b" stroke="#fff" stroke-width="0.2" transform="translate(231.3,2041.1) scale(1.0,1)" font-size="21.9" text-anchor="middle" fill="#fff">C&gt;G</text>
<rect x="276.14" y="2024.50" width="92.8" height="17.35" fill="#FF2A0A"/>
<text class="b" stroke="#fff" stroke-width="0.2" transform="translate(323.7,2041.1) scale(1.0,1)" font-size="21.9" text-anchor="middle" fill="#fff">C&gt;T</text>
<rect x="368.86" y="2024.50" width="92.8" height="17.35" fill="#BEBEBE"/>
<text class="b" stroke="#000" stroke-width="0.2" transform="translate(416.3,2041.1) scale(1.0,1)" font-size="21.9" text-anchor="middle" fill="#000">T&gt;A</text>
<rect x="461.58" y="2024.50" width="92.8" height="17.35" fill="#14EE14"/>
<text class="b" stroke="#000" stroke-width="0.2" transform="translate(508.0,2041.1) scale(1.0,1)" font-size="21.9" text-anchor="middle" fill="#000">T&gt;C</text>
<rect x="554.30" y="2024.50" width="92.8" height="17.35" fill="#FFC0CB"/>
<text class="b" stroke="#000" stroke-width="0.2" transform="translate(599.9,2041.1) scale(1.0,1)" font-size="21.9" text-anchor="middle" fill="#000">T&gt;G</text>
<text class="b" stroke="#000" stroke-width="0.2" transform="translate(1100.5,1789.2) scale(1.0,1)" font-size="26.65" text-anchor="middle" fill="#000">S20</text>
<text class="b" stroke="#000" stroke-width="0.2" transform="translate(1100.5,1821.2) scale(1.0,1)" font-size="26.65" text-anchor="middle" fill="#000">Ref.Sig.11(1.00)</text>
<text class="b" stroke="#000" stroke-width="0.2" transform="translate(1100.5,1853.2) scale(1.0,1)" font-size="26.65" text-anchor="middle" fill="#000">CNS_A(1.00)</text>
<text class="b" stroke="#000" stroke-width="0.2" transform="translate(1100.5,1885.2) scale(1.0,1)" font-size="26.65" text-anchor="middle" fill="#000">PCAWG SBS11(0.99)</text>
<text transform="translate(774.2,2027.8) scale(1.0,1)" font-size="21.9" text-anchor="end" fill="#000">0.00</text>
<text transform="translate(774.2,1988.1) scale(1.0,1)" font-size="21.9" text-anchor="end" fill="#000">0.05</text>
<text transform="translate(774.2,1948.5) scale(1.0,1)" font-size="21.9" text-anchor="end" fill="#000">0.10</text>
<text transform="translate(774.2,1908.8) scale(1.0,1)" font-size="21.9" text-anchor="end" fill="#000">0.15</text>
<path d="M801.5 2020.95V1899.95M787.4 2019.90H801.5M787.4 1980.27H801.5M787.4 1940.63H801.5M787.4 1901.00H801.5" fill="none" stroke="#000" stroke-width="2.1"/>
<rect x="828.65" y="2019.10" width="4.83" height="1.40" fill="#0A32FF"/>
<rect x="840.25" y="2019.10" width="4.83" height="1.40" fill="#0A32FF"/>
<rect x="898.24" y="2019.10" width="4.83" height="1.40" fill="#0A32FF"/>
<rect x="1008.42" y="1997.80" width="4.83" height="22.70" fill="#FF2A0A"/>
<rect x="1014.22" y="1928.30" width="4.83" height="92.20" fill="#FF2A0A"/>
<rect x="1020.02" y="2016.20" width="4.83" height="4.30" fill="#FF2A0A"/>
<rect x="1025.82" y="1949.20" width="4.83" height="71.30" fill="#FF2A0A"/>
<rect x="1031.61" y="2000.40" width="4.83" height="20.10" fill="#FF2A0A"/>
<rect x="1037.41" y="1920.70" width="4.83" height="99.80" fill="#FF2A0A"/>
<rect x="1043.21" y="2018.20" width="4.83" height="2.30" fill="#FF2A0A"/>
<rect x="1049.01" y="1952.60" width="4.83" height="67.90" fill="#FF2A0A"/>
<rect x="1054.81" y="1999.70" width="4.83" height="20.80" fill="#FF2A0A"/>
<rect x="1060.61" y="1944.50" width="4.83" height="76.00" fill="#FF2A0A"/>
<rect x="1066.41" y="2017.00" width="4.83" height="3.50" fill="#FF2A0A"/>
<rect x="1072.21" y="1968.40" width="4.83" height="52.10" fill="#FF2A0A"/>
<rect x="1078.01" y="2002.40" width="4.83" height="18.10" fill="#FF2A0A"/>
<rect x="1083.81" y="1895.10" width="4.83" height="125.40" fill="#FF2A0A"/>
<rect x="1089.60" y="2017.80" width="4.83" height="2.70" fill="#FF2A0A"/>
<rect x="1095.40" y="1928.30" width="4.83" height="92.20" fill="#FF2A0A"/>
<rect x="1193.99" y="2019.00" width="4.83" height="1.50" fill="#14EE14"/>
<rect x="1199.79" y="2019.40" width="4.83" height="1.10" fill="#14EE14"/>
<rect x="1205.58" y="2019.40" width="4.83" height="1.10" fill="#14EE14"/>
<rect x="1211.38" y="2019.40" width="4.83" height="1.10" fill="#14EE14"/>
<rect x="1222.98" y="2019.50" width="4.83" height="1.00" fill="#14EE14"/>
<rect x="1240.38" y="2019.40" width="4.83" height="1.10" fill="#14EE14"/>
<rect x="1246.18" y="2019.40" width="4.83" height="1.10" fill="#14EE14"/>
<rect x="1251.98" y="2019.40" width="4.83" height="1.10" fill="#14EE14"/>
<rect x="1257.78" y="2019.40" width="4.83" height="1.10" fill="#14EE14"/>
<rect x="1269.37" y="2019.60" width="4.83" height="0.90" fill="#14EE14"/>
<rect x="1280.97" y="2019.50" width="4.83" height="1.00" fill="#14EE14"/>
<rect x="822.25" y="2024.50" width="92.8" height="17.35" fill="#0A32FF"/>
<text class="b" stroke="#fff" stroke-width="0.2" transform="translate(870.9,2041.1) scale(1.0,1)" font-size="21.9" text-anchor="middle" fill="#fff">C&gt;A</text>
<rect x="914.97" y="2024.50" width="92.8" height="17.35" fill="#000000"/>
<text class="b" stroke="#fff" stroke-width="0.2" transform="translate(962.9,2041.1) scale(1.0,1)" font-size="21.9" text-anchor="middle" fill="#fff">C&gt;G</text>
<rect x="1007.69" y="2024.50" width="92.8" height="17.35" fill="#FF2A0A"/>
<text class="b" stroke="#fff" stroke-width="0.2" transform="translate(1055.3,2041.1) scale(1.0,1)" font-size="21.9" text-anchor="middle" fill="#fff">C&gt;T</text>
<rect x="1100.41" y="2024.50" width="92.8" height="17.35" fill="#BEBEBE"/>
<text class="b" stroke="#000" stroke-width="0.2" transform="translate(1147.8,2041.1) scale(1.0,1)" font-size="21.9" text-anchor="middle" fill="#000">T&gt;A</text>
<rect x="1193.13" y="2024.50" width="92.8" height="17.35" fill="#14EE14"/>
<text class="b" stroke="#000" stroke-width="0.2" transform="translate(1239.5,2041.1) scale(1.0,1)" font-size="21.9" text-anchor="middle" fill="#000">T&gt;C</text>
<rect x="1285.85" y="2024.50" width="92.8" height="17.35" fill="#FFC0CB"/>
<text class="b" stroke="#000" stroke-width="0.2" transform="translate(1331.5,2041.1) scale(1.0,1)" font-size="21.9" text-anchor="middle" fill="#000">T&gt;G</text>
<text class="b" stroke="#000" stroke-width="0.2" transform="translate(1832.0,1789.2) scale(1.0,1)" font-size="26.65" text-anchor="middle" fill="#000">S21</text>
<text class="b" stroke="#000" stroke-width="0.2" transform="translate(1832.0,1821.2) scale(1.0,1)" font-size="26.65" text-anchor="middle" fill="#000">Ref.Sig.MMR2(0.87)</text>
<text class="b" stroke="#000" stroke-width="0.2" transform="translate(1832.0,1853.2) scale(1.0,1)" font-size="26.65" text-anchor="middle" fill="#000">Uterus_D(0.95)</text>
<text class="b" stroke="#000" stroke-width="0.2" transform="translate(1832.0,1885.2) scale(1.0,1)" font-size="26.65" text-anchor="middle" fill="#000">PCAWG SBS26(0.94)</text>
<text transform="translate(1505.8,2027.8) scale(1.0,1)" font-size="21.9" text-anchor="end" fill="#000">0.00</text>
<text transform="translate(1505.8,2002.4) scale(1.0,1)" font-size="21.9" text-anchor="end" fill="#000">0.02</text>
<text transform="translate(1505.8,1977.1) scale(1.0,1)" font-size="21.9" text-anchor="end" fill="#000">0.04</text>
<text transform="translate(1505.8,1951.8) scale(1.0,1)" font-size="21.9" text-anchor="end" fill="#000">0.06</text>
<text transform="translate(1505.8,1926.5) scale(1.0,1)" font-size="21.9" text-anchor="end" fill="#000">0.08</text>
<path d="M1533.1 2020.95V1917.55M1518.9 2019.90H1533.1M1518.9 1994.58H1533.1M1518.9 1969.25H1533.1M1518.9 1943.93H1533.1M1518.9 1918.60H1533.1" fill="none" stroke="#000" stroke-width="2.1"/>
<rect x="1560.20" y="2017.90" width="4.83" height="2.60" fill="#0A32FF"/>
<rect x="1571.80" y="2019.30" width="4.83" height="1.20" fill="#0A32FF"/>
<rect x="1583.39" y="2008.70" width="4.83" height="11.80" fill="#0A32FF"/>
<rect x="1589.19" y="2017.10" width="4.83" height="3.40" fill="#0A32FF"/>
<rect x="1594.99" y="2001.30" width="4.83" height="19.20" fill="#0A32FF"/>
<rect x="1606.59" y="2018.30" width="4.83" height="2.20" fill="#0A32FF"/>
<rect x="1612.39" y="2019.10" width="4.83" height="1.40" fill="#0A32FF"/>
<rect x="1618.19" y="2018.40" width="4.83" height="2.10" fill="#0A32FF"/>
<rect x="1623.99" y="2018.40" width="4.83" height="2.10" fill="#0A32FF"/>
<rect x="1641.38" y="2015.10" width="4.83" height="5.40" fill="#0A32FF"/>
<rect x="1658.78" y="2019.60" width="4.83" height="0.90" fill="#000000"/>
<rect x="1664.58" y="2018.40" width="4.83" height="2.10" fill="#000000"/>
<rect x="1681.98" y="2019.10" width="4.83" height="1.40" fill="#000000"/>
<rect x="1699.38" y="2019.10" width="4.83" height="1.40" fill="#000000"/>
<rect x="1734.17" y="2017.90" width="4.83" height="2.60" fill="#000000"/>
<rect x="1739.97" y="2013.30" width="4.83" height="7.20" fill="#FF2A0A"/>
<rect x="1745.77" y="2018.30" width="4.83" height="2.20" fill="#FF2A0A"/>
<rect x="1751.57" y="2019.30" width="4.83" height="1.20" fill="#FF2A0A"/>
<rect x="1768.96" y="2014.00" width="4.83" height="6.50" fill="#FF2A0A"/>
<rect x="1774.76" y="2013.30" width="4.83" height="7.20" fill="#FF2A0A"/>
<rect x="1780.56" y="2014.30" width="4.83" height="6.20" fill="#FF2A0A"/>
<rect x="1792.16" y="2007.10" width="4.83" height="13.40" fill="#FF2A0A"/>
<rect x="1797.96" y="1995.20" width="4.83" height="25.30" fill="#FF2A0A"/>
<rect x="1803.76" y="2018.30" width="4.83" height="2.20" fill="#FF2A0A"/>
<rect x="1809.56" y="2015.10" width="4.83" height="5.40" fill="#FF2A0A"/>
<rect x="1815.36" y="2016.80" width="4.83" height="3.70" fill="#FF2A0A"/>
<rect x="1826.95" y="2019.10" width="4.83" height="1.40" fill="#FF2A0A"/>
<rect x="1832.75" y="2015.50" width="4.83" height="5.00" fill="#BEBEBE"/>
<rect x="1844.35" y="2019.40" width="4.83" height="1.10" fill="#BEBEBE"/>
<rect x="1850.15" y="1977.10" width="4.83" height="43.40" fill="#BEBEBE"/>
<rect x="1861.75" y="2017.40" width="4.83" height="3.10" fill="#BEBEBE"/>
<rect x="1867.55" y="2019.40" width="4.83" height="1.10" fill="#BEBEBE"/>
<rect x="1879.14" y="2017.40" width="4.83" height="3.10" fill="#BEBEBE"/>
<rect x="1890.74" y="2014.40" width="4.83" height="6.10" fill="#BEBEBE"/>
<rect x="1896.54" y="2017.40" width="4.83" height="3.10" fill="#BEBEBE"/>
<rect x="1902.34" y="2009.60" width="4.83" height="10.90" fill="#BEBEBE"/>
<rect x="1913.94" y="2018.90" width="4.83" height="1.60" fill="#BEBEBE"/>
<rect x="1919.74" y="2007.00" width="4.83" height="13.50" fill="#BEBEBE"/>
<rect x="1925.54" y="1928.30" width="4.83" height="92.20" fill="#14EE14"/>
<rect x="1931.33" y="1995.20" width="4.83" height="25.30" fill="#14EE14"/>
<rect x="1937.13" y="1895.10" width="4.83" height="125.40" fill="#14EE14"/>
<rect x="1942.93" y="1996.30" width="4.83" height="24.20" fill="#14EE14"/>
<rect x="1948.73" y="1954.90" width="4.83" height="65.60" fill="#14EE14"/>
<rect x="1954.53" y="1985.90" width="4.83" height="34.60" fill="#14EE14"/>
<rect x="1960.33" y="1896.10" width="4.83" height="124.40" fill="#14EE14"/>
<rect x="1966.13" y="1976.30" width="4.83" height="44.20" fill="#14EE14"/>
<rect x="1971.93" y="1923.70" width="4.83" height="96.80" fill="#14EE14"/>
<rect x="1977.73" y="1999.70" width="4.83" height="20.80" fill="#14EE14"/>
<rect x="1983.53" y="1907.30" width="4.83" height="113.20" fill="#14EE14"/>
<rect x="1989.32" y="1970.20" width="4.83" height="50.30" fill="#14EE14"/>
<rect x="1995.12" y="1982.20" width="4.83" height="38.30" fill="#14EE14"/>
<rect x="2000.92" y="2005.20" width="4.83" height="15.30" fill="#14EE14"/>
<rect x="2006.72" y="1942.90" width="4.83" height="77.60" fill="#14EE14"/>
<rect x="2012.52" y="1976.00" width="4.83" height="44.50" fill="#14EE14"/>
<rect x="2018.32" y="2018.90" width="4.83" height="1.60" fill="#FFC0CB"/>
<rect x="2024.12" y="2017.40" width="4.83" height="3.10" fill="#FFC0CB"/>
<rect x="2029.92" y="2018.20" width="4.83" height="2.30" fill="#FFC0CB"/>
<rect x="2035.72" y="2018.90" width="4.83" height="1.60" fill="#FFC0CB"/>
<rect x="2041.52" y="2018.50" width="4.83" height="2.00" fill="#FFC0CB"/>
<rect x="2047.31" y="2007.00" width="4.83" height="13.50" fill="#FFC0CB"/>
<rect x="2053.11" y="2005.50" width="4.83" height="15.00" fill="#FFC0CB"/>
<rect x="2058.91" y="2015.00" width="4.83" height="5.50" fill="#FFC0CB"/>
<rect x="2064.71" y="2019.40" width="4.83" height="1.10" fill="#FFC0CB"/>
<rect x="2070.51" y="2018.90" width="4.83" height="1.60" fill="#FFC0CB"/>
<rect x="2076.31" y="2018.70" width="4.83" height="1.80" fill="#FFC0CB"/>
<rect x="2082.11" y="2019.50" width="4.83" height="1.00" fill="#FFC0CB"/>
<rect x="2093.71" y="2019.30" width="4.83" height="1.20" fill="#FFC0CB"/>
<rect x="2099.51" y="2016.50" width="4.83" height="4.00" fill="#FFC0CB"/>
<rect x="1553.80" y="2024.50" width="92.8" height="17.35" fill="#0A32FF"/>
<text class="b" stroke="#fff" stroke-width="0.2" transform="translate(1602.5,2041.1) scale(1.0,1)" font-size="21.9" text-anchor="middle" fill="#fff">C&gt;A</text>
<rect x="1646.52" y="2024.50" width="92.8" height="17.35" fill="#000000"/>
<text class="b" stroke="#fff" stroke-width="0.2" transform="translate(1694.4,2041.1) scale(1.0,1)" font-size="21.9" text-anchor="middle" fill="#fff">C&gt;G</text>
<rect x="1739.24" y="2024.50" width="92.8" height="17.35" fill="#FF2A0A"/>
<text class="b" stroke="#fff" stroke-width="0.2" transform="translate(1786.8,2041.1) scale(1.0,1)" font-size="21.9" text-anchor="middle" fill="#fff">C&gt;T</text>
<rect x="1831.96" y="2024.50" width="92.8" height="17.35" fill="#BEBEBE"/>
<text class="b" stroke="#000" stroke-width="0.2" transform="translate(1879.4,2041.1) scale(1.0,1)" font-size="21.9" text-anchor="middle" fill="#000">T&gt;A</text>
<rect x="1924.68" y="2024.50" width="92.8" height="17.35" fill="#14EE14"/>
<text class="b" stroke="#000" stroke-width="0.2" transform="translate(1971.1,2041.1) scale(1.0,1)" font-size="21.9" text-anchor="middle" fill="#000">T&gt;C</text>
<rect x="2017.40" y="2024.50" width="92.8" height="17.35" fill="#FFC0CB"/>
<text class="b" stroke="#000" stroke-width="0.2" transform="translate(2063.0,2041.1) scale(1.0,1)" font-size="21.9" text-anchor="middle" fill="#000">T&gt;G</text>
<text class="b" stroke="#000" stroke-width="0.2" transform="translate(368.9,2075.2) scale(1.0,1)" font-size="26.65" text-anchor="middle" fill="#000">S22</text>
<text class="b" stroke="#000" stroke-width="0.2" transform="translate(368.9,2107.2) scale(1.0,1)" font-size="26.65" text-anchor="middle" fill="#000">Ref.Sig.2(0.95)</text>
<text class="b" stroke="#000" stroke-width="0.2" transform="translate(368.9,2139.2) scale(1.0,1)" font-size="26.65" text-anchor="middle" fill="#000">Pancreas_C(0.99)</text>
<text class="b" stroke="#000" stroke-width="0.2" transform="translate(368.9,2171.2) scale(1.0,1)" font-size="26.65" text-anchor="middle" fill="#000">PCAWG SBS2(1.00)</text>
<text transform="translate(42.7,2313.8) scale(1.0,1)" font-size="21.9" text-anchor="end" fill="#000">0.0</text>
<text transform="translate(42.7,2285.5) scale(1.0,1)" font-size="21.9" text-anchor="end" fill="#000">0.1</text>
<text transform="translate(42.7,2257.1) scale(1.0,1)" font-size="21.9" text-anchor="end" fill="#000">0.2</text>
<text transform="translate(42.7,2228.8) scale(1.0,1)" font-size="21.9" text-anchor="end" fill="#000">0.3</text>
<text transform="translate(42.7,2200.4) scale(1.0,1)" font-size="21.9" text-anchor="end" fill="#000">0.4</text>
<path d="M70.0 2307.00V2191.50M55.8 2305.95H70.0M55.8 2277.60H70.0M55.8 2249.25H70.0M55.8 2220.90H70.0M55.8 2192.55H70.0" fill="none" stroke="#000" stroke-width="2.1"/>
<rect x="91.30" y="2305.25" width="4.83" height="1.30" fill="#0A32FF"/>
<rect x="97.10" y="2305.25" width="4.83" height="1.30" fill="#0A32FF"/>
<rect x="108.70" y="2305.25" width="4.83" height="1.30" fill="#0A32FF"/>
<rect x="114.50" y="2305.25" width="4.83" height="1.30" fill="#0A32FF"/>
<rect x="126.09" y="2305.25" width="4.83" height="1.30" fill="#0A32FF"/>
<rect x="137.69" y="2305.25" width="4.83" height="1.30" fill="#0A32FF"/>
<rect x="143.49" y="2305.25" width="4.83" height="1.30" fill="#0A32FF"/>
<rect x="160.89" y="2301.95" width="4.83" height="4.60" fill="#0A32FF"/>
<rect x="166.69" y="2305.15" width="4.83" height="1.40" fill="#0A32FF"/>
<rect x="178.28" y="2303.95" width="4.83" height="2.60" fill="#0A32FF"/>
<rect x="189.88" y="2305.25" width="4.83" height="1.30" fill="#000000"/>
<rect x="213.08" y="2305.25" width="4.83" height="1.30" fill="#000000"/>
<rect x="236.28" y="2305.25" width="4.83" height="1.30" fill="#000000"/>
<rect x="253.67" y="2300.95" width="4.83" height="5.60" fill="#000000"/>
<rect x="259.47" y="2305.15" width="4.83" height="1.40" fill="#000000"/>
<rect x="271.07" y="2300.95" width="4.83" height="5.60" fill="#000000"/>
<rect x="276.87" y="2303.95" width="4.83" height="2.60" fill="#FF2A0A"/>
<rect x="282.67" y="2305.15" width="4.83" height="1.40" fill="#FF2A0A"/>
<rect x="294.26" y="2305.35" width="4.83" height="1.20" fill="#FF2A0A"/>
<rect x="300.06" y="2299.95" width="4.83" height="6.60" fill="#FF2A0A"/>
<rect x="305.86" y="2305.35" width="4.83" height="1.20" fill="#FF2A0A"/>
<rect x="311.66" y="2305.45" width="4.83" height="1.10" fill="#FF2A0A"/>
<rect x="317.46" y="2304.95" width="4.83" height="1.60" fill="#FF2A0A"/>
<rect x="323.26" y="2303.95" width="4.83" height="2.60" fill="#FF2A0A"/>
<rect x="329.06" y="2305.25" width="4.83" height="1.30" fill="#FF2A0A"/>
<rect x="340.66" y="2305.35" width="4.83" height="1.20" fill="#FF2A0A"/>
<rect x="346.46" y="2180.55" width="4.83" height="126.00" fill="#FF2A0A"/>
<rect x="352.26" y="2275.45" width="4.83" height="31.10" fill="#FF2A0A"/>
<rect x="358.05" y="2293.85" width="4.83" height="12.70" fill="#FF2A0A"/>
<rect x="363.85" y="2232.25" width="4.83" height="74.30" fill="#FF2A0A"/>
<rect x="369.65" y="2305.65" width="4.83" height="0.90" fill="#BEBEBE"/>
<rect x="375.45" y="2305.65" width="4.83" height="0.90" fill="#BEBEBE"/>
<rect x="381.25" y="2305.65" width="4.83" height="0.90" fill="#BEBEBE"/>
<rect x="439.24" y="2305.65" width="4.83" height="0.90" fill="#BEBEBE"/>
<rect x="479.83" y="2305.55" width="4.83" height="1.00" fill="#14EE14"/>
<rect x="514.63" y="2305.55" width="4.83" height="1.00" fill="#14EE14"/>
<rect x="520.43" y="2305.55" width="4.83" height="1.00" fill="#14EE14"/>
<rect x="526.23" y="2305.55" width="4.83" height="1.00" fill="#14EE14"/>
<rect x="532.02" y="2305.55" width="4.83" height="1.00" fill="#14EE14"/>
<rect x="613.21" y="2305.65" width="4.83" height="0.90" fill="#FFC0CB"/>
<rect x="636.41" y="2305.65" width="4.83" height="0.90" fill="#FFC0CB"/>
<rect x="90.70" y="2310.55" width="92.8" height="17.35" fill="#0A32FF"/>
<text class="b" stroke="#fff" stroke-width="0.2" transform="translate(139.4,2327.2) scale(1.0,1)" font-size="21.9" text-anchor="middle" fill="#fff">C&gt;A</text>
<rect x="183.42" y="2310.55" width="92.8" height="17.35" fill="#000000"/>
<text class="b" stroke="#fff" stroke-width="0.2" transform="translate(231.3,2327.2) scale(1.0,1)" font-size="21.9" text-anchor="middle" fill="#fff">C&gt;G</text>
<rect x="276.14" y="2310.55" width="92.8" height="17.35" fill="#FF2A0A"/>
<text class="b" stroke="#fff" stroke-width="0.2" transform="translate(323.7,2327.2) scale(1.0,1)" font-size="21.9" text-anchor="middle" fill="#fff">C&gt;T</text>
<rect x="368.86" y="2310.55" width="92.8" height="17.35" fill="#BEBEBE"/>
<text class="b" stroke="#000" stroke-width="0.2" transform="translate(416.3,2327.2) scale(1.0,1)" font-size="21.9" text-anchor="middle" fill="#000">T&gt;A</text>
<rect x="461.58" y="2310.55" width="92.8" height="17.35" fill="#14EE14"/>
<text class="b" stroke="#000" stroke-width="0.2" transform="translate(508.0,2327.2) scale(1.0,1)" font-size="21.9" text-anchor="middle" fill="#000">T&gt;C</text>
<rect x="554.30" y="2310.55" width="92.8" height="17.35" fill="#FFC0CB"/>
<text class="b" stroke="#000" stroke-width="0.2" transform="translate(599.9,2327.2) scale(1.0,1)" font-size="21.9" text-anchor="middle" fill="#000">T&gt;G</text>
<text class="b" stroke="#000" stroke-width="0.2" transform="translate(1100.5,2075.2) scale(1.0,1)" font-size="26.65" text-anchor="middle" fill="#000">S23</text>
<text class="b" stroke="#000" stroke-width="0.2" transform="translate(1100.5,2107.2) scale(1.0,1)" font-size="26.65" text-anchor="middle" fill="#000">Ref.Sig.N1(0.79)</text>
<text class="b" stroke="#000" stroke-width="0.2" transform="translate(1100.5,2139.2) scale(1.0,1)" font-size="26.65" text-anchor="middle" fill="#000">Pancreas_A(0.86)</text>
<text class="b" stroke="#000" stroke-width="0.2" transform="translate(1100.5,2171.2) scale(1.0,1)" font-size="26.65" text-anchor="middle" fill="#000">PCAWG SBS34(0.71)</text>
<text transform="translate(774.2,2313.8) scale(1.0,1)" font-size="21.9" text-anchor="end" fill="#000">0.00</text>
<text transform="translate(774.2,2289.2) scale(1.0,1)" font-size="21.9" text-anchor="end" fill="#000">0.02</text>
<text transform="translate(774.2,2264.6) scale(1.0,1)" font-size="21.9" text-anchor="end" fill="#000">0.04</text>
<text transform="translate(774.2,2240.1) scale(1.0,1)" font-size="21.9" text-anchor="end" fill="#000">0.06</text>
<text transform="translate(774.2,2215.5) scale(1.0,1)" font-size="21.9" text-anchor="end" fill="#000">0.08</text>
<text transform="translate(774.2,2190.9) scale(1.0,1)" font-size="21.9" text-anchor="end" fill="#000">0.10</text>
<path d="M801.5 2307.00V2182.00M787.4 2305.95H801.5M787.4 2281.37H801.5M787.4 2256.79H801.5M787.4 2232.21H801.5M787.4 2207.63H801.5M787.4 2183.05H801.5" fill="none" stroke="#000" stroke-width="2.1"/>
<rect x="822.85" y="2292.75" width="4.83" height="13.80" fill="#0A32FF"/>
<rect x="828.65" y="2278.95" width="4.83" height="27.60" fill="#0A32FF"/>
<rect x="840.25" y="2288.95" width="4.83" height="17.60" fill="#0A32FF"/>
<rect x="846.05" y="2301.65" width="4.83" height="4.90" fill="#0A32FF"/>
<rect x="857.64" y="2305.15" width="4.83" height="1.40" fill="#0A32FF"/>
<rect x="863.44" y="2305.15" width="4.83" height="1.40" fill="#0A32FF"/>
<rect x="886.64" y="2305.15" width="4.83" height="1.40" fill="#0A32FF"/>
<rect x="892.44" y="2274.35" width="4.83" height="32.20" fill="#0A32FF"/>
<rect x="909.84" y="2205.85" width="4.83" height="100.70" fill="#0A32FF"/>
<rect x="915.63" y="2298.95" width="4.83" height="7.60" fill="#000000"/>
<rect x="921.43" y="2298.95" width="4.83" height="7.60" fill="#000000"/>
<rect x="933.03" y="2290.75" width="4.83" height="15.80" fill="#000000"/>
<rect x="938.83" y="2305.15" width="4.83" height="1.40" fill="#000000"/>
<rect x="956.23" y="2303.95" width="4.83" height="2.60" fill="#000000"/>
<rect x="962.03" y="2303.95" width="4.83" height="2.60" fill="#000000"/>
<rect x="967.83" y="2303.95" width="4.83" height="2.60" fill="#000000"/>
<rect x="979.42" y="2299.95" width="4.83" height="6.60" fill="#000000"/>
<rect x="991.02" y="2300.75" width="4.83" height="5.80" fill="#000000"/>
<rect x="1002.62" y="2293.55" width="4.83" height="13.00" fill="#000000"/>
<rect x="1008.42" y="2291.95" width="4.83" height="14.60" fill="#FF2A0A"/>
<rect x="1014.22" y="2295.85" width="4.83" height="10.70" fill="#FF2A0A"/>
<rect x="1025.82" y="2277.15" width="4.83" height="29.40" fill="#FF2A0A"/>
<rect x="1031.61" y="2280.05" width="4.83" height="26.50" fill="#FF2A0A"/>
<rect x="1043.21" y="2276.15" width="4.83" height="30.40" fill="#FF2A0A"/>
<rect x="1049.01" y="2293.85" width="4.83" height="12.70" fill="#FF2A0A"/>
<rect x="1054.81" y="2299.95" width="4.83" height="6.60" fill="#FF2A0A"/>
<rect x="1066.41" y="2250.85" width="4.83" height="55.70" fill="#FF2A0A"/>
<rect x="1072.21" y="2287.85" width="4.83" height="18.70" fill="#FF2A0A"/>
<rect x="1078.01" y="2305.15" width="4.83" height="1.40" fill="#FF2A0A"/>
<rect x="1083.81" y="2259.75" width="4.83" height="46.80" fill="#FF2A0A"/>
<rect x="1089.60" y="2289.95" width="4.83" height="16.60" fill="#FF2A0A"/>
<rect x="1095.40" y="2247.95" width="4.83" height="58.60" fill="#FF2A0A"/>
<rect x="1101.20" y="2265.45" width="4.83" height="41.10" fill="#BEBEBE"/>
<rect x="1107.00" y="2285.45" width="4.83" height="21.10" fill="#BEBEBE"/>
<rect x="1112.80" y="2291.95" width="4.83" height="14.60" fill="#BEBEBE"/>
<rect x="1118.60" y="2180.35" width="4.83" height="126.20" fill="#BEBEBE"/>
<rect x="1124.40" y="2300.15" width="4.83" height="6.40" fill="#BEBEBE"/>
<rect x="1141.80" y="2291.95" width="4.83" height="14.60" fill="#BEBEBE"/>
<rect x="1147.59" y="2300.95" width="4.83" height="5.60" fill="#BEBEBE"/>
<rect x="1164.99" y="2293.85" width="4.83" height="12.70" fill="#BEBEBE"/>
<rect x="1170.79" y="2207.95" width="4.83" height="98.60" fill="#BEBEBE"/>
<rect x="1176.59" y="2299.25" width="4.83" height="7.30" fill="#BEBEBE"/>
<rect x="1182.39" y="2303.05" width="4.83" height="3.50" fill="#BEBEBE"/>
<rect x="1188.19" y="2250.85" width="4.83" height="55.70" fill="#BEBEBE"/>
<rect x="1193.99" y="2280.95" width="4.83" height="25.60" fill="#14EE14"/>
<rect x="1199.79" y="2292.75" width="4.83" height="13.80" fill="#14EE14"/>
<rect x="1205.58" y="2305.15" width="4.83" height="1.40" fill="#14EE14"/>
<rect x="1211.38" y="2284.75" width="4.83" height="21.80" fill="#14EE14"/>
<rect x="1217.18" y="2305.15" width="4.83" height="1.40" fill="#14EE14"/>
<rect x="1234.58" y="2296.25" width="4.83" height="10.30" fill="#14EE14"/>
<rect x="1240.38" y="2301.15" width="4.83" height="5.40" fill="#14EE14"/>
<rect x="1246.18" y="2293.95" width="4.83" height="12.60" fill="#14EE14"/>
<rect x="1251.98" y="2301.95" width="4.83" height="4.60" fill="#14EE14"/>
<rect x="1257.78" y="2284.75" width="4.83" height="21.80" fill="#14EE14"/>
<rect x="1263.57" y="2299.25" width="4.83" height="7.30" fill="#14EE14"/>
<rect x="1269.37" y="2273.95" width="4.83" height="32.60" fill="#14EE14"/>
<rect x="1275.17" y="2303.05" width="4.83" height="3.50" fill="#14EE14"/>
<rect x="1280.97" y="2255.45" width="4.83" height="51.10" fill="#14EE14"/>
<rect x="1286.77" y="2300.45" width="4.83" height="6.10" fill="#FFC0CB"/>
<rect x="1298.37" y="2305.15" width="4.83" height="1.40" fill="#FFC0CB"/>
<rect x="1309.97" y="2300.45" width="4.83" height="6.10" fill="#FFC0CB"/>
<rect x="1321.56" y="2301.15" width="4.83" height="5.40" fill="#FFC0CB"/>
<rect x="1327.36" y="2305.15" width="4.83" height="1.40" fill="#FFC0CB"/>
<rect x="1333.16" y="2304.25" width="4.83" height="2.30" fill="#FFC0CB"/>
<rect x="1350.56" y="2305.15" width="4.83" height="1.40" fill="#FFC0CB"/>
<rect x="1356.36" y="2304.25" width="4.83" height="2.30" fill="#FFC0CB"/>
<rect x="1367.96" y="2301.95" width="4.83" height="4.60" fill="#FFC0CB"/>
<rect x="1373.76" y="2288.95" width="4.83" height="17.60" fill="#FFC0CB"/>
<rect x="822.25" y="2310.55" width="92.8" height="17.35" fill="#0A32FF"/>
<text class="b" stroke="#fff" stroke-width="0.2" transform="translate(870.9,2327.2) scale(1.0,1)" font-size="21.9" text-anchor="middle" fill="#fff">C&gt;A</text>
<rect x="914.97" y="2310.55" width="92.8" height="17.35" fill="#000000"/>
<text class="b" stroke="#fff" stroke-width="0.2" transform="translate(962.9,2327.2) scale(1.0,1)" font-size="21.9" text-anchor="middle" fill="#fff">C&gt;G</text>
<rect x="1007.69" y="2310.55" width="92.8" height="17.35" fill="#FF2A0A"/>
<text class="b" stroke="#fff" stroke-width="0.2" transform="translate(1055.3,2327.2) scale(1.0,1)" font-size="21.9" text-anchor="middle" fill="#fff">C&gt;T</text>
<rect x="1100.41" y="2310.55" width="92.8" height="17.35" fill="#BEBEBE"/>
<text class="b" stroke="#000" stroke-width="0.2" transform="translate(1147.8,2327.2) scale(1.0,1)" font-size="21.9" text-anchor="middle" fill="#000">T&gt;A</text>
<rect x="1193.13" y="2310.55" width="92.8" height="17.35" fill="#14EE14"/>
<text class="b" stroke="#000" stroke-width="0.2" transform="translate(1239.5,2327.2) scale(1.0,1)" font-size="21.9" text-anchor="middle" fill="#000">T&gt;C</text>
<rect x="1285.85" y="2310.55" width="92.8" height="17.35" fill="#FFC0CB"/>
<text class="b" stroke="#000" stroke-width="0.2" transform="translate(1331.5,2327.2) scale(1.0,1)" font-size="21.9" text-anchor="middle" fill="#000">T&gt;G</text>
<text class="b" stroke="#000" stroke-width="0.2" transform="translate(1832.0,2075.2) scale(1.0,1)" font-size="26.65" text-anchor="middle" fill="#000">S24</text>
<text class="b" stroke="#000" stroke-width="0.2" transform="translate(1832.0,2107.2) scale(1.0,1)" font-size="26.65" text-anchor="middle" fill="#000">Ref.Sig.16(0.93)</text>
<text class="b" stroke="#000" stroke-width="0.2" transform="translate(1832.0,2139.2) scale(1.0,1)" font-size="26.65" text-anchor="middle" fill="#000">Liver_A(0.96)</text>
<text class="b" stroke="#000" stroke-width="0.2" transform="translate(1832.0,2171.2) scale(1.0,1)" font-size="26.65" text-anchor="middle" fill="#000">PCAWG SBS16(0.96)</text>
<text transform="translate(1505.8,2313.8) scale(1.0,1)" font-size="21.9" text-anchor="end" fill="#000">0.00</text>
<text transform="translate(1505.8,2281.9) scale(1.0,1)" font-size="21.9" text-anchor="end" fill="#000">0.05</text>
<text transform="translate(1505.8,2249.9) scale(1.0,1)" font-size="21.9" text-anchor="end" fill="#000">0.10</text>
<text transform="translate(1505.8,2218.0) scale(1.0,1)" font-size="21.9" text-anchor="end" fill="#000">0.15</text>
<path d="M1533.1 2307.00V2209.10M1518.9 2305.95H1533.1M1518.9 2274.02H1533.1M1518.9 2242.08H1533.1M1518.9 2210.15H1533.1" fill="none" stroke="#000" stroke-width="2.1"/>
<rect x="1554.40" y="2295.65" width="4.83" height="10.90" fill="#0A32FF"/>
<rect x="1560.20" y="2299.25" width="4.83" height="7.30" fill="#0A32FF"/>
<rect x="1566.00" y="2304.15" width="4.83" height="2.40" fill="#0A32FF"/>
<rect x="1571.80" y="2304.15" width="4.83" height="2.40" fill="#0A32FF"/>
<rect x="1577.60" y="2292.75" width="4.83" height="13.80" fill="#0A32FF"/>
<rect x="1583.39" y="2299.95" width="4.83" height="6.60" fill="#0A32FF"/>
<rect x="1589.19" y="2304.55" width="4.83" height="2.00" fill="#0A32FF"/>
<rect x="1600.79" y="2301.55" width="4.83" height="5.00" fill="#0A32FF"/>
<rect x="1606.59" y="2297.65" width="4.83" height="8.90" fill="#0A32FF"/>
<rect x="1612.39" y="2303.05" width="4.83" height="3.50" fill="#0A32FF"/>
<rect x="1618.19" y="2304.25" width="4.83" height="2.30" fill="#0A32FF"/>
<rect x="1623.99" y="2299.95" width="4.83" height="6.60" fill="#0A32FF"/>
<rect x="1629.79" y="2294.95" width="4.83" height="11.60" fill="#0A32FF"/>
<rect x="1635.59" y="2303.55" width="4.83" height="3.00" fill="#0A32FF"/>
<rect x="1664.58" y="2304.55" width="4.83" height="2.00" fill="#000000"/>
<rect x="1670.38" y="2303.05" width="4.83" height="3.50" fill="#000000"/>
<rect x="1676.18" y="2301.95" width="4.83" height="4.60" fill="#000000"/>
<rect x="1681.98" y="2304.25" width="4.83" height="2.30" fill="#000000"/>
<rect x="1687.78" y="2299.25" width="4.83" height="7.30" fill="#000000"/>
<rect x="1699.38" y="2305.15" width="4.83" height="1.40" fill="#000000"/>
<rect x="1710.97" y="2305.15" width="4.83" height="1.40" fill="#000000"/>
<rect x="1722.57" y="2303.05" width="4.83" height="3.50" fill="#000000"/>
<rect x="1728.37" y="2305.15" width="4.83" height="1.40" fill="#000000"/>
<rect x="1734.17" y="2297.65" width="4.83" height="8.90" fill="#000000"/>
<rect x="1739.97" y="2299.95" width="4.83" height="6.60" fill="#FF2A0A"/>
<rect x="1745.77" y="2300.45" width="4.83" height="6.10" fill="#FF2A0A"/>
<rect x="1751.57" y="2301.55" width="4.83" height="5.00" fill="#FF2A0A"/>
<rect x="1757.36" y="2303.85" width="4.83" height="2.70" fill="#FF2A0A"/>
<rect x="1763.16" y="2296.45" width="4.83" height="10.10" fill="#FF2A0A"/>
<rect x="1768.96" y="2305.15" width="4.83" height="1.40" fill="#FF2A0A"/>
<rect x="1780.56" y="2301.05" width="4.83" height="5.50" fill="#FF2A0A"/>
<rect x="1786.36" y="2292.35" width="4.83" height="14.20" fill="#FF2A0A"/>
<rect x="1792.16" y="2299.65" width="4.83" height="6.90" fill="#FF2A0A"/>
<rect x="1803.76" y="2298.45" width="4.83" height="8.10" fill="#FF2A0A"/>
<rect x="1809.56" y="2299.65" width="4.83" height="6.90" fill="#FF2A0A"/>
<rect x="1815.36" y="2298.45" width="4.83" height="8.10" fill="#FF2A0A"/>
<rect x="1821.15" y="2305.15" width="4.83" height="1.40" fill="#FF2A0A"/>
<rect x="1826.95" y="2294.15" width="4.83" height="12.40" fill="#FF2A0A"/>
<rect x="1832.75" y="2290.45" width="4.83" height="16.10" fill="#BEBEBE"/>
<rect x="1838.55" y="2297.35" width="4.83" height="9.20" fill="#BEBEBE"/>
<rect x="1844.35" y="2293.95" width="4.83" height="12.60" fill="#BEBEBE"/>
<rect x="1850.15" y="2301.15" width="4.83" height="5.40" fill="#BEBEBE"/>
<rect x="1861.75" y="2302.45" width="4.83" height="4.10" fill="#BEBEBE"/>
<rect x="1867.55" y="2303.45" width="4.83" height="3.10" fill="#BEBEBE"/>
<rect x="1873.34" y="2304.95" width="4.83" height="1.60" fill="#BEBEBE"/>
<rect x="1884.94" y="2304.25" width="4.83" height="2.30" fill="#BEBEBE"/>
<rect x="1890.74" y="2301.95" width="4.83" height="4.60" fill="#BEBEBE"/>
<rect x="1908.14" y="2301.15" width="4.83" height="5.40" fill="#BEBEBE"/>
<rect x="1913.94" y="2301.95" width="4.83" height="4.60" fill="#BEBEBE"/>
<rect x="1925.54" y="2180.35" width="4.83" height="126.20" fill="#14EE14"/>
<rect x="1931.33" y="2291.95" width="4.83" height="14.60" fill="#14EE14"/>
<rect x="1937.13" y="2245.95" width="4.83" height="60.60" fill="#14EE14"/>
<rect x="1942.93" y="2220.65" width="4.83" height="85.90" fill="#14EE14"/>
<rect x="1948.73" y="2300.45" width="4.83" height="6.10" fill="#14EE14"/>
<rect x="1960.33" y="2302.75" width="4.83" height="3.80" fill="#14EE14"/>
<rect x="1966.13" y="2300.45" width="4.83" height="6.10" fill="#14EE14"/>
<rect x="1971.93" y="2297.35" width="4.83" height="9.20" fill="#14EE14"/>
<rect x="1977.73" y="2303.15" width="4.83" height="3.40" fill="#14EE14"/>
<rect x="1983.53" y="2303.15" width="4.83" height="3.40" fill="#14EE14"/>
<rect x="1989.32" y="2291.25" width="4.83" height="15.30" fill="#14EE14"/>
<rect x="1995.12" y="2297.35" width="4.83" height="9.20" fill="#14EE14"/>
<rect x="2006.72" y="2299.35" width="4.83" height="7.20" fill="#14EE14"/>
<rect x="2012.52" y="2293.95" width="4.83" height="12.60" fill="#14EE14"/>
<rect x="2018.32" y="2303.45" width="4.83" height="3.10" fill="#FFC0CB"/>
<rect x="2024.12" y="2305.45" width="4.83" height="1.10" fill="#FFC0CB"/>
<rect x="2029.92" y="2305.45" width="4.83" height="1.10" fill="#FFC0CB"/>
<rect x="2041.52" y="2304.45" width="4.83" height="2.10" fill="#FFC0CB"/>
<rect x="2047.31" y="2304.45" width="4.83" height="2.10" fill="#FFC0CB"/>
<rect x="2053.11" y="2305.15" width="4.83" height="1.40" fill="#FFC0CB"/>
<rect x="2064.71" y="2305.45" width="4.83" height="1.10" fill="#FFC0CB"/>
<rect x="2070.51" y="2305.45" width="4.83" height="1.10" fill="#FFC0CB"/>
<rect x="2087.91" y="2305.45" width="4.83" height="1.10" fill="#FFC0CB"/>
<rect x="2093.71" y="2305.15" width="4.83" height="1.40" fill="#FFC0CB"/>
<rect x="1553.80" y="2310.55" width="92.8" height="17.35" fill="#0A32FF"/>
<text class="b" stroke="#fff" stroke-width="0.2" transform="translate(1602.5,2327.2) scale(1.0,1)" font-size="21.9" text-anchor="middle" fill="#fff">C&gt;A</text>
<rect x="1646.52" y="2310.55" width="92.8" height="17.35" fill="#000000"/>
<text class="b" stroke="#fff" stroke-width="0.2" transform="translate(1694.4,2327.2) scale(1.0,1)" font-size="21.9" text-anchor="middle" fill="#fff">C&gt;G</text>
<rect x="1739.24" y="2310.55" width="92.8" height="17.35" fill="#FF2A0A"/>
<text class="b" stroke="#fff" stroke-width="0.2" transform="translate(1786.8,2327.2) scale(1.0,1)" font-size="21.9" text-anchor="middle" fill="#fff">C&gt;T</text>
<rect x="1831.96" y="2310.55" width="92.8" height="17.35" fill="#BEBEBE"/>
<text class="b" stroke="#000" stroke-width="0.2" transform="translate(1879.4,2327.2) scale(1.0,1)" font-size="21.9" text-anchor="middle" fill="#000">T&gt;A</text>
<rect x="1924.68" y="2310.55" width="92.8" height="17.35" fill="#14EE14"/>
<text class="b" stroke="#000" stroke-width="0.2" transform="translate(1971.1,2327.2) scale(1.0,1)" font-size="21.9" text-anchor="middle" fill="#000">T&gt;C</text>
<rect x="2017.40" y="2310.55" width="92.8" height="17.35" fill="#FFC0CB"/>
<text class="b" stroke="#000" stroke-width="0.2" transform="translate(2063.0,2327.2) scale(1.0,1)" font-size="21.9" text-anchor="middle" fill="#000">T&gt;G</text>
</svg></body></html>
